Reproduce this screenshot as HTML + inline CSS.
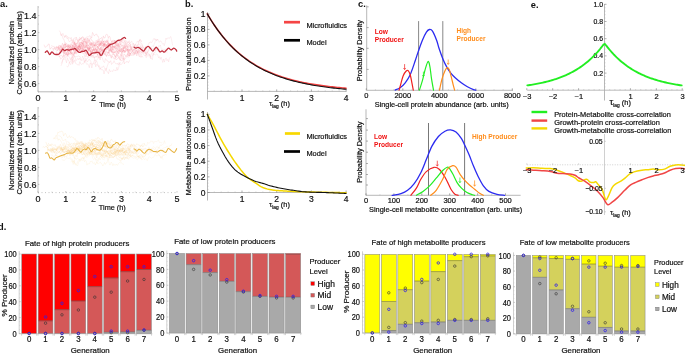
<!DOCTYPE html>
<html><head><meta charset="utf-8"><style>
html,body{margin:0;padding:0;background:#fff;width:685px;height:355px;overflow:hidden}
svg{display:block;will-change:transform}
text{font-family:"Liberation Sans",sans-serif}
</style></head><body>
<svg width="685" height="355" viewBox="0 0 685 355">
<rect width="685" height="355" fill="#fff"/>
<text x="0.00" y="7.30" font-size="9.3" text-anchor="start" fill="#111" font-weight="bold">a.</text>
<text x="185.00" y="7.30" font-size="9.3" text-anchor="start" fill="#111" font-weight="bold">b.</text>
<text x="358.00" y="7.30" font-size="9.3" text-anchor="start" fill="#111" font-weight="bold">c.</text>
<text x="530.80" y="8.00" font-size="9.3" text-anchor="start" fill="#111" font-weight="bold">e.</text>
<text x="-2.00" y="229.70" font-size="9.3" text-anchor="start" fill="#111" font-weight="bold">d.</text>
<line x1="38.00" y1="6.00" x2="38.00" y2="91.80" stroke="#aaa" stroke-width="0.7"/>
<line x1="38.00" y1="91.80" x2="178.00" y2="91.80" stroke="#999" stroke-width="0.7"/>
<line x1="38.00" y1="91.80" x2="38.00" y2="90.30" stroke="#aaa" stroke-width="0.6"/>
<text x="38.00" y="101.14" font-size="9.0" text-anchor="middle" fill="#111" stroke="#111" stroke-width="0.2">0</text>
<line x1="65.80" y1="91.80" x2="65.80" y2="90.30" stroke="#aaa" stroke-width="0.6"/>
<text x="65.80" y="101.14" font-size="9.0" text-anchor="middle" fill="#111" stroke="#111" stroke-width="0.2">1</text>
<line x1="93.60" y1="91.80" x2="93.60" y2="90.30" stroke="#aaa" stroke-width="0.6"/>
<text x="93.60" y="101.14" font-size="9.0" text-anchor="middle" fill="#111" stroke="#111" stroke-width="0.2">2</text>
<line x1="121.40" y1="91.80" x2="121.40" y2="90.30" stroke="#aaa" stroke-width="0.6"/>
<text x="121.40" y="101.14" font-size="9.0" text-anchor="middle" fill="#111" stroke="#111" stroke-width="0.2">3</text>
<line x1="149.20" y1="91.80" x2="149.20" y2="90.30" stroke="#aaa" stroke-width="0.6"/>
<text x="149.20" y="101.14" font-size="9.0" text-anchor="middle" fill="#111" stroke="#111" stroke-width="0.2">4</text>
<line x1="177.00" y1="91.80" x2="177.00" y2="90.30" stroke="#aaa" stroke-width="0.6"/>
<text x="177.00" y="101.14" font-size="9.0" text-anchor="middle" fill="#111" stroke="#111" stroke-width="0.2">5</text>
<line x1="51.90" y1="91.80" x2="51.90" y2="90.80" stroke="#aaa" stroke-width="0.5"/>
<line x1="65.80" y1="91.80" x2="65.80" y2="90.80" stroke="#aaa" stroke-width="0.5"/>
<line x1="79.70" y1="91.80" x2="79.70" y2="90.80" stroke="#aaa" stroke-width="0.5"/>
<line x1="93.60" y1="91.80" x2="93.60" y2="90.80" stroke="#aaa" stroke-width="0.5"/>
<line x1="107.50" y1="91.80" x2="107.50" y2="90.80" stroke="#aaa" stroke-width="0.5"/>
<line x1="121.40" y1="91.80" x2="121.40" y2="90.80" stroke="#aaa" stroke-width="0.5"/>
<line x1="135.30" y1="91.80" x2="135.30" y2="90.80" stroke="#aaa" stroke-width="0.5"/>
<line x1="149.20" y1="91.80" x2="149.20" y2="90.80" stroke="#aaa" stroke-width="0.5"/>
<line x1="163.10" y1="91.80" x2="163.10" y2="90.80" stroke="#aaa" stroke-width="0.5"/>
<line x1="38.00" y1="83.60" x2="39.30" y2="83.60" stroke="#999" stroke-width="0.6"/>
<text x="36.60" y="86.84" font-size="9.0" text-anchor="end" fill="#111" stroke="#111" stroke-width="0.2">0.6</text>
<line x1="38.00" y1="66.60" x2="39.30" y2="66.60" stroke="#999" stroke-width="0.6"/>
<text x="36.60" y="69.84" font-size="9.0" text-anchor="end" fill="#111" stroke="#111" stroke-width="0.2">0.8</text>
<line x1="38.00" y1="49.60" x2="39.30" y2="49.60" stroke="#999" stroke-width="0.6"/>
<text x="36.60" y="52.84" font-size="9.0" text-anchor="end" fill="#111" stroke="#111" stroke-width="0.2">1.0</text>
<line x1="38.00" y1="32.60" x2="39.30" y2="32.60" stroke="#999" stroke-width="0.6"/>
<text x="36.60" y="35.84" font-size="9.0" text-anchor="end" fill="#111" stroke="#111" stroke-width="0.2">1.2</text>
<line x1="38.00" y1="15.60" x2="39.30" y2="15.60" stroke="#999" stroke-width="0.6"/>
<text x="36.60" y="18.84" font-size="9.0" text-anchor="end" fill="#111" stroke="#111" stroke-width="0.2">1.4</text>
<line x1="38.00" y1="92.10" x2="39.00" y2="92.10" stroke="#aaa" stroke-width="0.5"/>
<line x1="38.00" y1="75.10" x2="39.00" y2="75.10" stroke="#aaa" stroke-width="0.5"/>
<line x1="38.00" y1="58.10" x2="39.00" y2="58.10" stroke="#aaa" stroke-width="0.5"/>
<line x1="38.00" y1="41.10" x2="39.00" y2="41.10" stroke="#aaa" stroke-width="0.5"/>
<line x1="38.00" y1="24.10" x2="39.00" y2="24.10" stroke="#aaa" stroke-width="0.5"/>
<line x1="38.00" y1="7.10" x2="39.00" y2="7.10" stroke="#aaa" stroke-width="0.5"/>
<polyline points="56.63,46.27 57.47,47.82 58.30,46.16 59.13,50.15 59.97,47.57 60.80,45.07 61.64,46.54 62.47,43.20 63.30,45.34 64.14,44.23 64.97,45.11 65.81,44.23 66.64,43.39 67.47,45.61 68.31,48.50 69.14,50.39 69.98,51.22 70.81,46.90 71.64,47.06 72.48,45.76 73.31,46.29 74.15,47.56 74.98,46.74 75.81,44.06 76.65,42.90 77.48,42.46 78.32,40.97 79.15,38.92 79.98,40.47 80.82,38.67 81.65,37.67 82.49,36.60 83.32,37.02 84.15,38.05 84.99,39.75 85.82,37.59 86.66,37.14 87.49,36.89 88.32,37.08 89.16,36.19 89.99,35.57 90.83,36.68 91.66,37.96 92.49,32.46 93.33,33.83 94.16,35.82 95.00,35.41 95.83,34.16 96.66,34.10 97.50,36.26 98.33,36.29 99.17,39.87 100.00,38.65 100.83,38.41 101.67,37.37 102.50,40.90 103.34,35.88 104.17,38.02 105.00,38.04 105.84,34.76 106.67,34.33 107.51,34.74 108.34,38.40 109.17,36.14 110.01,36.81 110.84,40.76 111.68,41.82 112.51,41.18 113.34,40.09 114.18,40.90 115.01,39.99 115.85,42.03 116.68,42.49 117.51,42.42 118.35,44.37 119.18,43.06 120.02,40.32 120.85,44.27 121.68,40.21 122.52,42.80 123.35,42.18 124.19,43.55 125.02,46.56 125.85,46.39 126.69,46.32 127.52,44.64 128.36,44.81 129.19,45.22 130.02,45.95 130.86,46.81 131.69,48.56" fill="none" stroke="#f07080" stroke-width="0.75" stroke-linejoin="round" stroke-linecap="round" stroke-opacity="0.22"/>
<polyline points="73.93,47.09 74.76,48.52 75.59,51.91 76.43,47.92 77.26,46.90 78.10,48.53 78.93,48.17 79.76,50.99 80.60,51.44 81.43,51.59 82.27,48.97 83.10,47.23 83.93,51.38 84.77,49.16 85.60,46.46 86.44,44.81 87.27,47.85 88.10,50.19 88.94,49.36 89.77,47.91 90.61,51.70 91.44,54.41 92.27,54.01 93.11,52.60 93.94,52.07 94.78,53.08 95.61,48.84 96.44,49.81 97.28,49.66 98.11,50.43 98.95,52.41 99.78,48.97 100.61,49.59 101.45,48.98 102.28,50.02 103.12,50.55 103.95,51.85 104.78,51.47 105.62,55.65 106.45,56.57 107.29,54.53 108.12,55.36 108.95,55.95 109.79,54.69 110.62,56.87 111.46,58.24 112.29,54.80 113.12,53.86 113.96,55.18 114.79,55.97 115.63,57.31 116.46,53.71 117.29,55.38 118.13,56.97 118.96,57.36 119.80,60.15 120.63,60.03 121.46,54.64 122.30,58.94 123.13,58.44 123.97,54.00 124.80,54.44 125.63,55.87 126.47,55.09 127.30,54.50 128.14,54.69 128.97,56.29 129.80,52.80 130.64,53.89 131.47,51.74 132.31,53.11 133.14,54.10 133.97,54.25 134.81,52.99 135.64,51.09 136.48,50.93 137.31,53.31 138.14,50.45 138.98,53.44 139.81,50.06 140.65,52.00 141.48,52.84 142.31,52.20 143.15,51.02 143.98,53.70" fill="none" stroke="#f07080" stroke-width="0.75" stroke-linejoin="round" stroke-linecap="round" stroke-opacity="0.22"/>
<polyline points="60.16,50.43 61.00,51.69 61.83,48.97 62.67,47.59 63.50,46.96 64.33,48.42 65.17,47.76 66.00,46.06 66.84,46.96 67.67,47.00 68.50,45.95 69.34,47.93 70.17,47.41 71.01,45.81 71.84,44.92 72.67,45.24 73.51,47.64 74.34,47.86 75.18,49.47 76.01,47.57 76.84,50.82 77.68,49.86 78.51,48.77 79.35,50.14 80.18,47.99 81.01,46.89 81.85,44.61 82.68,47.73 83.52,45.85 84.35,47.06 85.18,47.72 86.02,47.28 86.85,47.81 87.69,47.69 88.52,50.94 89.35,48.52 90.19,50.83 91.02,52.81 91.86,52.13 92.69,51.89 93.52,53.85 94.36,54.25 95.19,52.89 96.03,53.49 96.86,50.66 97.69,46.47 98.53,49.31 99.36,49.46 100.20,51.89 101.03,51.97 101.86,54.30 102.70,50.90 103.53,52.78 104.37,50.93 105.20,51.63 106.03,50.66 106.87,52.16 107.70,51.99 108.54,53.18 109.37,50.15 110.20,48.05 111.04,51.79 111.87,50.47 112.71,48.53 113.54,49.75 114.37,49.12 115.21,48.67 116.04,48.33 116.88,47.89 117.71,50.25 118.54,46.66 119.38,50.28 120.21,51.52 121.05,51.97 121.88,49.74 122.71,51.94 123.55,50.13 124.38,52.77 125.22,50.77 126.05,50.58 126.88,50.87 127.72,49.09 128.55,52.94 129.39,50.99" fill="none" stroke="#f07080" stroke-width="0.75" stroke-linejoin="round" stroke-linecap="round" stroke-opacity="0.22"/>
<polyline points="68.05,51.06 68.88,49.01 69.72,49.57 70.55,48.29 71.39,47.71 72.22,46.94 73.05,49.65 73.89,49.28 74.72,48.64 75.56,49.79 76.39,47.42 77.22,47.24 78.06,46.08 78.89,46.69 79.73,43.50 80.56,41.94 81.39,42.83 82.23,44.50 83.06,42.44 83.90,45.74 84.73,44.47 85.56,44.31 86.40,46.87 87.23,47.77 88.07,48.12 88.90,48.31 89.73,49.33 90.57,48.09 91.40,48.04 92.24,47.79 93.07,47.40 93.90,49.82 94.74,49.25 95.57,48.53 96.41,51.18 97.24,50.30 98.07,52.53 98.91,52.38 99.74,53.14 100.58,47.55 101.41,50.32 102.24,50.61 103.08,49.33 103.91,49.84 104.75,48.43 105.58,49.83 106.41,49.96 107.25,47.91 108.08,47.03 108.92,49.26 109.75,48.89 110.58,51.07 111.42,52.66 112.25,51.11 113.09,54.17" fill="none" stroke="#f07080" stroke-width="0.75" stroke-linejoin="round" stroke-linecap="round" stroke-opacity="0.22"/>
<polyline points="52.57,51.92 53.41,50.58 54.24,47.55 55.07,48.00 55.91,50.11 56.74,50.86 57.58,50.39 58.41,48.21 59.24,48.15 60.08,50.34 60.91,48.59 61.75,49.32 62.58,50.56 63.41,52.47 64.25,49.50 65.08,47.74 65.92,47.69 66.75,46.75 67.58,45.84 68.42,44.34 69.25,45.61 70.09,46.91 70.92,45.84 71.75,47.71 72.59,46.84 73.42,43.54 74.26,44.85 75.09,42.78 75.92,45.24 76.76,43.46 77.59,43.60 78.43,46.32 79.26,45.32 80.09,47.91 80.93,43.74 81.76,42.02 82.60,44.68 83.43,42.35 84.26,46.66 85.10,47.03 85.93,45.92 86.77,47.45 87.60,49.42 88.43,47.33 89.27,47.26 90.10,46.03 90.94,45.15 91.77,42.19 92.60,44.50 93.44,44.97 94.27,44.70 95.11,48.24 95.94,45.74 96.77,44.93 97.61,44.59 98.44,45.70 99.28,43.78 100.11,45.32 100.94,43.16 101.78,47.41 102.61,45.78 103.45,45.05 104.28,44.14 105.11,46.96 105.95,45.58 106.78,43.96 107.62,45.08 108.45,46.66 109.28,44.08 110.12,45.55 110.95,49.25 111.79,49.49 112.62,45.73 113.45,47.01 114.29,48.08 115.12,45.79 115.96,49.77 116.79,47.60 117.62,48.23 118.46,51.11 119.29,48.96 120.13,49.23 120.96,49.58 121.79,53.83 122.63,50.53 123.46,48.93 124.30,47.66 125.13,47.75 125.96,45.16 126.80,46.24 127.63,47.37 128.47,46.19 129.30,45.91 130.13,46.06 130.97,45.00" fill="none" stroke="#f07080" stroke-width="0.75" stroke-linejoin="round" stroke-linecap="round" stroke-opacity="0.22"/>
<polyline points="59.54,50.95 60.38,49.98 61.21,47.88 62.04,49.54 62.88,48.62 63.71,45.46 64.55,47.87 65.38,44.17 66.21,45.86 67.05,46.95 67.88,48.82 68.72,45.65 69.55,48.11 70.38,49.81 71.22,50.83 72.05,49.05 72.89,48.73 73.72,46.49 74.55,45.79 75.39,45.93 76.22,47.90 77.06,48.85 77.89,49.33 78.72,49.77 79.56,50.66 80.39,49.11 81.23,50.74 82.06,50.45 82.89,50.39 83.73,48.90 84.56,51.80 85.40,50.37 86.23,53.66 87.06,52.22 87.90,53.03 88.73,48.88 89.57,51.44 90.40,51.45 91.23,52.77 92.07,49.56 92.90,51.07 93.74,48.99 94.57,50.37 95.40,48.26 96.24,50.89 97.07,47.99 97.91,46.15 98.74,47.89 99.57,49.39 100.41,47.43 101.24,47.15 102.08,48.61 102.91,49.42 103.74,46.37 104.58,42.90 105.41,40.99 106.25,41.57 107.08,41.95 107.91,39.57 108.75,44.10 109.58,45.26 110.42,45.35 111.25,42.18 112.08,40.50 112.92,42.28 113.75,41.83 114.59,40.33 115.42,43.53 116.25,45.07 117.09,47.45 117.92,45.37 118.76,45.50 119.59,43.96 120.42,44.22 121.26,45.03 122.09,45.42 122.93,45.53 123.76,46.09 124.59,45.44 125.43,48.20 126.26,48.11 127.10,48.58 127.93,53.97 128.76,49.55 129.60,53.59 130.43,53.69" fill="none" stroke="#f07080" stroke-width="0.75" stroke-linejoin="round" stroke-linecap="round" stroke-opacity="0.22"/>
<polyline points="58.99,56.31 59.82,56.74 60.65,59.14 61.49,58.30 62.32,57.52 63.16,57.05 63.99,54.78 64.82,56.63 65.66,53.88 66.49,55.24 67.33,54.49 68.16,54.73 68.99,53.13 69.83,54.75 70.66,54.35 71.50,52.99 72.33,57.82 73.16,53.76 74.00,52.49 74.83,53.11 75.67,52.13 76.50,52.70 77.33,51.93 78.17,51.31 79.00,52.25 79.84,48.76 80.67,48.71 81.50,47.34 82.34,47.25 83.17,46.28 84.01,48.03 84.84,47.81 85.67,47.90 86.51,46.92 87.34,43.18 88.18,41.86 89.01,43.16 89.84,44.54 90.68,42.87 91.51,42.75 92.35,45.71 93.18,44.27 94.01,43.64 94.85,45.46 95.68,44.02 96.52,47.50 97.35,46.63 98.18,47.18 99.02,45.55 99.85,45.28 100.69,43.88 101.52,40.67 102.35,43.55 103.19,44.67 104.02,46.17 104.86,44.21 105.69,44.71 106.52,45.96 107.36,44.59 108.19,42.95 109.03,44.65 109.86,46.67 110.69,48.07 111.53,50.35 112.36,52.62 113.20,52.26 114.03,53.93 114.86,55.38 115.70,56.78 116.53,54.85 117.37,54.87 118.20,55.32 119.03,56.26 119.87,57.61 120.70,54.51 121.54,53.80 122.37,55.15 123.20,57.53 124.04,59.71 124.87,57.66 125.71,56.08 126.54,56.87 127.37,55.48 128.21,53.27 129.04,56.01 129.88,55.68 130.71,53.43" fill="none" stroke="#f07080" stroke-width="0.75" stroke-linejoin="round" stroke-linecap="round" stroke-opacity="0.22"/>
<polyline points="62.03,48.84 62.86,45.49 63.70,45.40 64.53,44.21 65.37,42.62 66.20,44.87 67.03,45.83 67.87,44.60 68.70,46.72 69.54,44.65 70.37,46.91 71.20,44.30 72.04,44.53 72.87,46.22 73.71,45.39 74.54,41.95 75.37,44.10 76.21,46.56 77.04,46.41 77.88,48.34 78.71,46.18 79.54,43.58 80.38,44.36 81.21,45.31 82.05,46.48 82.88,43.28 83.71,44.92 84.55,48.27 85.38,46.54 86.22,43.73 87.05,42.45 87.88,41.31 88.72,40.95 89.55,40.41 90.39,37.66 91.22,39.18 92.05,40.98 92.89,41.05 93.72,42.34 94.56,42.05 95.39,43.35 96.22,40.26 97.06,41.90 97.89,40.48 98.73,41.99 99.56,44.46 100.39,45.38 101.23,42.29 102.06,43.53 102.90,41.32 103.73,41.97 104.56,40.63 105.40,41.50 106.23,42.22 107.07,41.34 107.90,41.62 108.73,43.00 109.57,44.68 110.40,44.80 111.24,43.39 112.07,41.71 112.90,43.42 113.74,42.20 114.57,40.88 115.41,43.76 116.24,42.73 117.07,44.94 117.91,46.55 118.74,46.10 119.58,47.60 120.41,49.14 121.24,50.17 122.08,47.89 122.91,48.81 123.75,47.04 124.58,47.13 125.41,44.82 126.25,43.92 127.08,44.12 127.92,41.92 128.75,41.83 129.58,43.52 130.42,44.69" fill="none" stroke="#f07080" stroke-width="0.75" stroke-linejoin="round" stroke-linecap="round" stroke-opacity="0.22"/>
<polyline points="44.18,45.02 45.02,47.42 45.85,46.83 46.68,46.19 47.52,45.84 48.35,44.04 49.19,44.03 50.02,49.27 50.85,48.03 51.69,47.38 52.52,49.18 53.36,48.98 54.19,48.18 55.02,49.56 55.86,48.78 56.69,46.78 57.53,47.34 58.36,47.54 59.19,46.57 60.03,48.34 60.86,46.09 61.70,46.61 62.53,49.06 63.36,51.34 64.20,53.93 65.03,52.08 65.87,51.84 66.70,52.75 67.53,55.96 68.37,52.33 69.20,49.72 70.04,52.45 70.87,52.60 71.70,54.17 72.54,52.09 73.37,52.52 74.21,53.64 75.04,52.82 75.87,50.24 76.71,49.26 77.54,50.75 78.38,46.67 79.21,48.24 80.04,47.01 80.88,48.69 81.71,48.78 82.55,49.22 83.38,48.25 84.21,49.67 85.05,49.96 85.88,51.33 86.72,50.33 87.55,47.31 88.38,49.10 89.22,48.32 90.05,52.43 90.89,50.59 91.72,51.91 92.55,52.56 93.39,49.19 94.22,45.62 95.06,45.73 95.89,45.09 96.72,46.03 97.56,46.12 98.39,48.24 99.23,48.27 100.06,49.76 100.89,47.51 101.73,51.25 102.56,48.92 103.40,50.54 104.23,49.70 105.06,48.53 105.90,48.30 106.73,48.73 107.57,48.75 108.40,49.85 109.23,50.94 110.07,49.09 110.90,50.29 111.74,50.20 112.57,49.87 113.40,48.33 114.24,52.95 115.07,50.53 115.91,53.51 116.74,53.84 117.57,50.79 118.41,53.28 119.24,50.45 120.08,51.88 120.91,51.41 121.74,52.64 122.58,51.05 123.41,50.44 124.25,50.87 125.08,51.53 125.91,51.48" fill="none" stroke="#f07080" stroke-width="0.75" stroke-linejoin="round" stroke-linecap="round" stroke-opacity="0.22"/>
<polyline points="59.03,49.34 59.86,53.24 60.69,49.58 61.53,51.92 62.36,51.39 63.20,52.80 64.03,53.30 64.86,54.06 65.70,54.44 66.53,53.68 67.37,55.56 68.20,53.47 69.03,51.31 69.87,51.86 70.70,51.79 71.54,52.65 72.37,54.43 73.20,54.35 74.04,54.66 74.87,51.62 75.71,53.17 76.54,53.93 77.37,51.84 78.21,50.25 79.04,45.37 79.88,47.24 80.71,43.60 81.54,42.81 82.38,43.97 83.21,41.21 84.05,42.34 84.88,41.29 85.71,42.80 86.55,43.90 87.38,45.95 88.22,45.79 89.05,49.44 89.88,47.00 90.72,47.07 91.55,48.70 92.39,49.99 93.22,49.82 94.05,50.16 94.89,50.65 95.72,52.03 96.56,51.45 97.39,55.05 98.22,51.28 99.06,52.56 99.89,57.84 100.73,52.46 101.56,51.97 102.39,50.43 103.23,51.13 104.06,53.27 104.90,54.64 105.73,53.77 106.56,56.13 107.40,54.50 108.23,52.34 109.07,53.53 109.90,50.14 110.73,50.12 111.57,51.79 112.40,48.36 113.24,53.13 114.07,51.88 114.90,52.96 115.74,51.24 116.57,50.52 117.41,53.10 118.24,54.18 119.07,52.45 119.91,50.36 120.74,50.61 121.58,47.98 122.41,50.16 123.24,48.81 124.08,49.04 124.91,48.16 125.75,49.68 126.58,49.63 127.41,49.54 128.25,50.31 129.08,48.90 129.92,51.14 130.75,48.57 131.58,50.13 132.42,51.67 133.25,49.15 134.09,49.95 134.92,48.18 135.75,48.82 136.59,47.68 137.42,45.11 138.26,44.04 139.09,41.60 139.92,39.39 140.76,39.88 141.59,41.69" fill="none" stroke="#f07080" stroke-width="0.75" stroke-linejoin="round" stroke-linecap="round" stroke-opacity="0.22"/>
<polyline points="56.51,51.95 57.34,54.51 58.17,54.28 59.01,56.51 59.84,55.98 60.68,55.58 61.51,55.60 62.34,56.25 63.18,56.46 64.01,52.05 64.85,51.50 65.68,52.34 66.51,54.60 67.35,52.38 68.18,48.85 69.02,50.16 69.85,51.28 70.68,53.39 71.52,48.97 72.35,47.22 73.19,47.54 74.02,51.01 74.85,46.18 75.69,47.55 76.52,44.80 77.36,46.46 78.19,45.84 79.02,47.12 79.86,44.70 80.69,48.70 81.53,46.06 82.36,49.73 83.19,46.35 84.03,44.31 84.86,42.67 85.70,40.93 86.53,43.31 87.36,40.43 88.20,41.29 89.03,40.55 89.87,41.05 90.70,42.89 91.53,43.63 92.37,43.44 93.20,42.55 94.04,45.59 94.87,45.38 95.70,45.19 96.54,43.54 97.37,44.43 98.21,44.85 99.04,43.41 99.87,40.89 100.71,44.30 101.54,41.23 102.38,41.77 103.21,40.97 104.04,46.61 104.88,43.75 105.71,42.98 106.55,39.91 107.38,41.41 108.21,45.88 109.05,43.24 109.88,46.08 110.72,46.63 111.55,48.01 112.38,47.63" fill="none" stroke="#f07080" stroke-width="0.75" stroke-linejoin="round" stroke-linecap="round" stroke-opacity="0.22"/>
<polyline points="55.93,47.39 56.77,47.25 57.60,48.63 58.43,48.14 59.27,48.22 60.10,47.56 60.94,46.91 61.77,47.64 62.60,48.45 63.44,50.62 64.27,51.43 65.11,49.71 65.94,49.31 66.77,49.99 67.61,49.65 68.44,47.99 69.28,48.25 70.11,46.94 70.94,48.09 71.78,50.11 72.61,45.47 73.45,45.45 74.28,47.78 75.11,44.56 75.95,45.49 76.78,45.03 77.62,47.88 78.45,47.14 79.28,45.91 80.12,48.44 80.95,48.55 81.79,51.08 82.62,53.12 83.45,53.35 84.29,54.81 85.12,56.87 85.96,54.58 86.79,54.18 87.62,53.16 88.46,53.15 89.29,53.56 90.13,54.14 90.96,51.96 91.79,50.88 92.63,51.43 93.46,48.91 94.30,48.54 95.13,49.13 95.96,48.79 96.80,52.09 97.63,51.77 98.47,47.75 99.30,46.99 100.13,45.88 100.97,44.64 101.80,45.14 102.64,46.25 103.47,43.87 104.30,46.57 105.14,45.76 105.97,47.08 106.81,48.02 107.64,46.43 108.47,44.82 109.31,46.63 110.14,45.41 110.98,46.06 111.81,44.42 112.64,46.95 113.48,46.32 114.31,47.73 115.15,43.32 115.98,45.56 116.81,45.67 117.65,43.39 118.48,45.66 119.32,46.41 120.15,47.25 120.98,46.46 121.82,46.56 122.65,46.88 123.49,50.79 124.32,50.20 125.15,52.66 125.99,49.59 126.82,50.55 127.66,50.93" fill="none" stroke="#f07080" stroke-width="0.75" stroke-linejoin="round" stroke-linecap="round" stroke-opacity="0.22"/>
<polyline points="51.54,45.82 52.37,46.14 53.21,46.19 54.04,47.22 54.87,46.66 55.71,47.49 56.54,48.18 57.38,50.55 58.21,49.36 59.04,44.94 59.88,46.15 60.71,46.31 61.55,47.84 62.38,47.84 63.21,49.04 64.05,46.09 64.88,44.51 65.72,46.67 66.55,46.24 67.38,46.96 68.22,45.78 69.05,45.79 69.89,46.28 70.72,44.17 71.55,42.71 72.39,42.68 73.22,42.32 74.06,43.54 74.89,45.09 75.72,46.04 76.56,47.52 77.39,47.23 78.23,48.99 79.06,47.60 79.89,46.13 80.73,46.68 81.56,45.51 82.40,42.48 83.23,41.84 84.06,38.84 84.90,41.93 85.73,43.78 86.57,42.86 87.40,46.69 88.23,45.80 89.07,45.44 89.90,43.59 90.74,44.13 91.57,45.09 92.40,46.72 93.24,44.70 94.07,46.34 94.91,44.27 95.74,43.60 96.57,42.09 97.41,41.45 98.24,44.33 99.08,46.01 99.91,43.09 100.74,44.38 101.58,44.02 102.41,45.84 103.25,43.71 104.08,44.23 104.91,43.71 105.75,44.78 106.58,45.17 107.42,47.80 108.25,47.25 109.08,43.48 109.92,43.77 110.75,46.73 111.59,48.48 112.42,47.14 113.25,46.02 114.09,47.48 114.92,45.91 115.76,47.70 116.59,51.00 117.42,52.35 118.26,50.80 119.09,50.97 119.93,50.75" fill="none" stroke="#f07080" stroke-width="0.75" stroke-linejoin="round" stroke-linecap="round" stroke-opacity="0.22"/>
<polyline points="72.88,43.24 73.71,38.81 74.54,37.90 75.38,38.32 76.21,37.02 77.05,39.12 77.88,41.29 78.71,41.15 79.55,37.48 80.38,38.29 81.22,38.46 82.05,37.10 82.88,38.42 83.72,38.12 84.55,39.98 85.39,40.85 86.22,41.32 87.05,37.99 87.89,39.71 88.72,40.24 89.56,39.76 90.39,45.56 91.22,43.49 92.06,44.75 92.89,42.49 93.73,42.95 94.56,44.15 95.39,43.91 96.23,42.82 97.06,42.57 97.90,42.13 98.73,41.71 99.56,40.51 100.40,40.84 101.23,42.27 102.07,44.12 102.90,43.15 103.73,40.99 104.57,44.44 105.40,43.66 106.24,42.24 107.07,41.94 107.90,44.51 108.74,48.36 109.57,46.18 110.41,45.50 111.24,47.02 112.07,46.35 112.91,46.37 113.74,47.13 114.58,47.26 115.41,46.19 116.24,44.48 117.08,45.88 117.91,44.83 118.75,44.55 119.58,46.12 120.41,44.03 121.25,45.55 122.08,44.96 122.92,45.50 123.75,48.63 124.58,46.67 125.42,48.01 126.25,48.23 127.09,47.61 127.92,45.59 128.75,44.75 129.59,43.42 130.42,44.54 131.26,47.80 132.09,49.88 132.92,51.70 133.76,52.28 134.59,53.45 135.43,49.20 136.26,50.96 137.09,49.60 137.93,48.78 138.76,49.52 139.60,47.89 140.43,46.92 141.26,47.86 142.10,46.40 142.93,50.95 143.77,51.10 144.60,50.38 145.43,52.68 146.27,57.69" fill="none" stroke="#f07080" stroke-width="0.75" stroke-linejoin="round" stroke-linecap="round" stroke-opacity="0.22"/>
<polyline points="62.60,51.69 63.44,51.28 64.27,51.66 65.10,53.62 65.94,53.79 66.77,52.36 67.61,50.90 68.44,55.36 69.27,52.78 70.11,53.90 70.94,51.90 71.78,49.53 72.61,49.07 73.44,51.43 74.28,48.15 75.11,50.34 75.95,50.83 76.78,48.37 77.61,48.64 78.45,48.95 79.28,49.22 80.12,48.68 80.95,49.02 81.78,48.31 82.62,48.83 83.45,50.05 84.29,51.64 85.12,54.16 85.95,51.89 86.79,56.75 87.62,56.64 88.46,56.51 89.29,53.95 90.12,53.51 90.96,55.75 91.79,55.85 92.63,55.70 93.46,54.90 94.29,57.83 95.13,57.68 95.96,55.86 96.80,57.34 97.63,54.41 98.46,57.59 99.30,57.43 100.13,59.81 100.97,55.78 101.80,55.38 102.63,55.58 103.47,53.73 104.30,54.49 105.14,52.35 105.97,53.43 106.80,52.47 107.64,53.32 108.47,51.35 109.31,54.49 110.14,55.36 110.97,54.68 111.81,57.42 112.64,56.37 113.48,57.70 114.31,59.26 115.14,57.46 115.98,59.77 116.81,59.25 117.65,58.83 118.48,57.67 119.31,57.94 120.15,59.21 120.98,60.86 121.82,60.50 122.65,60.22 123.48,58.35 124.32,63.83 125.15,62.55 125.99,61.69 126.82,61.89 127.65,61.84 128.49,62.62 129.32,60.83" fill="none" stroke="#f07080" stroke-width="0.75" stroke-linejoin="round" stroke-linecap="round" stroke-opacity="0.22"/>
<polyline points="68.43,48.71 69.26,47.05 70.09,49.06 70.93,50.86 71.76,49.76 72.60,48.84 73.43,49.26 74.26,50.95 75.10,54.05 75.93,53.02 76.77,51.48 77.60,49.29 78.43,52.00 79.27,49.57 80.10,49.58 80.94,52.56 81.77,52.60 82.60,52.84 83.44,49.26 84.27,49.93 85.11,50.94 85.94,52.60 86.77,51.29 87.61,52.06 88.44,49.14 89.28,47.16 90.11,50.98 90.94,49.78 91.78,49.25 92.61,51.91 93.45,50.22 94.28,49.65 95.11,52.49 95.95,50.91 96.78,51.30 97.62,53.14 98.45,53.63 99.28,52.20 100.12,51.11 100.95,51.54 101.79,48.39 102.62,47.50 103.45,47.43 104.29,43.72 105.12,45.75 105.96,45.36 106.79,44.88 107.62,48.15 108.46,46.85 109.29,43.63 110.13,42.94 110.96,44.99 111.79,44.30 112.63,46.14 113.46,43.09 114.30,43.12 115.13,42.10 115.96,43.18 116.80,43.51 117.63,45.36 118.47,44.02 119.30,42.83 120.13,41.57 120.97,40.79 121.80,41.37 122.64,39.63 123.47,38.74 124.30,41.84 125.14,40.29 125.97,44.29 126.81,45.35 127.64,47.45 128.47,47.12 129.31,47.40 130.14,46.23 130.98,49.58 131.81,49.41 132.64,48.64 133.48,50.99 134.31,48.73 135.15,52.40 135.98,53.67 136.81,55.91 137.65,51.59 138.48,54.85 139.32,56.76 140.15,55.45 140.98,57.42 141.82,55.70 142.65,57.03" fill="none" stroke="#f07080" stroke-width="0.75" stroke-linejoin="round" stroke-linecap="round" stroke-opacity="0.22"/>
<polyline points="126.70,46.34 127.53,47.97 128.37,51.80 129.20,52.62 130.03,55.46 130.87,52.93 131.70,52.74 132.54,50.51 133.37,52.99 134.20,55.15 135.04,53.26 135.87,54.34 136.71,50.70 137.54,51.20 138.37,53.93 139.21,54.96 140.04,54.70 140.88,53.50 141.71,50.10 142.54,49.31 143.38,48.81 144.21,52.26 145.05,52.41 145.88,53.03 146.71,54.75 147.55,53.36 148.38,54.85 149.22,54.48 150.05,54.50 150.88,57.64 151.72,56.64 152.55,55.91 153.39,53.93 154.22,53.16" fill="none" stroke="#f07080" stroke-width="0.75" stroke-linejoin="round" stroke-linecap="round" stroke-opacity="0.15"/>
<polyline points="126.17,55.71 127.01,56.18 127.84,56.46 128.67,57.47 129.51,54.97 130.34,54.01 131.18,55.15 132.01,55.73 132.84,55.22 133.68,55.50 134.51,54.41 135.35,53.53 136.18,50.07 137.01,49.66 137.85,51.79 138.68,50.56 139.52,51.03 140.35,51.82 141.18,52.13 142.02,51.45 142.85,50.87 143.69,52.24 144.52,51.44 145.35,53.53 146.19,53.25 147.02,52.74 147.86,51.72 148.69,49.74 149.52,50.10 150.36,48.83 151.19,48.91 152.03,48.37 152.86,48.54 153.69,48.84 154.53,47.68 155.36,50.86 156.20,48.30 157.03,50.17 157.86,48.54 158.70,45.68 159.53,46.42 160.37,45.13 161.20,48.55 162.03,50.81 162.87,48.79 163.70,49.80 164.54,49.11 165.37,52.83 166.20,48.45 167.04,52.92" fill="none" stroke="#f07080" stroke-width="0.75" stroke-linejoin="round" stroke-linecap="round" stroke-opacity="0.15"/>
<polyline points="126.92,57.59 127.75,53.75 128.59,55.28 129.42,55.14 130.26,56.04 131.09,55.08 131.92,54.49 132.76,54.67 133.59,51.65 134.43,53.36 135.26,52.62 136.09,53.61 136.93,53.13 137.76,51.68 138.60,49.51 139.43,52.89 140.26,53.44 141.10,54.88 141.93,54.43 142.77,53.38 143.60,54.20 144.43,55.66 145.27,55.30 146.10,56.24 146.94,51.88 147.77,52.59 148.60,53.22 149.44,54.85 150.27,57.50 151.11,54.36 151.94,52.51 152.77,52.89 153.61,54.92 154.44,54.41 155.28,54.97 156.11,54.37 156.94,53.87 157.78,54.89 158.61,57.91 159.45,56.67 160.28,59.32 161.11,57.11 161.95,59.63 162.78,62.51 163.62,58.94 164.45,62.09 165.28,59.19 166.12,57.88 166.95,60.71 167.79,59.39 168.62,61.92 169.45,58.15 170.29,57.21" fill="none" stroke="#f07080" stroke-width="0.75" stroke-linejoin="round" stroke-linecap="round" stroke-opacity="0.15"/>
<polyline points="103.39,50.81 104.23,50.59 105.06,49.25 105.90,49.84 106.73,49.41 107.56,49.38 108.40,49.96 109.23,50.97 110.07,51.11 110.90,47.44 111.73,46.50 112.57,48.17 113.40,46.75 114.24,48.29 115.07,48.47 115.90,47.38 116.74,46.73 117.57,47.10 118.41,45.90 119.24,46.55 120.07,46.09 120.91,48.97 121.74,49.46 122.58,50.33 123.41,46.16 124.24,42.62 125.08,41.93 125.91,44.65 126.75,40.64 127.58,42.68 128.41,42.73 129.25,40.44 130.08,43.35 130.92,41.89 131.75,41.13 132.58,44.35 133.42,43.18 134.25,45.62 135.09,44.66 135.92,44.24 136.75,46.99 137.59,48.06 138.42,45.78 139.26,46.43 140.09,46.87 140.92,46.96 141.76,47.47 142.59,53.14 143.43,51.42 144.26,50.52 145.09,48.53 145.93,45.98 146.76,50.03 147.60,52.82 148.43,50.34 149.26,47.66 150.10,46.75 150.93,48.45 151.77,46.81 152.60,45.73 153.43,46.58 154.27,43.82 155.10,41.88 155.94,39.91 156.77,39.91 157.60,39.03 158.44,40.77 159.27,42.33 160.11,41.13 160.94,40.91 161.77,42.43 162.61,44.15 163.44,43.47 164.28,45.76 165.11,42.56 165.94,38.03 166.78,39.43 167.61,37.95 168.45,37.92 169.28,38.68 170.11,36.87 170.95,36.67 171.78,41.06 172.62,45.13" fill="none" stroke="#f07080" stroke-width="0.75" stroke-linejoin="round" stroke-linecap="round" stroke-opacity="0.15"/>
<polyline points="114.09,54.09 114.93,56.28 115.76,57.79 116.59,57.47 117.43,54.61 118.26,53.73 119.10,52.72 119.93,53.59 120.76,55.26 121.60,55.39 122.43,54.28 123.27,50.89 124.10,47.20 124.93,46.93 125.77,48.32 126.60,48.76 127.44,49.06 128.27,49.95 129.10,50.82 129.94,49.28 130.77,51.94 131.61,47.15 132.44,47.32 133.27,43.64 134.11,44.40 134.94,46.09 135.78,43.83 136.61,42.72 137.44,40.93 138.28,42.26 139.11,40.34 139.95,39.75 140.78,43.43 141.61,43.20 142.45,45.01 143.28,47.11 144.12,48.69 144.95,48.92 145.78,47.05 146.62,47.44 147.45,45.83 148.29,44.36 149.12,42.47 149.95,43.12 150.79,41.64 151.62,42.79 152.46,41.53 153.29,39.47 154.12,38.15 154.96,40.15 155.79,38.83 156.63,41.11 157.46,39.46" fill="none" stroke="#f07080" stroke-width="0.75" stroke-linejoin="round" stroke-linecap="round" stroke-opacity="0.15"/>
<polyline points="118.93,45.03 119.76,50.95 120.59,50.77 121.43,50.98 122.26,51.43 123.10,52.58 123.93,49.89 124.76,51.96 125.60,48.64 126.43,49.99 127.27,50.56 128.10,47.60 128.93,49.36 129.77,49.99 130.60,47.96 131.44,46.47 132.27,47.65 133.10,46.73 133.94,44.78 134.77,45.00 135.61,46.88 136.44,46.04 137.27,45.85 138.11,44.37 138.94,44.63 139.78,43.93 140.61,46.76 141.44,44.75 142.28,44.94 143.11,48.06 143.95,47.20 144.78,48.59 145.61,50.63 146.45,53.71 147.28,55.81 148.12,56.57 148.95,54.95 149.78,55.34 150.62,58.92 151.45,57.91 152.29,59.73 153.12,54.68 153.95,52.50 154.79,52.90 155.62,51.84 156.46,47.54 157.29,48.40 158.12,51.17 158.96,51.15 159.79,51.24" fill="none" stroke="#f07080" stroke-width="0.75" stroke-linejoin="round" stroke-linecap="round" stroke-opacity="0.15"/>
<polyline points="64.53,37.41 65.37,35.33 66.20,35.17 67.03,37.10 67.87,36.71 68.70,38.04 69.54,37.76 70.37,38.82 71.20,37.42 72.04,40.57 72.87,42.03 73.71,41.62 74.54,44.29 75.37,39.50 76.21,39.01 77.04,39.62 77.88,41.70 78.71,42.29 79.54,39.65 80.38,39.26 81.21,37.92 82.05,41.66 82.88,39.97 83.71,42.20 84.55,41.11 85.38,42.36 86.22,42.25 87.05,42.94 87.88,38.08 88.72,40.42 89.55,43.40 90.39,44.36 91.22,43.94 92.05,46.94 92.89,47.34 93.72,46.61 94.56,52.79 95.39,51.46 96.22,53.39 97.06,49.12 97.89,49.97 98.73,52.72 99.56,53.15 100.39,51.53 101.23,50.30 102.06,51.13 102.90,49.95 103.73,49.41 104.56,51.66 105.40,50.89" fill="none" stroke="#f07080" stroke-width="0.75" stroke-linejoin="round" stroke-linecap="round" stroke-opacity="0.19"/>
<polyline points="60.58,34.03 61.41,34.12 62.25,35.78 63.08,38.79 63.92,39.34 64.75,42.66 65.58,47.92 66.42,48.78 67.25,48.28 68.09,50.61 68.92,49.79 69.75,50.81 70.59,51.17 71.42,52.87 72.26,53.09 73.09,53.69 73.92,55.99 74.76,51.26 75.59,50.12 76.43,50.85 77.26,48.31 78.09,49.42 78.93,48.22 79.76,43.40 80.60,42.39 81.43,43.08 82.26,40.25 83.10,39.52 83.93,39.68 84.77,40.27 85.60,38.63 86.43,42.16 87.27,42.77 88.10,45.21 88.94,45.59 89.77,46.71 90.60,47.86 91.44,47.99 92.27,46.85 93.11,46.59 93.94,45.14 94.77,45.08 95.61,45.64 96.44,45.20 97.28,43.79 98.11,39.24 98.94,42.62 99.78,46.44 100.61,42.94 101.45,42.84 102.28,42.71 103.11,43.86 103.95,43.81 104.78,43.79 105.62,44.23 106.45,46.52 107.28,46.40 108.12,48.91" fill="none" stroke="#f07080" stroke-width="0.75" stroke-linejoin="round" stroke-linecap="round" stroke-opacity="0.19"/>
<polyline points="59.54,30.97 60.37,32.39 61.20,35.92 62.04,34.74 62.87,33.39 63.71,35.30 64.54,37.20 65.37,36.08 66.21,37.31 67.04,38.64 67.88,37.99 68.71,40.70 69.54,41.95 70.38,40.99 71.21,39.57 72.05,41.46 72.88,39.60 73.71,40.52 74.55,42.67 75.38,44.37 76.22,43.51 77.05,44.25 77.88,41.78 78.72,44.67 79.55,42.03 80.39,43.85 81.22,44.99 82.05,45.27 82.89,46.06 83.72,45.09 84.56,45.97 85.39,45.92 86.22,45.96 87.06,45.49 87.89,44.65 88.73,44.97 89.56,46.07 90.39,48.71 91.23,44.80" fill="none" stroke="#f07080" stroke-width="0.75" stroke-linejoin="round" stroke-linecap="round" stroke-opacity="0.19"/>
<polyline points="66.82,66.38 67.65,66.96 68.49,65.67 69.32,62.13 70.15,62.27 70.99,60.23 71.82,58.04 72.66,64.23 73.49,58.38 74.32,56.24 75.16,56.94 75.99,56.11 76.83,57.03 77.66,56.57 78.49,55.81 79.33,56.75 80.16,56.64 81.00,59.86 81.83,58.72 82.66,56.12 83.50,58.23 84.33,62.55 85.17,59.43 86.00,62.97 86.83,64.55 87.67,63.83 88.50,65.12 89.34,67.73 90.17,63.07 91.00,63.63 91.84,67.99 92.67,64.17 93.51,63.43 94.34,64.38 95.17,62.45 96.01,61.85 96.84,61.28 97.68,63.91 98.51,66.37 99.34,65.58 100.18,68.47 101.01,67.81 101.85,67.03 102.68,67.28 103.51,65.80 104.35,67.67 105.18,69.63 106.02,68.16 106.85,71.49 107.68,71.93 108.52,73.72 109.35,69.44 110.19,71.35 111.02,71.62 111.85,70.70 112.69,71.64 113.52,69.63 114.36,70.29 115.19,70.08 116.02,70.97 116.86,67.26 117.69,70.26 118.53,68.07 119.36,64.98 120.19,62.34" fill="none" stroke="#f07080" stroke-width="0.75" stroke-linejoin="round" stroke-linecap="round" stroke-opacity="0.17"/>
<polyline points="61.51,63.11 62.34,60.83 63.18,58.75 64.01,59.52 64.85,58.80 65.68,59.93 66.51,62.85 67.35,57.69 68.18,60.26 69.02,60.70 69.85,63.64 70.68,64.61 71.52,62.24 72.35,58.92 73.19,62.04 74.02,62.42 74.85,59.82 75.69,63.63 76.52,64.03 77.36,64.72 78.19,64.38 79.02,65.41 79.86,61.60 80.69,63.89 81.53,64.44 82.36,63.52 83.19,64.27 84.03,62.87 84.86,61.05 85.70,60.50 86.53,60.14 87.36,61.90 88.20,60.73 89.03,58.97 89.87,60.10 90.70,61.05 91.53,64.30 92.37,63.94 93.20,63.57 94.04,61.24 94.87,59.75 95.70,66.81 96.54,64.30 97.37,64.69 98.21,65.96 99.04,67.43 99.87,69.61 100.71,68.13 101.54,69.85 102.38,69.63 103.21,70.14 104.04,74.01 104.88,70.28 105.71,70.42 106.55,68.61 107.38,65.83 108.21,63.53 109.05,61.92 109.88,62.35 110.72,60.61 111.55,64.49 112.38,63.06 113.22,62.96 114.05,60.66 114.89,62.71 115.72,63.81 116.55,63.97 117.39,63.03 118.22,65.08 119.06,62.64 119.89,63.94 120.72,65.06 121.56,63.87 122.39,63.34 123.23,61.38 124.06,60.60 124.89,58.37 125.73,58.76" fill="none" stroke="#f07080" stroke-width="0.75" stroke-linejoin="round" stroke-linecap="round" stroke-opacity="0.17"/>
<polyline points="61.21,65.47 62.05,63.27 62.88,60.07 63.71,57.47 64.55,57.13 65.38,58.43 66.22,56.63 67.05,56.79 67.88,56.18 68.72,56.30 69.55,57.46 70.39,59.79 71.22,57.49 72.05,57.77 72.89,58.62 73.72,55.20 74.56,56.42 75.39,57.97 76.22,60.59 77.06,59.56 77.89,58.19 78.73,59.84 79.56,58.15 80.39,60.18 81.23,60.31 82.06,60.79 82.90,59.38 83.73,58.47 84.56,57.93 85.40,57.92 86.23,59.71 87.07,58.17 87.90,58.02 88.73,57.08 89.57,56.93 90.40,55.98 91.24,57.27 92.07,54.92 92.90,57.58 93.74,56.48 94.57,59.09 95.41,60.55 96.24,60.75 97.07,59.67 97.91,58.74 98.74,56.01 99.58,52.42 100.41,54.13 101.24,56.83 102.08,57.25 102.91,59.83 103.75,61.89 104.58,62.62 105.41,58.55 106.25,60.19 107.08,59.94 107.92,61.85 108.75,61.45 109.58,62.18" fill="none" stroke="#f07080" stroke-width="0.75" stroke-linejoin="round" stroke-linecap="round" stroke-opacity="0.17"/>
<path d="M45.30,52.30 C45.60,52.05 46.62,50.78 47.10,50.80 C47.58,50.82 47.77,51.77 48.20,52.40 C48.63,53.03 49.22,54.53 49.70,54.60 C50.18,54.67 50.68,53.23 51.10,52.80 C51.52,52.37 51.65,51.77 52.20,52.00 C52.75,52.23 53.67,53.78 54.40,54.20 C55.13,54.62 55.87,54.50 56.60,54.50 C57.33,54.50 58.07,54.67 58.80,54.20 C59.53,53.73 60.33,52.55 61.00,51.70 C61.67,50.85 62.20,49.28 62.80,49.10 C63.40,48.92 63.93,50.52 64.60,50.60 C65.27,50.68 66.07,49.67 66.80,49.60 C67.53,49.53 68.27,50.25 69.00,50.20 C69.73,50.15 70.47,49.48 71.20,49.30 C71.93,49.12 72.80,49.25 73.40,49.10 C74.00,48.95 74.32,48.27 74.80,48.40 C75.28,48.53 75.68,49.30 76.30,49.90 C76.92,50.50 77.88,51.58 78.50,52.00 C79.12,52.42 79.45,52.52 80.00,52.40 C80.55,52.28 81.13,51.48 81.80,51.30 C82.47,51.12 83.33,51.48 84.00,51.30 C84.67,51.12 85.25,50.08 85.80,50.20 C86.35,50.32 86.75,51.15 87.30,52.00 C87.85,52.85 88.57,54.87 89.10,55.30 C89.63,55.73 89.98,54.95 90.50,54.60 C91.02,54.25 91.48,53.50 92.20,53.20 C92.92,52.90 93.95,52.93 94.80,52.80 C95.65,52.67 96.60,52.40 97.30,52.40 C98.00,52.40 98.43,52.32 99.00,52.80 C99.57,53.28 100.22,54.95 100.70,55.30 C101.18,55.65 101.42,55.53 101.90,54.90 C102.38,54.27 103.03,52.55 103.60,51.50 C104.17,50.45 104.67,49.37 105.30,48.60 C105.93,47.83 106.62,47.53 107.40,46.90 C108.18,46.27 109.15,45.30 110.00,44.80 C110.85,44.30 111.67,44.25 112.50,43.90 C113.33,43.55 114.15,43.25 115.00,42.70 C115.85,42.15 116.75,41.05 117.60,40.60 C118.45,40.15 119.27,40.37 120.10,40.00 C120.93,39.63 121.90,38.83 122.60,38.40 C123.30,37.97 123.80,37.40 124.30,37.40 C124.80,37.40 125.38,38.23 125.60,38.40" fill="none" stroke="#c0303e" stroke-width="1.3" stroke-linejoin="round" stroke-linecap="round"/>
<path d="M134.00,47.10 C134.30,47.28 135.13,48.17 135.80,48.20 C136.47,48.23 137.27,47.23 138.00,47.30 C138.73,47.37 139.28,47.97 140.20,48.60 C141.12,49.23 142.58,51.17 143.50,51.10 C144.42,51.03 144.92,48.98 145.70,48.20 C146.48,47.42 147.35,46.28 148.20,46.40 C149.05,46.52 150.00,48.12 150.80,48.90 C151.60,49.68 152.15,51.37 153.00,51.10 C153.85,50.83 155.05,47.60 155.90,47.30 C156.75,47.00 157.43,48.53 158.10,49.30 C158.77,50.07 159.23,51.65 159.90,51.90 C160.57,52.15 161.37,50.75 162.10,50.80 C162.83,50.85 163.57,52.33 164.30,52.20 C165.03,52.07 165.77,50.67 166.50,50.00 C167.23,49.33 167.92,48.20 168.70,48.20 C169.48,48.20 170.35,50.00 171.20,50.00 C172.05,50.00 173.00,48.25 173.80,48.20 C174.60,48.15 175.52,49.22 176.00,49.70 C176.48,50.18 176.58,50.87 176.70,51.10" fill="none" stroke="#c0303e" stroke-width="1.3" stroke-linejoin="round" stroke-linecap="round"/>
<line x1="38.00" y1="107.00" x2="38.00" y2="192.60" stroke="#aaa" stroke-width="0.7"/>
<line x1="38.00" y1="192.60" x2="178.00" y2="192.60" stroke="#aaa" stroke-width="0.7" stroke-dasharray="1,2.5"/>
<line x1="38.00" y1="192.60" x2="38.00" y2="191.10" stroke="#aaa" stroke-width="0.6"/>
<text x="38.00" y="201.94" font-size="9.0" text-anchor="middle" fill="#111" stroke="#111" stroke-width="0.2">0</text>
<line x1="65.80" y1="192.60" x2="65.80" y2="191.10" stroke="#aaa" stroke-width="0.6"/>
<text x="65.80" y="201.94" font-size="9.0" text-anchor="middle" fill="#111" stroke="#111" stroke-width="0.2">1</text>
<line x1="93.60" y1="192.60" x2="93.60" y2="191.10" stroke="#aaa" stroke-width="0.6"/>
<text x="93.60" y="201.94" font-size="9.0" text-anchor="middle" fill="#111" stroke="#111" stroke-width="0.2">2</text>
<line x1="121.40" y1="192.60" x2="121.40" y2="191.10" stroke="#aaa" stroke-width="0.6"/>
<text x="121.40" y="201.94" font-size="9.0" text-anchor="middle" fill="#111" stroke="#111" stroke-width="0.2">3</text>
<line x1="149.20" y1="192.60" x2="149.20" y2="191.10" stroke="#aaa" stroke-width="0.6"/>
<text x="149.20" y="201.94" font-size="9.0" text-anchor="middle" fill="#111" stroke="#111" stroke-width="0.2">4</text>
<line x1="177.00" y1="192.60" x2="177.00" y2="191.10" stroke="#aaa" stroke-width="0.6"/>
<text x="177.00" y="201.94" font-size="9.0" text-anchor="middle" fill="#111" stroke="#111" stroke-width="0.2">5</text>
<line x1="51.90" y1="192.60" x2="51.90" y2="191.60" stroke="#aaa" stroke-width="0.5"/>
<line x1="65.80" y1="192.60" x2="65.80" y2="191.60" stroke="#aaa" stroke-width="0.5"/>
<line x1="79.70" y1="192.60" x2="79.70" y2="191.60" stroke="#aaa" stroke-width="0.5"/>
<line x1="93.60" y1="192.60" x2="93.60" y2="191.60" stroke="#aaa" stroke-width="0.5"/>
<line x1="107.50" y1="192.60" x2="107.50" y2="191.60" stroke="#aaa" stroke-width="0.5"/>
<line x1="121.40" y1="192.60" x2="121.40" y2="191.60" stroke="#aaa" stroke-width="0.5"/>
<line x1="135.30" y1="192.60" x2="135.30" y2="191.60" stroke="#aaa" stroke-width="0.5"/>
<line x1="149.20" y1="192.60" x2="149.20" y2="191.60" stroke="#aaa" stroke-width="0.5"/>
<line x1="163.10" y1="192.60" x2="163.10" y2="191.60" stroke="#aaa" stroke-width="0.5"/>
<line x1="38.00" y1="184.40" x2="39.30" y2="184.40" stroke="#999" stroke-width="0.6"/>
<text x="36.60" y="187.64" font-size="9.0" text-anchor="end" fill="#111" stroke="#111" stroke-width="0.2">0.6</text>
<line x1="38.00" y1="167.40" x2="39.30" y2="167.40" stroke="#999" stroke-width="0.6"/>
<text x="36.60" y="170.64" font-size="9.0" text-anchor="end" fill="#111" stroke="#111" stroke-width="0.2">0.8</text>
<line x1="38.00" y1="150.40" x2="39.30" y2="150.40" stroke="#999" stroke-width="0.6"/>
<text x="36.60" y="153.64" font-size="9.0" text-anchor="end" fill="#111" stroke="#111" stroke-width="0.2">1.0</text>
<line x1="38.00" y1="133.40" x2="39.30" y2="133.40" stroke="#999" stroke-width="0.6"/>
<text x="36.60" y="136.64" font-size="9.0" text-anchor="end" fill="#111" stroke="#111" stroke-width="0.2">1.2</text>
<line x1="38.00" y1="116.40" x2="39.30" y2="116.40" stroke="#999" stroke-width="0.6"/>
<text x="36.60" y="119.64" font-size="9.0" text-anchor="end" fill="#111" stroke="#111" stroke-width="0.2">1.4</text>
<line x1="38.00" y1="192.90" x2="39.00" y2="192.90" stroke="#aaa" stroke-width="0.5"/>
<line x1="38.00" y1="175.90" x2="39.00" y2="175.90" stroke="#aaa" stroke-width="0.5"/>
<line x1="38.00" y1="158.90" x2="39.00" y2="158.90" stroke="#aaa" stroke-width="0.5"/>
<line x1="38.00" y1="141.90" x2="39.00" y2="141.90" stroke="#aaa" stroke-width="0.5"/>
<line x1="38.00" y1="124.90" x2="39.00" y2="124.90" stroke="#aaa" stroke-width="0.5"/>
<line x1="38.00" y1="107.90" x2="39.00" y2="107.90" stroke="#aaa" stroke-width="0.5"/>
<polyline points="71.74,149.65 72.57,150.80 73.41,151.00 74.24,149.80 75.07,149.55 75.91,149.84 76.74,150.88 77.58,151.93 78.41,151.81 79.24,152.56 80.08,153.19 80.91,151.46 81.75,151.91 82.58,153.00 83.41,152.36 84.25,153.96 85.08,155.33 85.92,155.48 86.75,153.98 87.58,154.52 88.42,153.38 89.25,152.53 90.09,154.84 90.92,153.99 91.75,154.03 92.59,155.08 93.42,153.75 94.26,154.66 95.09,153.55 95.92,155.62 96.76,157.96 97.59,153.72 98.43,153.92 99.26,151.99 100.09,154.91 100.93,153.81 101.76,155.58 102.60,155.53 103.43,153.83 104.26,153.18 105.10,153.87 105.93,152.23 106.77,151.07 107.60,152.03 108.43,154.04 109.27,152.84 110.10,152.98 110.94,152.40 111.77,154.03 112.60,153.63 113.44,154.76 114.27,154.27 115.11,153.33 115.94,154.58 116.77,155.78 117.61,153.42 118.44,153.76 119.28,154.43 120.11,153.51 120.94,154.81 121.78,153.29 122.61,154.98 123.45,155.00 124.28,155.18 125.11,153.41 125.95,152.88 126.78,152.55 127.62,153.35 128.45,154.48 129.28,154.86 130.12,155.36 130.95,154.08 131.79,152.78 132.62,153.23 133.45,153.29 134.29,153.20 135.12,152.55 135.96,152.18 136.79,153.68 137.62,155.12 138.46,156.68 139.29,156.00 140.13,155.44 140.96,154.28 141.79,155.93 142.63,156.11 143.46,157.26 144.30,156.61 145.13,155.91 145.96,153.94 146.80,151.57" fill="none" stroke="#f5b850" stroke-width="0.75" stroke-linejoin="round" stroke-linecap="round" stroke-opacity="0.17"/>
<polyline points="46.86,146.75 47.69,147.77 48.52,146.21 49.36,145.04 50.19,145.94 51.03,144.19 51.86,144.20 52.69,144.48 53.53,145.24 54.36,145.20 55.20,144.70 56.03,147.11 56.86,147.03 57.70,146.74 58.53,148.27 59.37,148.07 60.20,147.95 61.03,150.01 61.87,148.32 62.70,151.23 63.54,146.72 64.37,148.63 65.20,148.24 66.04,149.74 66.87,150.36 67.71,152.34 68.54,152.17 69.37,152.00 70.21,150.25 71.04,152.32 71.88,151.83 72.71,150.39 73.54,149.39 74.38,150.16 75.21,151.77 76.05,153.18 76.88,152.31 77.71,153.62 78.55,152.73 79.38,154.03 80.22,152.79 81.05,151.99 81.88,153.54 82.72,154.68 83.55,154.03 84.39,154.62 85.22,154.75 86.05,153.65 86.89,153.12 87.72,152.79 88.56,151.02 89.39,152.85 90.22,153.55 91.06,150.11 91.89,150.11 92.73,149.08 93.56,149.96 94.39,149.94 95.23,151.13 96.06,152.39 96.90,154.16 97.73,152.65 98.56,154.39 99.40,153.71 100.23,153.30 101.07,154.08 101.90,155.78 102.73,157.05 103.57,157.16 104.40,157.34 105.24,155.86 106.07,155.80 106.90,156.28 107.74,155.93 108.57,155.98 109.41,155.32 110.24,157.96 111.07,157.11 111.91,157.69 112.74,157.32 113.58,156.93 114.41,156.56 115.24,153.60 116.08,154.00 116.91,154.41 117.75,154.65 118.58,156.35 119.41,157.55 120.25,157.61 121.08,158.75 121.92,158.12 122.75,158.50 123.58,157.75 124.42,159.80 125.25,157.44 126.09,157.59 126.92,158.80 127.75,158.43 128.59,159.28 129.42,156.96 130.26,157.17 131.09,155.33 131.92,155.96 132.76,155.09 133.59,156.41 134.43,155.97 135.26,157.04 136.09,156.95 136.93,157.46 137.76,156.35 138.60,156.98 139.43,157.67 140.26,157.77 141.10,158.70 141.93,157.79 142.77,156.62" fill="none" stroke="#f5b850" stroke-width="0.75" stroke-linejoin="round" stroke-linecap="round" stroke-opacity="0.17"/>
<polyline points="47.74,149.86 48.57,149.67 49.41,149.27 50.24,150.41 51.08,152.39 51.91,150.03 52.74,149.41 53.58,148.83 54.41,152.42 55.25,153.77 56.08,155.88 56.91,155.21 57.75,156.91 58.58,156.20 59.42,155.32 60.25,155.01 61.08,155.97 61.92,154.75 62.75,156.22 63.59,154.59 64.42,155.63 65.25,154.10 66.09,153.65 66.92,151.44 67.76,152.70 68.59,150.50 69.42,152.63 70.26,150.25 71.09,151.58 71.93,151.16 72.76,152.08 73.59,151.76 74.43,151.73 75.26,152.29 76.10,151.29 76.93,150.06 77.76,150.41 78.60,148.10 79.43,148.66 80.27,150.28 81.10,150.66 81.93,149.64 82.77,148.06 83.60,146.94 84.44,148.83 85.27,149.32 86.10,148.28 86.94,147.98 87.77,149.39 88.61,148.60 89.44,148.49 90.27,148.31 91.11,147.47 91.94,147.44 92.78,143.21 93.61,146.89 94.44,146.68 95.28,147.03 96.11,148.43 96.95,148.26 97.78,147.08 98.61,146.81 99.45,145.31 100.28,143.19 101.12,144.01 101.95,145.77 102.78,145.12 103.62,144.91 104.45,145.39 105.29,146.30 106.12,146.42 106.95,146.86 107.79,146.65 108.62,146.74 109.46,148.08 110.29,147.85 111.12,147.86 111.96,146.80 112.79,146.26 113.63,146.18 114.46,146.52 115.29,147.22 116.13,147.46 116.96,145.65 117.80,144.88 118.63,147.52 119.46,145.68 120.30,145.54 121.13,144.65 121.97,144.12 122.80,146.28 123.63,145.38 124.47,144.97 125.30,145.98 126.14,145.77 126.97,144.15 127.80,143.82 128.64,144.55 129.47,145.13 130.31,145.04 131.14,146.65 131.97,146.05 132.81,144.48 133.64,144.27 134.48,144.69 135.31,145.51 136.14,145.04 136.98,143.69 137.81,144.55 138.65,144.88 139.48,145.01 140.31,146.70 141.15,144.91 141.98,145.46 142.82,147.08 143.65,146.13 144.48,143.54" fill="none" stroke="#f5b850" stroke-width="0.75" stroke-linejoin="round" stroke-linecap="round" stroke-opacity="0.17"/>
<polyline points="42.95,147.02 43.79,146.72 44.62,147.58 45.45,146.45 46.29,146.59 47.12,146.92 47.96,148.77 48.79,150.42 49.62,151.24 50.46,148.48 51.29,151.22 52.13,148.03 52.96,151.49 53.79,151.93 54.63,152.79 55.46,151.75 56.30,153.22 57.13,151.50 57.96,152.02 58.80,152.90 59.63,151.37 60.47,150.77 61.30,149.87 62.13,150.87 62.97,148.91 63.80,149.73 64.64,149.13 65.47,147.61 66.30,148.63 67.14,150.38 67.97,150.54 68.81,151.12 69.64,151.07 70.47,154.31 71.31,150.79 72.14,149.90 72.98,148.61 73.81,148.19 74.64,148.42 75.48,150.99 76.31,147.12 77.15,147.41 77.98,148.74 78.81,150.71 79.65,148.79 80.48,150.06 81.32,149.83 82.15,148.11 82.98,147.50 83.82,146.19 84.65,147.42 85.49,145.47 86.32,148.78 87.15,150.74 87.99,150.96 88.82,149.14 89.66,150.50 90.49,150.49 91.32,151.29 92.16,150.57 92.99,149.85 93.83,147.97 94.66,151.04 95.49,147.20 96.33,146.64 97.16,149.38 98.00,147.08 98.83,149.02 99.66,148.19 100.50,150.80 101.33,149.52 102.17,150.56 103.00,150.95 103.83,150.45 104.67,150.74 105.50,153.58 106.34,151.77 107.17,151.83 108.00,150.60 108.84,150.73 109.67,151.97 110.51,150.68 111.34,152.86 112.17,153.97 113.01,152.94 113.84,153.06 114.68,152.86 115.51,153.29 116.34,152.44 117.18,151.65" fill="none" stroke="#f5b850" stroke-width="0.75" stroke-linejoin="round" stroke-linecap="round" stroke-opacity="0.17"/>
<polyline points="51.46,155.20 52.29,154.86 53.12,156.29 53.96,157.64 54.79,155.53 55.63,155.45 56.46,153.33 57.29,153.73 58.13,152.78 58.96,151.59 59.80,152.11 60.63,153.99 61.46,151.83 62.30,151.85 63.13,152.02 63.97,151.90 64.80,152.83 65.63,151.63 66.47,151.34 67.30,152.82 68.14,149.80 68.97,149.70 69.80,151.15 70.64,149.49 71.47,149.88 72.31,150.67 73.14,148.36 73.97,150.87 74.81,149.35 75.64,149.34 76.48,148.51 77.31,148.02 78.14,148.20 78.98,149.65 79.81,147.13 80.65,147.38 81.48,147.25 82.31,147.22 83.15,147.38 83.98,147.52 84.82,146.85 85.65,147.46 86.48,146.50 87.32,146.77 88.15,145.80 88.99,145.74 89.82,147.08 90.65,144.00 91.49,142.87 92.32,143.81 93.16,142.67 93.99,143.88 94.82,144.83 95.66,144.67 96.49,144.91 97.33,142.54 98.16,143.45 98.99,142.73 99.83,141.51 100.66,143.86 101.50,143.79 102.33,143.63 103.16,145.43 104.00,145.75 104.83,146.07 105.67,144.48 106.50,143.32 107.33,143.02 108.17,144.09 109.00,144.83 109.84,144.48 110.67,146.47 111.50,146.74 112.34,146.07 113.17,145.97 114.01,147.71 114.84,149.90 115.67,148.21 116.51,147.35 117.34,149.44 118.18,147.86 119.01,146.19 119.84,147.22" fill="none" stroke="#f5b850" stroke-width="0.75" stroke-linejoin="round" stroke-linecap="round" stroke-opacity="0.17"/>
<polyline points="51.36,151.69 52.19,153.03 53.03,152.65 53.86,151.91 54.70,151.66 55.53,151.74 56.36,149.18 57.20,147.83 58.03,146.84 58.87,146.03 59.70,146.13 60.53,149.25 61.37,146.93 62.20,149.66 63.04,150.32 63.87,149.26 64.70,149.42 65.54,148.63 66.37,147.92 67.21,147.83 68.04,146.95 68.87,149.03 69.71,148.46 70.54,148.73 71.38,149.81 72.21,148.13 73.04,149.23 73.88,149.37 74.71,148.34 75.55,147.65 76.38,147.88 77.21,147.48 78.05,148.11 78.88,148.23 79.72,150.11 80.55,148.54 81.38,148.26 82.22,148.18 83.05,148.53 83.89,148.92 84.72,148.63 85.55,149.53 86.39,148.22 87.22,149.10 88.06,148.46 88.89,148.85 89.72,147.63 90.56,147.36 91.39,148.38 92.23,148.14 93.06,146.06 93.89,145.48 94.73,145.76 95.56,147.12 96.40,146.94 97.23,144.40 98.06,144.63 98.90,145.54 99.73,146.74 100.57,147.50 101.40,148.33 102.23,150.27 103.07,152.57 103.90,151.66 104.74,151.46 105.57,150.93 106.40,149.91 107.24,152.00 108.07,151.27 108.91,153.79 109.74,152.14 110.57,151.73 111.41,151.39 112.24,150.86 113.08,150.24 113.91,151.30 114.74,154.49 115.58,151.79 116.41,152.02 117.25,150.46 118.08,150.33 118.91,150.55 119.75,150.31 120.58,152.96 121.42,151.92 122.25,150.30 123.08,153.18 123.92,152.67 124.75,152.00 125.59,150.62 126.42,152.42" fill="none" stroke="#f5b850" stroke-width="0.75" stroke-linejoin="round" stroke-linecap="round" stroke-opacity="0.17"/>
<polyline points="73.12,151.05 73.96,150.33 74.79,149.61 75.63,149.65 76.46,150.60 77.29,148.64 78.13,148.98 78.96,148.01 79.80,148.34 80.63,149.11 81.46,149.45 82.30,150.35 83.13,152.55 83.97,153.37 84.80,150.42 85.63,150.18 86.47,149.30 87.30,149.11 88.14,151.03 88.97,152.04 89.80,154.09 90.64,151.40 91.47,151.52 92.31,151.22 93.14,150.30 93.97,148.93 94.81,150.23 95.64,149.88 96.48,150.82 97.31,149.62 98.14,149.99 98.98,150.60 99.81,149.86 100.65,152.28 101.48,152.64 102.31,153.35 103.15,153.53 103.98,153.35 104.82,152.83 105.65,153.51 106.48,155.57 107.32,158.61 108.15,159.75 108.99,158.11 109.82,154.90 110.65,154.68 111.49,153.05 112.32,153.37 113.16,155.06 113.99,152.07 114.82,151.65 115.66,151.65 116.49,150.18 117.33,149.99 118.16,151.31 118.99,150.52 119.83,151.32 120.66,151.75 121.50,152.01 122.33,150.69 123.16,153.26 124.00,152.24 124.83,151.73 125.67,155.10 126.50,154.39 127.33,155.77 128.17,153.75 129.00,153.03 129.84,152.82" fill="none" stroke="#f5b850" stroke-width="0.75" stroke-linejoin="round" stroke-linecap="round" stroke-opacity="0.17"/>
<polyline points="68.71,153.66 69.55,154.32 70.38,154.22 71.21,148.78 72.05,151.55 72.88,154.51 73.72,152.79 74.55,152.67 75.38,153.12 76.22,151.97 77.05,151.07 77.89,151.92 78.72,150.25 79.55,148.94 80.39,146.90 81.22,146.80 82.06,143.30 82.89,143.14 83.72,144.98 84.56,144.54 85.39,144.18 86.23,144.02 87.06,144.44 87.89,144.15 88.73,142.97 89.56,140.12 90.40,140.52 91.23,139.97 92.06,139.21 92.90,141.10 93.73,140.05 94.57,139.66 95.40,138.80 96.23,139.02 97.07,139.36 97.90,137.11 98.74,138.33 99.57,138.61 100.40,139.87 101.24,140.53 102.07,138.31 102.91,142.36 103.74,141.82 104.57,142.82 105.41,142.79 106.24,143.12 107.08,143.65 107.91,144.12 108.74,144.08 109.58,143.22 110.41,142.34 111.25,143.78 112.08,146.61 112.91,146.79 113.75,145.78 114.58,144.57 115.42,146.33 116.25,145.91 117.08,143.47 117.92,144.80 118.75,144.74 119.59,144.92 120.42,145.38 121.25,146.65 122.09,146.37" fill="none" stroke="#f5b850" stroke-width="0.75" stroke-linejoin="round" stroke-linecap="round" stroke-opacity="0.17"/>
<polyline points="67.35,149.99 68.19,150.46 69.02,151.41 69.86,151.02 70.69,151.69 71.52,150.94 72.36,150.60 73.19,153.22 74.03,150.12 74.86,150.40 75.69,148.94 76.53,148.09 77.36,148.66 78.20,145.97 79.03,147.85 79.86,146.50 80.70,145.75 81.53,146.72 82.37,146.83 83.20,147.07 84.03,147.82 84.87,148.52 85.70,146.64 86.54,146.57 87.37,149.14 88.20,150.00 89.04,151.04 89.87,152.65 90.71,151.37 91.54,152.72 92.37,151.47 93.21,151.06 94.04,152.64 94.88,152.60 95.71,154.09 96.54,154.73 97.38,154.11 98.21,153.67 99.05,151.22 99.88,151.70 100.71,154.04 101.55,153.30 102.38,155.49 103.22,155.52 104.05,155.65 104.88,155.39 105.72,155.98 106.55,155.56 107.39,156.86 108.22,156.76 109.05,157.99 109.89,156.98 110.72,155.91 111.56,154.99 112.39,156.88 113.22,157.43 114.06,156.68 114.89,155.71 115.73,155.19 116.56,158.04 117.39,159.06 118.23,159.08 119.06,159.46 119.90,160.12 120.73,161.42 121.56,158.87 122.40,159.03 123.23,157.09 124.07,157.10 124.90,156.97 125.73,158.54 126.57,157.47 127.40,157.74 128.24,156.18 129.07,155.38 129.90,155.68 130.74,156.11" fill="none" stroke="#f5b850" stroke-width="0.75" stroke-linejoin="round" stroke-linecap="round" stroke-opacity="0.17"/>
<polyline points="61.10,155.88 61.93,157.98 62.76,157.22 63.60,154.50 64.43,157.40 65.27,156.05 66.10,156.78 66.93,156.34 67.77,153.69 68.60,152.59 69.44,155.33 70.27,155.66 71.10,153.79 71.94,155.05 72.77,155.15 73.61,154.94 74.44,158.61 75.27,155.60 76.11,154.74 76.94,156.92 77.78,152.97 78.61,153.04 79.44,153.22 80.28,151.62 81.11,154.16 81.95,154.24 82.78,154.64 83.61,153.47 84.45,154.13 85.28,152.09 86.12,154.23 86.95,152.38 87.78,154.51 88.62,154.31 89.45,153.54 90.29,151.46 91.12,153.19 91.95,154.19 92.79,152.12 93.62,154.55 94.46,154.31 95.29,151.19 96.12,154.84 96.96,155.23 97.79,154.01 98.63,154.77 99.46,153.75 100.29,155.62 101.13,156.22 101.96,154.91 102.80,153.73 103.63,155.23 104.46,151.17 105.30,149.95 106.13,150.26 106.97,148.01 107.80,148.78 108.63,147.34 109.47,147.06 110.30,146.85 111.14,149.52 111.97,147.91 112.80,147.72 113.64,147.17 114.47,147.99 115.31,149.23 116.14,149.90 116.97,148.39 117.81,148.71 118.64,149.16 119.48,150.79 120.31,150.21 121.14,151.27 121.98,150.03 122.81,150.86 123.65,149.72 124.48,152.85 125.31,150.67 126.15,152.40 126.98,151.72 127.82,152.09 128.65,153.03 129.48,152.45 130.32,150.08 131.15,150.36 131.99,151.63 132.82,152.93 133.65,152.01 134.49,150.48 135.32,152.42 136.16,153.55 136.99,151.12 137.82,151.96" fill="none" stroke="#f5b850" stroke-width="0.75" stroke-linejoin="round" stroke-linecap="round" stroke-opacity="0.17"/>
<polyline points="72.30,148.22 73.13,148.13 73.97,147.89 74.80,149.68 75.63,148.79 76.47,149.42 77.30,148.94 78.14,149.22 78.97,147.99 79.80,148.39 80.64,148.55 81.47,148.20 82.31,148.30 83.14,146.66 83.97,144.49 84.81,147.97 85.64,147.87 86.48,148.58 87.31,146.30 88.14,146.39 88.98,146.77 89.81,148.25 90.65,149.72 91.48,147.55 92.31,149.95 93.15,147.04 93.98,146.18 94.82,146.16 95.65,147.48 96.48,146.34 97.32,145.99 98.15,144.76 98.99,145.50 99.82,146.60 100.65,149.84 101.49,148.84 102.32,148.34 103.16,149.45 103.99,151.31 104.82,150.41 105.66,151.87 106.49,150.77 107.33,152.59 108.16,152.38 108.99,151.54 109.83,150.04 110.66,150.27 111.50,150.31 112.33,151.38 113.16,152.45 114.00,151.90 114.83,152.24 115.67,152.39 116.50,153.21 117.33,153.76 118.17,152.02 119.00,151.68 119.84,150.66 120.67,151.70 121.50,151.66 122.34,150.15 123.17,148.11 124.01,148.50 124.84,149.39 125.67,150.31 126.51,150.68 127.34,150.72 128.18,150.29 129.01,149.58 129.84,148.61" fill="none" stroke="#f5b850" stroke-width="0.75" stroke-linejoin="round" stroke-linecap="round" stroke-opacity="0.17"/>
<polyline points="45.99,142.28 46.82,144.61 47.65,146.00 48.49,143.45 49.32,144.34 50.16,145.31 50.99,144.71 51.82,145.85 52.66,148.57 53.49,147.58 54.33,149.25 55.16,149.75 55.99,149.28 56.83,150.89 57.66,151.09 58.50,150.85 59.33,151.78 60.16,151.02 61.00,149.79 61.83,149.25 62.67,149.50 63.50,148.80 64.33,147.39 65.17,145.85 66.00,145.98 66.84,146.81 67.67,146.95 68.50,144.22 69.34,144.23 70.17,144.30 71.01,143.53 71.84,143.56 72.67,144.08 73.51,143.61 74.34,143.58 75.18,145.17 76.01,146.20 76.84,144.03 77.68,144.41 78.51,145.48 79.35,146.40 80.18,145.04 81.01,145.61 81.85,146.96 82.68,146.57 83.52,144.42 84.35,145.97 85.18,145.24 86.02,145.24 86.85,146.63 87.69,148.04 88.52,145.07 89.35,145.52 90.19,144.47 91.02,143.37 91.86,144.70 92.69,144.79 93.52,146.06 94.36,146.18 95.19,146.94 96.03,147.97 96.86,147.46 97.69,147.52 98.53,147.17 99.36,148.28 100.20,146.68 101.03,144.84 101.86,145.55 102.70,145.17 103.53,145.71 104.37,145.42 105.20,146.62 106.03,145.20 106.87,147.59 107.70,145.49 108.54,146.41 109.37,146.65 110.20,145.04 111.04,147.30" fill="none" stroke="#f5b850" stroke-width="0.75" stroke-linejoin="round" stroke-linecap="round" stroke-opacity="0.17"/>
<polyline points="50.52,149.22 51.35,149.18 52.19,150.05 53.02,151.83 53.86,148.95 54.69,149.24 55.52,148.94 56.36,150.54 57.19,148.71 58.03,148.49 58.86,149.85 59.69,150.01 60.53,148.72 61.36,149.96 62.20,152.26 63.03,150.92 63.86,153.02 64.70,152.46 65.53,150.95 66.37,151.37 67.20,151.74 68.03,152.01 68.87,149.56 69.70,150.02 70.54,150.20 71.37,149.52 72.20,147.67 73.04,148.79 73.87,149.48 74.71,149.44 75.54,148.69 76.37,148.05 77.21,148.87 78.04,148.85 78.88,149.14 79.71,148.99 80.54,148.86 81.38,149.18 82.21,149.22 83.05,149.88 83.88,149.89 84.71,151.70 85.55,150.87 86.38,151.29 87.22,152.06 88.05,151.60 88.88,152.97 89.72,151.89 90.55,151.87 91.39,153.66 92.22,152.56 93.05,152.44 93.89,151.04 94.72,151.41 95.56,150.55 96.39,150.73 97.22,150.18 98.06,149.61 98.89,149.51 99.73,149.68 100.56,149.22 101.39,147.77 102.23,148.50 103.06,150.34 103.90,149.38 104.73,149.62 105.56,146.53 106.40,147.19 107.23,147.73 108.07,147.54 108.90,146.71 109.73,147.53 110.57,151.55 111.40,150.45 112.24,150.01 113.07,149.85 113.90,149.16 114.74,150.74 115.57,151.15 116.41,149.78 117.24,150.25 118.07,150.97" fill="none" stroke="#f5b850" stroke-width="0.75" stroke-linejoin="round" stroke-linecap="round" stroke-opacity="0.17"/>
<polyline points="47.02,152.56 47.86,148.50 48.69,150.76 49.52,150.40 50.36,150.74 51.19,149.78 52.03,148.57 52.86,151.11 53.69,148.95 54.53,149.70 55.36,148.94 56.20,148.12 57.03,150.39 57.86,148.05 58.70,146.46 59.53,147.23 60.37,144.33 61.20,146.05 62.03,148.52 62.87,147.11 63.70,147.25 64.54,148.40 65.37,149.92 66.20,149.37 67.04,148.58 67.87,148.07 68.71,147.30 69.54,145.81 70.37,146.53 71.21,146.71 72.04,147.32 72.88,147.25 73.71,147.15 74.54,147.61 75.38,147.34 76.21,146.79 77.05,148.88 77.88,150.50 78.71,150.07 79.55,150.64 80.38,149.65 81.22,147.69 82.05,148.96 82.88,150.86 83.72,151.34 84.55,150.46 85.39,151.63 86.22,149.06 87.05,149.01 87.89,147.60 88.72,147.69 89.56,148.68 90.39,150.14 91.22,151.22 92.06,150.45 92.89,151.39 93.73,152.37 94.56,152.83 95.39,154.01 96.23,154.08 97.06,152.51 97.90,152.88 98.73,152.37 99.56,153.48 100.40,150.02 101.23,151.15 102.07,150.30 102.90,150.72 103.73,151.42 104.57,151.02 105.40,152.36 106.24,152.81 107.07,151.86 107.90,154.40 108.74,153.19 109.57,155.46 110.41,154.21 111.24,153.53 112.07,151.99 112.91,152.24 113.74,152.94 114.58,151.14 115.41,151.79 116.24,151.16 117.08,150.33 117.91,148.82 118.75,149.40 119.58,152.23 120.41,149.68 121.25,148.09 122.08,150.13 122.92,147.60 123.75,149.23 124.58,148.91 125.42,148.56 126.25,151.28 127.09,150.28 127.92,148.16 128.75,148.51 129.59,149.90 130.42,146.26 131.26,143.97 132.09,144.56" fill="none" stroke="#f5b850" stroke-width="0.75" stroke-linejoin="round" stroke-linecap="round" stroke-opacity="0.17"/>
<polyline points="54.12,147.39 54.96,149.14 55.79,150.14 56.62,150.23 57.46,148.28 58.29,147.40 59.13,148.56 59.96,147.32 60.79,147.65 61.63,148.94 62.46,150.23 63.30,149.80 64.13,152.12 64.96,151.00 65.80,150.97 66.63,151.47 67.47,150.60 68.30,149.70 69.13,151.01 69.97,152.92 70.80,152.20 71.64,151.46 72.47,150.74 73.30,151.79 74.14,149.91 74.97,147.43 75.81,144.98 76.64,144.61 77.47,143.09 78.31,143.28 79.14,143.39 79.98,143.88 80.81,142.99 81.64,142.14 82.48,142.89 83.31,145.12 84.15,146.30 84.98,144.90 85.81,144.99 86.65,145.00 87.48,145.01 88.32,145.63 89.15,145.37 89.98,145.20 90.82,145.32 91.65,144.84 92.49,141.30 93.32,139.49 94.15,140.90 94.99,140.24 95.82,140.26 96.66,141.62 97.49,141.82 98.32,142.31 99.16,140.33 99.99,142.15 100.83,142.34 101.66,142.61 102.49,143.28 103.33,143.30 104.16,144.83 105.00,147.16 105.83,142.66 106.66,143.34 107.50,140.65 108.33,140.48 109.17,142.57 110.00,141.85 110.83,139.58 111.67,139.27 112.50,141.15 113.34,141.54 114.17,141.71 115.00,140.63 115.84,142.10" fill="none" stroke="#f5b850" stroke-width="0.75" stroke-linejoin="round" stroke-linecap="round" stroke-opacity="0.17"/>
<polyline points="60.73,149.03 61.56,147.67 62.39,149.70 63.23,149.05 64.06,150.41 64.90,145.81 65.73,147.50 66.56,147.81 67.40,149.89 68.23,149.68 69.07,150.40 69.90,151.67 70.73,153.39 71.57,152.55 72.40,149.65 73.24,148.02 74.07,149.11 74.90,146.88 75.74,147.45 76.57,147.75 77.41,146.96 78.24,145.60 79.07,147.36 79.91,144.88 80.74,145.36 81.58,146.54 82.41,145.41 83.24,145.41 84.08,147.57 84.91,145.74 85.75,143.21 86.58,143.52 87.41,142.89 88.25,142.60 89.08,142.86 89.92,143.15 90.75,143.30 91.58,141.04 92.42,144.87 93.25,143.20 94.09,141.68 94.92,140.08 95.75,142.76 96.59,141.73 97.42,140.87 98.26,139.94 99.09,142.68 99.92,141.87 100.76,141.76 101.59,143.36 102.43,142.58 103.26,144.06 104.09,143.40 104.93,141.49 105.76,143.77 106.60,142.93 107.43,143.34 108.26,143.34 109.10,143.52 109.93,144.28 110.77,144.45 111.60,146.17 112.43,147.61 113.27,148.91 114.10,148.50 114.94,151.96 115.77,152.86 116.60,151.82 117.44,150.00 118.27,152.96 119.11,150.17 119.94,151.45 120.77,150.16 121.61,150.47 122.44,147.84 123.28,148.96 124.11,151.39 124.94,151.58 125.78,152.60 126.61,149.23 127.45,147.47 128.28,145.68 129.11,147.30 129.95,146.05 130.78,146.08 131.62,145.29 132.45,145.77 133.28,145.00 134.12,145.96 134.95,145.32 135.79,146.57 136.62,146.98" fill="none" stroke="#f5b850" stroke-width="0.75" stroke-linejoin="round" stroke-linecap="round" stroke-opacity="0.17"/>
<polyline points="101.05,156.39 101.89,154.77 102.72,156.83 103.56,155.73 104.39,154.45 105.22,154.78 106.06,156.22 106.89,156.52 107.73,155.26 108.56,153.60 109.39,154.76 110.23,155.72 111.06,154.53 111.90,156.05 112.73,157.44 113.56,157.72 114.40,156.32 115.23,156.24 116.07,153.54 116.90,152.76 117.73,151.88 118.57,150.05 119.40,149.38 120.24,150.27 121.07,150.12 121.90,150.61 122.74,149.62 123.57,148.69 124.41,149.60 125.24,147.14 126.07,148.28 126.91,148.92 127.74,148.84 128.58,146.83 129.41,150.75 130.24,149.26 131.08,147.81 131.91,147.71 132.75,145.91 133.58,147.83 134.41,147.19 135.25,150.13 136.08,149.04 136.92,150.09 137.75,149.15 138.58,149.85 139.42,148.62 140.25,146.58 141.09,145.52 141.92,146.43 142.75,143.43 143.59,143.44 144.42,143.89 145.26,145.09 146.09,146.08 146.92,145.45 147.76,142.10 148.59,143.41 149.43,142.81 150.26,142.45 151.09,140.70 151.93,141.74 152.76,141.05 153.60,143.48 154.43,141.89 155.26,141.06 156.10,141.92 156.93,141.23 157.77,140.70 158.60,140.01 159.43,142.42 160.27,142.29 161.10,143.04 161.94,142.37" fill="none" stroke="#f5b850" stroke-width="0.75" stroke-linejoin="round" stroke-linecap="round" stroke-opacity="0.11"/>
<polyline points="109.74,154.97 110.58,155.87 111.41,156.57 112.24,154.79 113.08,153.97 113.91,153.40 114.75,153.54 115.58,152.48 116.41,151.07 117.25,151.32 118.08,152.68 118.92,152.57 119.75,153.18 120.58,154.14 121.42,153.56 122.25,153.60 123.09,151.73 123.92,152.58 124.75,153.60 125.59,154.65 126.42,153.77 127.26,154.73 128.09,153.85 128.92,153.52 129.76,152.27 130.59,155.92 131.43,156.40 132.26,157.45 133.09,158.21 133.93,158.21 134.76,157.67 135.60,158.18 136.43,159.15 137.26,159.82 138.10,158.68 138.93,155.76 139.77,156.09 140.60,157.71 141.43,159.70 142.27,159.55 143.10,159.06 143.94,158.31 144.77,159.98 145.60,158.23 146.44,158.84 147.27,160.78 148.11,158.43 148.94,156.79 149.77,156.97 150.61,157.58 151.44,158.18 152.28,157.45 153.11,157.63 153.94,157.03 154.78,154.53 155.61,154.64 156.45,156.05 157.28,155.73 158.11,155.52 158.95,155.16 159.78,155.68 160.62,157.88 161.45,156.82 162.28,156.93 163.12,154.77 163.95,155.96 164.79,154.37 165.62,154.55 166.45,154.85" fill="none" stroke="#f5b850" stroke-width="0.75" stroke-linejoin="round" stroke-linecap="round" stroke-opacity="0.11"/>
<polyline points="115.44,149.80 116.28,149.93 117.11,152.62 117.95,151.52 118.78,154.69 119.61,151.45 120.45,148.81 121.28,148.37 122.12,147.65 122.95,147.22 123.78,147.27 124.62,145.92 125.45,146.58 126.29,144.95 127.12,147.53 127.95,147.43 128.79,150.91 129.62,148.53 130.46,146.42 131.29,144.37 132.12,144.81 132.96,146.23 133.79,146.79 134.63,146.26 135.46,148.54 136.29,148.71 137.13,149.18 137.96,151.12 138.80,149.38 139.63,149.94 140.46,148.25 141.30,148.73 142.13,148.97 142.97,149.76 143.80,149.49 144.63,150.21 145.47,149.89 146.30,151.97 147.14,149.95 147.97,149.42 148.80,149.76 149.64,150.38 150.47,152.77 151.31,153.07 152.14,152.40 152.97,151.62 153.81,151.83 154.64,151.05 155.48,152.90 156.31,153.07 157.14,153.02 157.98,154.22 158.81,153.98 159.65,155.71 160.48,156.58 161.31,158.51 162.15,156.75 162.98,159.35" fill="none" stroke="#f5b850" stroke-width="0.75" stroke-linejoin="round" stroke-linecap="round" stroke-opacity="0.11"/>
<polyline points="120.54,155.17 121.37,153.92 122.21,154.22 123.04,155.41 123.87,151.90 124.71,152.10 125.54,154.75 126.38,152.30 127.21,152.24 128.04,152.52 128.88,148.44 129.71,152.01 130.55,150.10 131.38,153.21 132.21,152.04 133.05,149.10 133.88,149.21 134.72,148.79 135.55,149.51 136.38,148.33 137.22,148.11 138.05,147.91 138.89,148.84 139.72,148.87 140.55,149.67 141.39,148.46 142.22,151.15 143.06,148.37 143.89,149.27 144.72,148.49 145.56,148.29 146.39,149.43 147.23,152.42 148.06,150.39 148.89,146.89 149.73,148.54 150.56,150.29 151.40,148.11 152.23,148.52 153.06,146.59 153.90,146.94 154.73,147.45 155.57,148.67 156.40,146.89 157.23,146.27 158.07,148.25 158.90,146.73 159.74,148.59 160.57,149.63 161.40,150.92 162.24,151.88 163.07,152.13 163.91,149.63 164.74,150.11" fill="none" stroke="#f5b850" stroke-width="0.75" stroke-linejoin="round" stroke-linecap="round" stroke-opacity="0.11"/>
<polyline points="91.90,145.27 92.73,147.07 93.57,145.90 94.40,145.32 95.23,146.15 96.07,148.26 96.90,145.02 97.74,144.85 98.57,145.89 99.40,145.32 100.24,145.64 101.07,149.04 101.91,148.00 102.74,145.94 103.57,146.85 104.41,145.57 105.24,147.07 106.08,145.50 106.91,143.75 107.74,141.51 108.58,142.76 109.41,143.97 110.25,145.73 111.08,147.40 111.91,148.77 112.75,150.21 113.58,150.32 114.42,149.68 115.25,149.24 116.08,152.68 116.92,153.01 117.75,154.01 118.59,153.68 119.42,155.34 120.25,154.97 121.09,155.29 121.92,156.06 122.76,154.83 123.59,154.05 124.42,153.83 125.26,154.14 126.09,154.74 126.93,157.36 127.76,156.53 128.59,154.48 129.43,154.95 130.26,156.12 131.10,157.18 131.93,156.74 132.76,155.19 133.60,152.52 134.43,150.03 135.27,151.85 136.10,152.09 136.93,152.28 137.77,152.85 138.60,153.69 139.44,151.30 140.27,149.51 141.10,150.49 141.94,150.82 142.77,149.79 143.61,150.12 144.44,148.93 145.27,148.07 146.11,148.55 146.94,151.51 147.78,149.10 148.61,149.65 149.44,151.45 150.28,150.76 151.11,152.63 151.95,152.05 152.78,148.63 153.61,148.40 154.45,149.86 155.28,149.74 156.12,149.95 156.95,150.85 157.78,149.01 158.62,148.78 159.45,146.50 160.29,145.05 161.12,144.99 161.95,145.31 162.79,144.38 163.62,143.53 164.46,140.68 165.29,143.18" fill="none" stroke="#f5b850" stroke-width="0.75" stroke-linejoin="round" stroke-linecap="round" stroke-opacity="0.11"/>
<polyline points="117.58,147.81 118.42,148.65 119.25,147.81 120.08,147.35 120.92,149.61 121.75,149.34 122.59,150.70 123.42,152.64 124.25,152.59 125.09,152.04 125.92,151.90 126.76,151.43 127.59,152.17 128.42,151.88 129.26,152.57 130.09,150.88 130.93,153.14 131.76,151.00 132.59,152.83 133.43,152.75 134.26,153.66 135.10,153.44 135.93,153.47 136.76,155.75 137.60,156.75 138.43,155.92 139.27,157.54 140.10,157.36 140.93,156.13 141.77,157.30 142.60,157.05 143.44,153.96 144.27,153.24 145.10,155.19 145.94,155.10 146.77,153.28 147.61,154.28 148.44,154.56 149.27,152.79 150.11,152.54 150.94,151.05 151.78,152.14 152.61,150.71 153.44,152.03 154.28,153.01 155.11,151.45 155.95,153.60 156.78,149.81 157.61,152.51 158.45,151.65 159.28,151.17 160.12,153.31 160.95,151.70 161.78,151.46 162.62,148.60 163.45,148.06 164.29,147.91 165.12,147.07 165.95,147.75 166.79,146.19 167.62,146.18 168.46,148.22 169.29,146.93 170.12,145.26 170.96,146.10 171.79,143.72" fill="none" stroke="#f5b850" stroke-width="0.75" stroke-linejoin="round" stroke-linecap="round" stroke-opacity="0.11"/>
<polyline points="53.62,138.84 54.45,137.75 55.28,137.62 56.12,135.33 56.95,136.54 57.79,132.13 58.62,132.71 59.45,131.64 60.29,132.07 61.12,131.04 61.96,131.55 62.79,131.74 63.62,136.07 64.46,134.08 65.29,133.16 66.13,134.50 66.96,136.72 67.79,137.89 68.63,136.93 69.46,135.57 70.30,137.73 71.13,136.75 71.96,136.90 72.80,137.35 73.63,137.64 74.47,139.43 75.30,138.61 76.13,141.62 76.97,140.55 77.80,141.96 78.64,141.66 79.47,143.27 80.30,141.38 81.14,142.39 81.97,140.97 82.81,143.31 83.64,144.20 84.47,145.28 85.31,145.74 86.14,144.98 86.98,145.82 87.81,146.09 88.64,145.06 89.48,144.03 90.31,144.51 91.15,146.08 91.98,144.35" fill="none" stroke="#f5b850" stroke-width="0.75" stroke-linejoin="round" stroke-linecap="round" stroke-opacity="0.14"/>
<polyline points="53.93,138.14 54.77,138.49 55.60,138.84 56.43,138.23 57.27,137.43 58.10,140.35 58.94,138.81 59.77,139.52 60.60,140.75 61.44,141.98 62.27,144.11 63.11,146.03 63.94,142.70 64.77,143.69 65.61,147.65 66.44,143.55 67.28,143.88 68.11,144.99 68.94,145.61 69.78,146.06 70.61,148.01 71.45,147.29 72.28,144.81 73.11,145.75 73.95,142.96 74.78,143.02 75.62,143.52 76.45,143.17 77.28,143.32 78.12,141.98 78.95,144.21 79.79,142.97 80.62,142.04 81.45,143.01 82.29,145.59 83.12,145.82 83.96,147.39 84.79,146.66 85.62,144.86 86.46,145.58 87.29,147.68 88.13,147.68 88.96,148.69 89.79,147.83 90.63,146.11" fill="none" stroke="#f5b850" stroke-width="0.75" stroke-linejoin="round" stroke-linecap="round" stroke-opacity="0.14"/>
<polyline points="58.88,135.70 59.71,135.95 60.55,136.45 61.38,136.97 62.22,139.56 63.05,140.91 63.88,140.47 64.72,140.04 65.55,139.17 66.39,142.41 67.22,141.68 68.05,142.13 68.89,142.07 69.72,144.62 70.56,144.45 71.39,147.15 72.22,147.56 73.06,148.03 73.89,145.72 74.73,144.67 75.56,144.73 76.39,142.67 77.23,144.43 78.06,143.81 78.90,144.38 79.73,144.20 80.56,143.64 81.40,143.17 82.23,145.17 83.07,144.21 83.90,142.73 84.73,145.38 85.57,142.77 86.40,143.32 87.24,144.09 88.07,144.24 88.90,142.66 89.74,142.95 90.57,144.95 91.41,142.15 92.24,142.98 93.07,145.62 93.91,144.42 94.74,144.17 95.58,145.16 96.41,142.56 97.24,142.23 98.08,143.32 98.91,143.32 99.75,144.51 100.58,145.59 101.41,145.06 102.25,142.47 103.08,143.52 103.92,145.19 104.75,142.81 105.58,144.55" fill="none" stroke="#f5b850" stroke-width="0.75" stroke-linejoin="round" stroke-linecap="round" stroke-opacity="0.14"/>
<polyline points="61.88,159.28 62.71,160.01 63.54,160.17 64.38,160.40 65.21,159.44 66.05,158.25 66.88,157.63 67.71,158.18 68.55,158.50 69.38,158.66 70.22,157.34 71.05,159.80 71.88,158.67 72.72,159.65 73.55,161.36 74.39,161.72 75.22,164.78 76.05,165.07 76.89,165.19 77.72,165.74 78.56,161.83 79.39,161.52 80.22,158.99 81.06,158.23 81.89,158.63 82.73,157.86 83.56,157.30 84.39,157.11 85.23,156.72 86.06,156.06 86.90,157.73 87.73,154.17 88.56,152.78 89.40,155.24 90.23,154.45 91.07,154.07 91.90,155.23 92.73,158.21 93.57,159.52 94.40,158.74 95.24,158.75 96.07,160.53 96.90,163.13 97.74,162.24 98.57,159.78 99.41,158.62 100.24,159.88 101.07,158.11 101.91,157.00 102.74,159.34 103.58,159.30 104.41,159.77" fill="none" stroke="#f5b850" stroke-width="0.75" stroke-linejoin="round" stroke-linecap="round" stroke-opacity="0.12"/>
<polyline points="72.42,160.91 73.25,164.40 74.09,160.64 74.92,164.03 75.75,163.71 76.59,164.52 77.42,162.26 78.26,160.49 79.09,159.69 79.92,159.92 80.76,160.14 81.59,158.54 82.43,157.19 83.26,158.10 84.09,159.01 84.93,157.24 85.76,155.61 86.60,155.50 87.43,155.54 88.26,156.15 89.10,155.35 89.93,154.95 90.77,152.88 91.60,152.76 92.43,154.70 93.27,155.39 94.10,156.93 94.94,157.82 95.77,159.07 96.60,159.94 97.44,160.72 98.27,158.08 99.11,158.92 99.94,156.47 100.77,156.45 101.61,157.48 102.44,156.92 103.28,156.38 104.11,158.08 104.94,158.29 105.78,155.01 106.61,154.55 107.45,152.78 108.28,154.82 109.11,154.05 109.95,154.27 110.78,152.21 111.62,152.37 112.45,153.57 113.28,153.16 114.12,154.01 114.95,154.17 115.79,154.36 116.62,155.71 117.45,155.44 118.29,154.15 119.12,153.99 119.96,155.70 120.79,157.66 121.62,158.22 122.46,159.99 123.29,156.77 124.13,155.94 124.96,156.01" fill="none" stroke="#f5b850" stroke-width="0.75" stroke-linejoin="round" stroke-linecap="round" stroke-opacity="0.12"/>
<polyline points="71.13,161.90 71.96,160.29 72.80,162.44 73.63,161.53 74.47,160.78 75.30,157.88 76.13,159.43 76.97,159.04 77.80,157.77 78.64,159.52 79.47,159.11 80.30,161.22 81.14,160.07 81.97,159.75 82.81,160.66 83.64,157.75 84.47,161.84 85.31,160.39 86.14,160.87 86.98,165.17 87.81,163.35 88.64,164.01 89.48,163.78 90.31,161.41 91.15,161.83 91.98,160.80 92.81,163.28 93.65,163.09 94.48,162.66 95.32,164.94 96.15,162.77 96.98,162.83 97.82,163.85 98.65,163.58 99.49,162.78 100.32,162.02 101.15,163.59 101.99,163.95 102.82,166.07 103.66,164.68 104.49,162.37 105.32,164.46 106.16,162.73 106.99,162.88 107.83,159.76 108.66,160.87 109.49,164.82 110.33,164.71 111.16,162.07 112.00,163.24 112.83,165.79 113.66,163.76 114.50,165.10 115.33,165.29 116.17,164.02 117.00,165.28 117.83,165.06 118.67,163.39 119.50,162.44 120.34,162.88 121.17,162.44 122.00,163.13 122.84,164.36 123.67,164.12" fill="none" stroke="#f5b850" stroke-width="0.75" stroke-linejoin="round" stroke-linecap="round" stroke-opacity="0.12"/>
<path d="M45.40,153.20 C45.75,153.15 46.93,152.55 47.50,152.90 C48.07,153.25 48.38,154.42 48.80,155.30 C49.22,156.18 49.58,157.78 50.00,158.20 C50.42,158.62 50.87,157.73 51.30,157.80 C51.73,157.87 52.12,158.25 52.60,158.60 C53.08,158.95 53.65,160.03 54.20,159.90 C54.75,159.77 55.27,158.28 55.90,157.80 C56.53,157.32 57.28,157.28 58.00,157.00 C58.72,156.72 59.48,156.38 60.20,156.10 C60.92,155.82 61.53,155.58 62.30,155.30 C63.07,155.02 63.97,154.75 64.80,154.40 C65.63,154.05 66.45,153.45 67.30,153.20 C68.15,152.95 69.12,152.90 69.90,152.90 C70.68,152.90 71.37,153.23 72.00,153.20 C72.63,153.17 73.13,153.13 73.70,152.70 C74.27,152.27 74.85,151.30 75.40,150.60 C75.95,149.90 76.37,148.50 77.00,148.50 C77.63,148.50 78.55,149.97 79.20,150.60 C79.85,151.23 80.35,152.37 80.90,152.30 C81.45,152.23 81.87,150.77 82.50,150.20 C83.13,149.63 84.07,148.97 84.70,148.90 C85.33,148.83 85.75,150.08 86.30,149.80 C86.85,149.52 87.43,147.28 88.00,147.20 C88.57,147.12 89.13,148.53 89.70,149.30 C90.27,150.07 90.83,151.80 91.40,151.80 C91.97,151.80 92.47,149.85 93.10,149.30 C93.73,148.75 94.50,148.43 95.20,148.50 C95.90,148.57 96.60,149.42 97.30,149.70 C98.00,149.98 98.70,150.33 99.40,150.20 C100.10,150.07 100.87,149.62 101.50,148.90 C102.13,148.18 102.63,147.10 103.20,145.90 C103.77,144.70 104.40,142.18 104.90,141.70 C105.40,141.22 105.72,142.15 106.20,143.00 C106.68,143.85 107.17,145.97 107.80,146.80 C108.43,147.63 109.37,147.93 110.00,148.00 C110.63,148.07 111.12,147.68 111.60,147.20 C112.08,146.72 112.40,145.60 112.90,145.10 C113.40,144.60 114.03,144.62 114.60,144.20 C115.17,143.78 115.73,142.80 116.30,142.60 C116.87,142.40 117.43,142.58 118.00,143.00 C118.57,143.42 119.13,145.03 119.70,145.10 C120.27,145.17 120.83,143.92 121.40,143.40 C121.97,142.88 122.55,142.28 123.10,142.00 C123.65,141.72 124.43,141.75 124.70,141.70" fill="none" stroke="#e6b240" stroke-width="1.05" stroke-linejoin="round" stroke-linecap="round"/>
<path d="M134.00,148.90 C134.25,149.03 135.02,149.33 135.50,149.70 C135.98,150.07 136.35,151.17 136.90,151.10 C137.45,151.03 138.18,149.48 138.80,149.30 C139.42,149.12 140.00,149.57 140.60,150.00 C141.20,150.43 141.73,151.35 142.40,151.90 C143.07,152.45 143.93,153.43 144.60,153.30 C145.27,153.17 145.67,151.77 146.40,151.10 C147.13,150.43 148.20,149.48 149.00,149.30 C149.80,149.12 150.47,149.63 151.20,150.00 C151.93,150.37 152.68,151.25 153.40,151.50 C154.12,151.75 154.78,151.43 155.50,151.50 C156.22,151.57 156.97,152.08 157.70,151.90 C158.43,151.72 159.17,150.65 159.90,150.40 C160.63,150.15 161.37,150.15 162.10,150.40 C162.83,150.65 163.63,151.60 164.30,151.90 C164.97,152.20 165.48,152.75 166.10,152.20 C166.72,151.65 167.38,149.08 168.00,148.60 C168.62,148.12 169.13,148.88 169.80,149.30 C170.47,149.72 171.27,150.55 172.00,151.10 C172.73,151.65 173.60,152.65 174.20,152.60 C174.80,152.55 175.18,151.47 175.60,150.80 C176.02,150.13 176.52,148.97 176.70,148.60" fill="none" stroke="#e6b240" stroke-width="1.05" stroke-linejoin="round" stroke-linecap="round"/>
<text x="14.50" y="52.80" font-size="7.5" text-anchor="middle" fill="#111" stroke="#111" stroke-width="0.2" transform="rotate(-90 14.5 52.8)" textLength="63.5" lengthAdjust="spacingAndGlyphs">Normalized protein</text>
<text x="22.06" y="52.80" font-size="7.4" text-anchor="middle" fill="#111" stroke="#111" stroke-width="0.2" transform="rotate(-90 22.064 52.8)" textLength="83.3" lengthAdjust="spacingAndGlyphs">Concentration (arb. units)</text>
<text x="14.50" y="150.70" font-size="7.5" text-anchor="middle" fill="#111" stroke="#111" stroke-width="0.2" transform="rotate(-90 14.5 150.7)" textLength="79" lengthAdjust="spacingAndGlyphs">Normalized metabolite</text>
<text x="22.06" y="152.20" font-size="7.4" text-anchor="middle" fill="#111" stroke="#111" stroke-width="0.2" transform="rotate(-90 22.064 152.2)" textLength="84.5" lengthAdjust="spacingAndGlyphs">Concentration (arb. units)</text>
<text x="112.60" y="107.33" font-size="7.3" text-anchor="middle" fill="#111" stroke="#111" stroke-width="0.2">Time (h)</text>
<text x="112.30" y="209.93" font-size="7.3" text-anchor="middle" fill="#111" stroke="#111" stroke-width="0.2">Time (h)</text>
<line x1="207.50" y1="12.00" x2="207.50" y2="99.50" stroke="#999" stroke-width="0.7"/>
<line x1="207.50" y1="91.40" x2="346.50" y2="91.40" stroke="#999" stroke-width="0.7"/>
<line x1="242.00" y1="91.40" x2="242.00" y2="89.40" stroke="#777" stroke-width="0.6"/>
<text x="242.00" y="100.76" font-size="8.5" text-anchor="middle" fill="#111" stroke="#111" stroke-width="0.2">1</text>
<line x1="276.70" y1="91.40" x2="276.70" y2="89.40" stroke="#777" stroke-width="0.6"/>
<text x="276.70" y="100.76" font-size="8.5" text-anchor="middle" fill="#111" stroke="#111" stroke-width="0.2">2</text>
<line x1="311.40" y1="91.40" x2="311.40" y2="89.40" stroke="#777" stroke-width="0.6"/>
<text x="311.40" y="100.76" font-size="8.5" text-anchor="middle" fill="#111" stroke="#111" stroke-width="0.2">3</text>
<line x1="346.10" y1="91.40" x2="346.10" y2="89.40" stroke="#777" stroke-width="0.6"/>
<text x="346.10" y="100.76" font-size="8.5" text-anchor="middle" fill="#111" stroke="#111" stroke-width="0.2">4</text>
<line x1="214.24" y1="91.40" x2="214.24" y2="90.40" stroke="#aaa" stroke-width="0.5"/>
<line x1="221.18" y1="91.40" x2="221.18" y2="90.40" stroke="#aaa" stroke-width="0.5"/>
<line x1="228.12" y1="91.40" x2="228.12" y2="90.40" stroke="#aaa" stroke-width="0.5"/>
<line x1="235.06" y1="91.40" x2="235.06" y2="90.40" stroke="#aaa" stroke-width="0.5"/>
<line x1="248.94" y1="91.40" x2="248.94" y2="90.40" stroke="#aaa" stroke-width="0.5"/>
<line x1="255.88" y1="91.40" x2="255.88" y2="90.40" stroke="#aaa" stroke-width="0.5"/>
<line x1="262.82" y1="91.40" x2="262.82" y2="90.40" stroke="#aaa" stroke-width="0.5"/>
<line x1="269.76" y1="91.40" x2="269.76" y2="90.40" stroke="#aaa" stroke-width="0.5"/>
<line x1="283.64" y1="91.40" x2="283.64" y2="90.40" stroke="#aaa" stroke-width="0.5"/>
<line x1="290.58" y1="91.40" x2="290.58" y2="90.40" stroke="#aaa" stroke-width="0.5"/>
<line x1="297.52" y1="91.40" x2="297.52" y2="90.40" stroke="#aaa" stroke-width="0.5"/>
<line x1="304.46" y1="91.40" x2="304.46" y2="90.40" stroke="#aaa" stroke-width="0.5"/>
<line x1="318.34" y1="91.40" x2="318.34" y2="90.40" stroke="#aaa" stroke-width="0.5"/>
<line x1="325.28" y1="91.40" x2="325.28" y2="90.40" stroke="#aaa" stroke-width="0.5"/>
<line x1="332.22" y1="91.40" x2="332.22" y2="90.40" stroke="#aaa" stroke-width="0.5"/>
<line x1="339.16" y1="91.40" x2="339.16" y2="90.40" stroke="#aaa" stroke-width="0.5"/>
<line x1="207.50" y1="13.90" x2="209.50" y2="13.90" stroke="#777" stroke-width="0.6"/>
<text x="205.50" y="16.96" font-size="8.5" text-anchor="end" fill="#111" stroke="#111" stroke-width="0.2">1</text>
<line x1="207.50" y1="29.40" x2="209.50" y2="29.40" stroke="#777" stroke-width="0.6"/>
<text x="205.50" y="32.46" font-size="8.5" text-anchor="end" fill="#111" stroke="#111" stroke-width="0.2">0.8</text>
<line x1="207.50" y1="44.90" x2="209.50" y2="44.90" stroke="#777" stroke-width="0.6"/>
<text x="205.50" y="47.96" font-size="8.5" text-anchor="end" fill="#111" stroke="#111" stroke-width="0.2">0.6</text>
<line x1="207.50" y1="60.40" x2="209.50" y2="60.40" stroke="#777" stroke-width="0.6"/>
<text x="205.50" y="63.46" font-size="8.5" text-anchor="end" fill="#111" stroke="#111" stroke-width="0.2">0.4</text>
<line x1="207.50" y1="75.90" x2="209.50" y2="75.90" stroke="#777" stroke-width="0.6"/>
<text x="205.50" y="78.96" font-size="8.5" text-anchor="end" fill="#111" stroke="#111" stroke-width="0.2">0.2</text>
<line x1="207.50" y1="88.30" x2="208.50" y2="88.30" stroke="#aaa" stroke-width="0.5"/>
<line x1="207.50" y1="85.20" x2="208.50" y2="85.20" stroke="#aaa" stroke-width="0.5"/>
<line x1="207.50" y1="82.10" x2="208.50" y2="82.10" stroke="#aaa" stroke-width="0.5"/>
<line x1="207.50" y1="79.00" x2="208.50" y2="79.00" stroke="#aaa" stroke-width="0.5"/>
<line x1="207.50" y1="72.80" x2="208.50" y2="72.80" stroke="#aaa" stroke-width="0.5"/>
<line x1="207.50" y1="69.70" x2="208.50" y2="69.70" stroke="#aaa" stroke-width="0.5"/>
<line x1="207.50" y1="66.60" x2="208.50" y2="66.60" stroke="#aaa" stroke-width="0.5"/>
<line x1="207.50" y1="63.50" x2="208.50" y2="63.50" stroke="#aaa" stroke-width="0.5"/>
<line x1="207.50" y1="57.30" x2="208.50" y2="57.30" stroke="#aaa" stroke-width="0.5"/>
<line x1="207.50" y1="54.20" x2="208.50" y2="54.20" stroke="#aaa" stroke-width="0.5"/>
<line x1="207.50" y1="51.10" x2="208.50" y2="51.10" stroke="#aaa" stroke-width="0.5"/>
<line x1="207.50" y1="48.00" x2="208.50" y2="48.00" stroke="#aaa" stroke-width="0.5"/>
<line x1="207.50" y1="41.80" x2="208.50" y2="41.80" stroke="#aaa" stroke-width="0.5"/>
<line x1="207.50" y1="38.70" x2="208.50" y2="38.70" stroke="#aaa" stroke-width="0.5"/>
<line x1="207.50" y1="35.60" x2="208.50" y2="35.60" stroke="#aaa" stroke-width="0.5"/>
<line x1="207.50" y1="32.50" x2="208.50" y2="32.50" stroke="#aaa" stroke-width="0.5"/>
<line x1="207.50" y1="26.30" x2="208.50" y2="26.30" stroke="#aaa" stroke-width="0.5"/>
<line x1="207.50" y1="23.20" x2="208.50" y2="23.20" stroke="#aaa" stroke-width="0.5"/>
<line x1="207.50" y1="20.10" x2="208.50" y2="20.10" stroke="#aaa" stroke-width="0.5"/>
<line x1="207.50" y1="17.00" x2="208.50" y2="17.00" stroke="#aaa" stroke-width="0.5"/>
<polyline points="207.30,13.90 209.04,16.85 210.77,19.69 212.51,22.42 214.24,25.04 215.98,27.57 217.71,30.00 219.45,32.34 221.18,34.59 222.92,36.75 224.65,38.84 226.39,40.84 228.12,42.77 229.86,44.62 231.59,46.40 233.33,48.12 235.06,49.77 236.80,51.36 238.53,52.89 240.27,54.36 242.00,55.77 243.74,57.13 245.47,58.44 247.21,59.70 248.94,60.92 250.68,62.08 252.41,63.20 254.15,64.28 255.88,65.32 257.62,66.32 259.35,67.28 261.09,68.21 262.82,69.10 264.56,69.95 266.29,70.78 268.03,71.57 269.76,72.33 271.50,73.07 273.23,73.77 274.97,74.45 276.70,75.11 278.44,75.73 280.17,76.34 281.91,76.92 283.64,77.48 285.38,78.02 287.11,78.54 288.85,79.04 290.58,79.52 292.32,79.98 294.05,80.43 295.79,80.86 297.52,81.27 299.26,81.67 300.99,82.05 302.73,82.41 304.46,82.77 306.20,83.11 307.93,83.44 309.67,83.75 311.40,84.05 313.14,84.35 314.87,84.63 316.61,84.90 318.34,85.16 320.08,85.41 321.81,85.65 323.55,85.88 325.28,86.11 327.02,86.32 328.75,86.53 330.49,86.73 332.22,86.92 333.96,87.10 335.69,87.28 337.43,87.45 339.16,87.62 340.90,87.78 342.63,87.93 344.37,88.08 346.10,88.22" fill="none" stroke="#f04040" stroke-width="1.6" stroke-linejoin="round" stroke-linecap="round"/>
<polyline points="207.30,13.90 209.04,16.86 210.77,19.71 212.51,22.46 214.24,25.10 215.98,27.64 217.71,30.08 219.45,32.43 221.18,34.70 222.92,36.88 224.65,38.97 226.39,40.99 228.12,42.93 229.86,44.80 231.59,46.59 233.33,48.32 235.06,49.99 236.80,51.59 238.53,53.13 240.27,54.62 242.00,56.04 243.74,57.42 245.47,58.74 247.21,60.01 248.94,61.24 250.68,62.42 252.41,63.56 254.15,64.65 255.88,65.70 257.62,66.71 259.35,67.69 261.09,68.63 262.82,69.53 264.56,70.40 266.29,71.24 268.03,72.04 269.76,72.82 271.50,73.57 273.23,74.29 274.97,74.98 276.70,75.65 278.44,76.29 280.17,76.91 281.91,77.51 283.64,78.08 285.38,78.63 287.11,79.17 288.85,79.68 290.58,80.17 292.32,80.65 294.05,81.11 295.79,81.55 297.52,81.97 299.26,82.38 300.99,82.78 302.73,83.16 304.46,83.53 306.20,83.88 307.93,84.22 309.67,84.55 311.40,84.87 313.14,85.17 314.87,85.47 316.61,85.75 318.34,86.03 320.08,86.29 321.81,86.54 323.55,86.79 325.28,87.03 327.02,87.26 328.75,87.48 330.49,87.69 332.22,87.90 333.96,88.09 335.69,88.29 337.43,88.47 339.16,88.65 340.90,88.82 342.63,88.99 344.37,89.15 346.10,89.30" fill="none" stroke="#111" stroke-width="1.1" stroke-linejoin="round" stroke-linecap="round"/>
<line x1="284.00" y1="22.20" x2="300.00" y2="22.20" stroke="#f54545" stroke-width="2.7"/>
<line x1="284.00" y1="40.30" x2="300.00" y2="40.30" stroke="#000" stroke-width="2.7"/>
<text x="306.40" y="28.06" font-size="7.4" text-anchor="start" fill="#111" stroke="#111" stroke-width="0.2">Microfluidics</text>
<text x="306.40" y="45.16" font-size="7.4" text-anchor="start" fill="#111" stroke="#111" stroke-width="0.2">Model</text>
<text x="191.03" y="54.10" font-size="7.3" text-anchor="middle" fill="#111" stroke="#111" stroke-width="0.2" transform="rotate(-90 191.028 54.1)">Protein autocorrelation</text>
<text x="279.60" y="105.76" font-size="7.4" text-anchor="middle" fill="#111" stroke="#111" stroke-width="0.2"><tspan font-size="7.4">τ</tspan><tspan font-size="4.88" dy="1.9">lag</tspan><tspan dy="-1.9"> (h)</tspan></text>
<line x1="207.50" y1="112.00" x2="207.50" y2="200.50" stroke="#999" stroke-width="0.7"/>
<line x1="207.50" y1="192.50" x2="346.50" y2="192.50" stroke="#999" stroke-width="0.7"/>
<line x1="242.00" y1="192.50" x2="242.00" y2="190.50" stroke="#777" stroke-width="0.6"/>
<text x="242.00" y="201.86" font-size="8.5" text-anchor="middle" fill="#111" stroke="#111" stroke-width="0.2">1</text>
<line x1="276.70" y1="192.50" x2="276.70" y2="190.50" stroke="#777" stroke-width="0.6"/>
<text x="276.70" y="201.86" font-size="8.5" text-anchor="middle" fill="#111" stroke="#111" stroke-width="0.2">2</text>
<line x1="311.40" y1="192.50" x2="311.40" y2="190.50" stroke="#777" stroke-width="0.6"/>
<text x="311.40" y="201.86" font-size="8.5" text-anchor="middle" fill="#111" stroke="#111" stroke-width="0.2">3</text>
<line x1="346.10" y1="192.50" x2="346.10" y2="190.50" stroke="#777" stroke-width="0.6"/>
<text x="346.10" y="201.86" font-size="8.5" text-anchor="middle" fill="#111" stroke="#111" stroke-width="0.2">4</text>
<line x1="214.24" y1="192.50" x2="214.24" y2="191.50" stroke="#aaa" stroke-width="0.5"/>
<line x1="221.18" y1="192.50" x2="221.18" y2="191.50" stroke="#aaa" stroke-width="0.5"/>
<line x1="228.12" y1="192.50" x2="228.12" y2="191.50" stroke="#aaa" stroke-width="0.5"/>
<line x1="235.06" y1="192.50" x2="235.06" y2="191.50" stroke="#aaa" stroke-width="0.5"/>
<line x1="248.94" y1="192.50" x2="248.94" y2="191.50" stroke="#aaa" stroke-width="0.5"/>
<line x1="255.88" y1="192.50" x2="255.88" y2="191.50" stroke="#aaa" stroke-width="0.5"/>
<line x1="262.82" y1="192.50" x2="262.82" y2="191.50" stroke="#aaa" stroke-width="0.5"/>
<line x1="269.76" y1="192.50" x2="269.76" y2="191.50" stroke="#aaa" stroke-width="0.5"/>
<line x1="283.64" y1="192.50" x2="283.64" y2="191.50" stroke="#aaa" stroke-width="0.5"/>
<line x1="290.58" y1="192.50" x2="290.58" y2="191.50" stroke="#aaa" stroke-width="0.5"/>
<line x1="297.52" y1="192.50" x2="297.52" y2="191.50" stroke="#aaa" stroke-width="0.5"/>
<line x1="304.46" y1="192.50" x2="304.46" y2="191.50" stroke="#aaa" stroke-width="0.5"/>
<line x1="318.34" y1="192.50" x2="318.34" y2="191.50" stroke="#aaa" stroke-width="0.5"/>
<line x1="325.28" y1="192.50" x2="325.28" y2="191.50" stroke="#aaa" stroke-width="0.5"/>
<line x1="332.22" y1="192.50" x2="332.22" y2="191.50" stroke="#aaa" stroke-width="0.5"/>
<line x1="339.16" y1="192.50" x2="339.16" y2="191.50" stroke="#aaa" stroke-width="0.5"/>
<line x1="207.50" y1="114.30" x2="209.50" y2="114.30" stroke="#777" stroke-width="0.6"/>
<text x="205.50" y="117.36" font-size="8.5" text-anchor="end" fill="#111" stroke="#111" stroke-width="0.2">1</text>
<line x1="207.50" y1="129.94" x2="209.50" y2="129.94" stroke="#777" stroke-width="0.6"/>
<text x="205.50" y="133.00" font-size="8.5" text-anchor="end" fill="#111" stroke="#111" stroke-width="0.2">0.8</text>
<line x1="207.50" y1="145.58" x2="209.50" y2="145.58" stroke="#777" stroke-width="0.6"/>
<text x="205.50" y="148.64" font-size="8.5" text-anchor="end" fill="#111" stroke="#111" stroke-width="0.2">0.6</text>
<line x1="207.50" y1="161.22" x2="209.50" y2="161.22" stroke="#777" stroke-width="0.6"/>
<text x="205.50" y="164.28" font-size="8.5" text-anchor="end" fill="#111" stroke="#111" stroke-width="0.2">0.4</text>
<line x1="207.50" y1="176.86" x2="209.50" y2="176.86" stroke="#777" stroke-width="0.6"/>
<text x="205.50" y="179.92" font-size="8.5" text-anchor="end" fill="#111" stroke="#111" stroke-width="0.2">0.2</text>
<line x1="207.50" y1="192.50" x2="209.50" y2="192.50" stroke="#777" stroke-width="0.6"/>
<text x="205.50" y="195.56" font-size="8.5" text-anchor="end" fill="#111" stroke="#111" stroke-width="0.2">0</text>
<line x1="207.50" y1="189.37" x2="208.50" y2="189.37" stroke="#aaa" stroke-width="0.5"/>
<line x1="207.50" y1="186.24" x2="208.50" y2="186.24" stroke="#aaa" stroke-width="0.5"/>
<line x1="207.50" y1="183.12" x2="208.50" y2="183.12" stroke="#aaa" stroke-width="0.5"/>
<line x1="207.50" y1="179.99" x2="208.50" y2="179.99" stroke="#aaa" stroke-width="0.5"/>
<line x1="207.50" y1="173.73" x2="208.50" y2="173.73" stroke="#aaa" stroke-width="0.5"/>
<line x1="207.50" y1="170.60" x2="208.50" y2="170.60" stroke="#aaa" stroke-width="0.5"/>
<line x1="207.50" y1="167.48" x2="208.50" y2="167.48" stroke="#aaa" stroke-width="0.5"/>
<line x1="207.50" y1="164.35" x2="208.50" y2="164.35" stroke="#aaa" stroke-width="0.5"/>
<line x1="207.50" y1="158.09" x2="208.50" y2="158.09" stroke="#aaa" stroke-width="0.5"/>
<line x1="207.50" y1="154.96" x2="208.50" y2="154.96" stroke="#aaa" stroke-width="0.5"/>
<line x1="207.50" y1="151.84" x2="208.50" y2="151.84" stroke="#aaa" stroke-width="0.5"/>
<line x1="207.50" y1="148.71" x2="208.50" y2="148.71" stroke="#aaa" stroke-width="0.5"/>
<line x1="207.50" y1="142.45" x2="208.50" y2="142.45" stroke="#aaa" stroke-width="0.5"/>
<line x1="207.50" y1="139.32" x2="208.50" y2="139.32" stroke="#aaa" stroke-width="0.5"/>
<line x1="207.50" y1="136.20" x2="208.50" y2="136.20" stroke="#aaa" stroke-width="0.5"/>
<line x1="207.50" y1="133.07" x2="208.50" y2="133.07" stroke="#aaa" stroke-width="0.5"/>
<line x1="207.50" y1="126.81" x2="208.50" y2="126.81" stroke="#aaa" stroke-width="0.5"/>
<line x1="207.50" y1="123.68" x2="208.50" y2="123.68" stroke="#aaa" stroke-width="0.5"/>
<line x1="207.50" y1="120.56" x2="208.50" y2="120.56" stroke="#aaa" stroke-width="0.5"/>
<line x1="207.50" y1="117.43" x2="208.50" y2="117.43" stroke="#aaa" stroke-width="0.5"/>
<polyline points="207.30,114.30 208.69,116.71 210.08,119.09 211.46,121.49 212.85,123.93 214.24,126.42 215.63,129.03 217.02,131.73 218.40,134.46 219.79,137.14 221.18,139.72 222.57,142.18 223.96,144.59 225.34,146.95 226.73,149.25 228.12,151.51 229.51,153.72 230.90,155.89 232.28,158.01 233.67,160.09 235.06,162.10 236.45,164.05 237.84,165.95 239.22,167.80 240.61,169.60 242.00,171.32 243.39,172.95 244.78,174.52 246.16,176.01 247.55,177.34 248.94,178.49 250.33,179.51 251.72,180.46 253.10,181.36 254.49,182.26 255.88,183.20 257.27,184.20 258.66,185.19 260.04,186.11 261.43,186.87 262.82,187.46 264.21,187.99 265.60,188.46 266.98,188.87 268.37,189.22 269.76,189.51 271.15,189.77 272.54,190.00 273.92,190.20 275.31,190.36 276.70,190.48 278.09,190.59 279.48,190.70 280.86,190.79 282.25,190.87 283.64,190.95 285.03,191.02 286.42,191.09 287.80,191.16 289.19,191.23 290.58,191.30 291.97,191.37 293.36,191.43 294.74,191.50 296.13,191.56 297.52,191.62 298.91,191.68 300.30,191.73 301.68,191.78 303.07,191.83 304.46,191.87 305.85,191.91 307.24,191.95 308.62,191.99 310.01,192.02 311.40,192.06 312.79,192.09 314.18,192.12 315.56,192.15 316.95,192.18 318.34,192.20 319.73,192.23 321.12,192.26 322.50,192.29 323.89,192.32 325.28,192.34 326.67,192.37 328.06,192.40 329.44,192.43 330.83,192.45 332.22,192.48 333.61,192.51 335.00,192.53 336.38,192.56 337.77,192.58 339.16,192.61 340.55,192.63 341.94,192.66 343.32,192.68 344.71,192.71 346.10,192.73" fill="none" stroke="#f5d800" stroke-width="1.5" stroke-linejoin="round" stroke-linecap="round"/>
<polyline points="207.30,114.30 208.69,118.10 210.08,121.90 211.46,125.69 212.85,129.53 214.24,133.51 215.63,137.39 217.02,140.89 218.40,143.96 219.79,146.79 221.18,149.44 222.57,151.99 223.96,154.49 225.34,156.94 226.73,159.27 228.12,161.41 229.51,163.33 230.90,165.16 232.28,166.88 233.67,168.45 235.06,169.85 236.45,171.04 237.84,172.09 239.22,173.05 240.61,173.94 242.00,174.76 243.39,175.54 244.78,176.28 246.16,176.99 247.55,177.70 248.94,178.40 250.33,179.09 251.72,179.74 253.10,180.35 254.49,180.90 255.88,181.40 257.27,181.84 258.66,182.24 260.04,182.62 261.43,182.99 262.82,183.38 264.21,183.79 265.60,184.25 266.98,184.76 268.37,185.25 269.76,185.66 271.15,186.04 272.54,186.40 273.92,186.74 275.31,187.07 276.70,187.39 278.09,187.69 279.48,187.98 280.86,188.26 282.25,188.52 283.64,188.78 285.03,189.03 286.42,189.26 287.80,189.49 289.19,189.71 290.58,189.92 291.97,190.13 293.36,190.33 294.74,190.53 296.13,190.73 297.52,190.93 298.91,191.15 300.30,191.35 301.68,191.54 303.07,191.69 304.46,191.80 305.85,191.90 307.24,191.99 308.62,192.07 310.01,192.13 311.40,192.19 312.79,192.23 314.18,192.27 315.56,192.30 316.95,192.33 318.34,192.36 319.73,192.39 321.12,192.42 322.50,192.45 323.89,192.49 325.28,192.53 326.67,192.58 328.06,192.63 329.44,192.69 330.83,192.74 332.22,192.80 333.61,192.86 335.00,192.93 336.38,192.99 337.77,193.06 339.16,193.12 340.55,193.19 341.94,193.25 343.32,193.32 344.71,193.38 346.10,193.44" fill="none" stroke="#111" stroke-width="1.1" stroke-linejoin="round" stroke-linecap="round"/>
<line x1="284.90" y1="133.50" x2="300.00" y2="133.50" stroke="#f8d800" stroke-width="2.7"/>
<line x1="284.00" y1="151.50" x2="300.00" y2="151.50" stroke="#000" stroke-width="2.7"/>
<text x="306.40" y="139.26" font-size="7.4" text-anchor="start" fill="#111" stroke="#111" stroke-width="0.2">Microfluidics</text>
<text x="306.40" y="155.96" font-size="7.4" text-anchor="start" fill="#111" stroke="#111" stroke-width="0.2">Model</text>
<text x="191.03" y="153.20" font-size="7.3" text-anchor="middle" fill="#111" stroke="#111" stroke-width="0.2" transform="rotate(-90 191.028 153.2)">Metabolite autocorrelation</text>
<text x="279.60" y="207.26" font-size="7.4" text-anchor="middle" fill="#111" stroke="#111" stroke-width="0.2"><tspan font-size="7.4">τ</tspan><tspan font-size="4.88" dy="1.9">lag</tspan><tspan dy="-1.9"> (h)</tspan></text>
<line x1="366.70" y1="5.40" x2="366.70" y2="90.30" stroke="#999" stroke-width="0.7"/>
<line x1="366.70" y1="90.30" x2="513.00" y2="90.30" stroke="#999" stroke-width="0.7"/>
<line x1="366.70" y1="6.80" x2="368.70" y2="6.80" stroke="#777" stroke-width="0.6"/>
<line x1="366.70" y1="27.60" x2="368.70" y2="27.60" stroke="#777" stroke-width="0.6"/>
<line x1="366.70" y1="48.30" x2="368.70" y2="48.30" stroke="#777" stroke-width="0.6"/>
<line x1="366.70" y1="69.40" x2="368.70" y2="69.40" stroke="#777" stroke-width="0.6"/>
<line x1="366.30" y1="90.30" x2="366.30" y2="88.30" stroke="#777" stroke-width="0.6"/>
<text x="366.30" y="98.30" font-size="7.5" text-anchor="middle" fill="#111" stroke="#111" stroke-width="0.2">0</text>
<line x1="402.80" y1="90.30" x2="402.80" y2="88.30" stroke="#777" stroke-width="0.6"/>
<text x="402.80" y="98.30" font-size="7.5" text-anchor="middle" fill="#111" stroke="#111" stroke-width="0.2">2000</text>
<line x1="439.30" y1="90.30" x2="439.30" y2="88.30" stroke="#777" stroke-width="0.6"/>
<text x="439.30" y="98.30" font-size="7.5" text-anchor="middle" fill="#111" stroke="#111" stroke-width="0.2">4000</text>
<line x1="475.80" y1="90.30" x2="475.80" y2="88.30" stroke="#777" stroke-width="0.6"/>
<text x="475.80" y="98.30" font-size="7.5" text-anchor="middle" fill="#111" stroke="#111" stroke-width="0.2">6000</text>
<line x1="512.30" y1="90.30" x2="512.30" y2="88.30" stroke="#777" stroke-width="0.6"/>
<text x="512.30" y="98.30" font-size="7.5" text-anchor="middle" fill="#111" stroke="#111" stroke-width="0.2">8000</text>
<line x1="366.30" y1="90.30" x2="366.30" y2="89.30" stroke="#aaa" stroke-width="0.5"/>
<line x1="375.43" y1="90.30" x2="375.43" y2="89.30" stroke="#aaa" stroke-width="0.5"/>
<line x1="384.55" y1="90.30" x2="384.55" y2="89.30" stroke="#aaa" stroke-width="0.5"/>
<line x1="393.68" y1="90.30" x2="393.68" y2="89.30" stroke="#aaa" stroke-width="0.5"/>
<line x1="402.80" y1="90.30" x2="402.80" y2="89.30" stroke="#aaa" stroke-width="0.5"/>
<line x1="411.93" y1="90.30" x2="411.93" y2="89.30" stroke="#aaa" stroke-width="0.5"/>
<line x1="421.05" y1="90.30" x2="421.05" y2="89.30" stroke="#aaa" stroke-width="0.5"/>
<line x1="430.18" y1="90.30" x2="430.18" y2="89.30" stroke="#aaa" stroke-width="0.5"/>
<line x1="439.30" y1="90.30" x2="439.30" y2="89.30" stroke="#aaa" stroke-width="0.5"/>
<line x1="448.43" y1="90.30" x2="448.43" y2="89.30" stroke="#aaa" stroke-width="0.5"/>
<line x1="457.55" y1="90.30" x2="457.55" y2="89.30" stroke="#aaa" stroke-width="0.5"/>
<line x1="466.68" y1="90.30" x2="466.68" y2="89.30" stroke="#aaa" stroke-width="0.5"/>
<line x1="475.80" y1="90.30" x2="475.80" y2="89.30" stroke="#aaa" stroke-width="0.5"/>
<line x1="484.93" y1="90.30" x2="484.93" y2="89.30" stroke="#aaa" stroke-width="0.5"/>
<line x1="494.05" y1="90.30" x2="494.05" y2="89.30" stroke="#aaa" stroke-width="0.5"/>
<line x1="503.18" y1="90.30" x2="503.18" y2="89.30" stroke="#aaa" stroke-width="0.5"/>
<line x1="512.30" y1="90.30" x2="512.30" y2="89.30" stroke="#aaa" stroke-width="0.5"/>
<line x1="418.60" y1="21.10" x2="418.60" y2="90.30" stroke="#888" stroke-width="1.0"/>
<line x1="442.80" y1="21.10" x2="442.80" y2="90.30" stroke="#888" stroke-width="1.0"/>
<path d="M395.10,90.10 C395.93,89.72 398.42,89.02 400.10,87.80 C401.78,86.58 403.52,84.98 405.20,82.80 C406.88,80.62 408.52,78.42 410.20,74.70 C411.88,70.98 413.95,64.38 415.30,60.50 C416.65,56.62 417.12,54.78 418.30,51.40 C419.48,48.02 421.05,43.42 422.40,40.20 C423.75,36.98 425.22,33.88 426.40,32.10 C427.58,30.32 428.48,29.67 429.50,29.50 C430.52,29.33 431.32,29.32 432.50,31.10 C433.68,32.88 435.52,37.33 436.60,40.20 C437.68,43.07 437.92,45.08 439.00,48.30 C440.08,51.52 441.75,56.28 443.10,59.50 C444.45,62.72 445.75,65.25 447.10,67.60 C448.45,69.95 449.85,71.92 451.20,73.60 C452.55,75.28 453.52,76.17 455.20,77.70 C456.88,79.23 459.27,81.28 461.30,82.80 C463.33,84.32 465.37,85.65 467.40,86.80 C469.43,87.95 472.10,89.15 473.50,89.70 C474.90,90.25 475.42,90.03 475.80,90.10" fill="none" stroke="#2b2bf0" stroke-width="1.3" stroke-linejoin="round" stroke-linecap="round"/>
<path d="M399.10,90.10 C399.43,88.88 400.42,85.20 401.10,82.80 C401.78,80.40 402.35,77.67 403.20,75.70 C404.05,73.73 405.37,71.85 406.20,71.00 C407.03,70.15 407.53,69.98 408.20,70.60 C408.87,71.22 409.58,72.67 410.20,74.70 C410.82,76.73 411.38,80.23 411.90,82.80 C412.42,85.37 413.07,88.88 413.30,90.10" fill="none" stroke="#f02020" stroke-width="1.2" stroke-linejoin="round" stroke-linecap="round"/>
<path d="M419.40,90.10 C419.90,88.53 421.40,84.28 422.40,80.70 C423.40,77.12 424.45,71.80 425.40,68.60 C426.35,65.40 427.35,61.83 428.10,61.50 C428.85,61.17 429.33,63.73 429.90,66.60 C430.47,69.47 430.90,74.78 431.50,78.70 C432.10,82.62 433.17,88.20 433.50,90.10" fill="none" stroke="#22ee22" stroke-width="1.2" stroke-linejoin="round" stroke-linecap="round"/>
<path d="M439.50,90.10 C439.93,88.20 441.17,81.95 442.10,78.70 C443.03,75.45 444.27,72.45 445.10,70.60 C445.93,68.75 446.42,67.77 447.10,67.60 C447.78,67.43 448.52,68.08 449.20,69.60 C449.88,71.12 450.53,74.17 451.20,76.70 C451.87,79.23 452.63,82.57 453.20,84.80 C453.77,87.03 454.37,89.22 454.60,90.10" fill="none" stroke="#ff8c1a" stroke-width="1.2" stroke-linejoin="round" stroke-linecap="round"/>
<line x1="404.60" y1="64.10" x2="404.60" y2="69.30" stroke="#f02020" stroke-width="0.7"/>
<path d="M403.50,68.00 L404.60,69.60 L405.70,68.00" fill="none" stroke="#f02020" stroke-width="0.7"/>
<line x1="423.40" y1="71.60" x2="423.40" y2="76.40" stroke="#22ee22" stroke-width="0.7"/>
<path d="M422.30,75.10 L423.40,76.70 L424.50,75.10" fill="none" stroke="#22ee22" stroke-width="0.7"/>
<line x1="448.20" y1="59.50" x2="448.20" y2="64.20" stroke="#ff8c1a" stroke-width="0.7"/>
<path d="M447.10,62.90 L448.20,64.50 L449.30,62.90" fill="none" stroke="#ff8c1a" stroke-width="0.7"/>
<text x="374.80" y="33.78" font-size="6.6" text-anchor="start" fill="#f01010" font-weight="bold">Low</text>
<text x="374.80" y="41.98" font-size="6.6" text-anchor="start" fill="#f01010" font-weight="bold">Producer</text>
<text x="456.50" y="32.58" font-size="6.6" text-anchor="start" fill="#ff8c1a" font-weight="bold">High</text>
<text x="456.50" y="40.68" font-size="6.6" text-anchor="start" fill="#ff8c1a" font-weight="bold">Producer</text>
<text x="441.70" y="107.05" font-size="7.35" text-anchor="middle" fill="#111" stroke="#111" stroke-width="0.2">Single-cell protein abundance (arb. units)</text>
<text x="361.96" y="50.70" font-size="7.4" text-anchor="middle" fill="#111" stroke="#111" stroke-width="0.2" transform="rotate(-90 361.964 50.7)">Probability Density</text>
<line x1="366.00" y1="109.30" x2="366.00" y2="195.30" stroke="#999" stroke-width="0.7"/>
<line x1="366.00" y1="195.30" x2="520.60" y2="195.30" stroke="#999" stroke-width="0.7"/>
<line x1="366.00" y1="118.60" x2="368.00" y2="118.60" stroke="#777" stroke-width="0.6"/>
<line x1="366.00" y1="130.10" x2="368.00" y2="130.10" stroke="#777" stroke-width="0.6"/>
<line x1="366.00" y1="141.10" x2="368.00" y2="141.10" stroke="#777" stroke-width="0.6"/>
<line x1="366.00" y1="152.20" x2="368.00" y2="152.20" stroke="#777" stroke-width="0.6"/>
<line x1="366.00" y1="163.50" x2="368.00" y2="163.50" stroke="#777" stroke-width="0.6"/>
<line x1="366.00" y1="174.50" x2="368.00" y2="174.50" stroke="#777" stroke-width="0.6"/>
<line x1="366.00" y1="185.00" x2="368.00" y2="185.00" stroke="#777" stroke-width="0.6"/>
<line x1="366.00" y1="195.30" x2="366.00" y2="193.30" stroke="#777" stroke-width="0.6"/>
<text x="366.00" y="203.20" font-size="7.5" text-anchor="middle" fill="#111" stroke="#111" stroke-width="0.2">0</text>
<line x1="393.90" y1="195.30" x2="393.90" y2="193.30" stroke="#777" stroke-width="0.6"/>
<text x="393.90" y="203.20" font-size="7.5" text-anchor="middle" fill="#111" stroke="#111" stroke-width="0.2">100</text>
<line x1="421.80" y1="195.30" x2="421.80" y2="193.30" stroke="#777" stroke-width="0.6"/>
<text x="421.80" y="203.20" font-size="7.5" text-anchor="middle" fill="#111" stroke="#111" stroke-width="0.2">200</text>
<line x1="449.70" y1="195.30" x2="449.70" y2="193.30" stroke="#777" stroke-width="0.6"/>
<text x="449.70" y="203.20" font-size="7.5" text-anchor="middle" fill="#111" stroke="#111" stroke-width="0.2">300</text>
<line x1="477.60" y1="195.30" x2="477.60" y2="193.30" stroke="#777" stroke-width="0.6"/>
<text x="477.60" y="203.20" font-size="7.5" text-anchor="middle" fill="#111" stroke="#111" stroke-width="0.2">400</text>
<line x1="505.50" y1="195.30" x2="505.50" y2="193.30" stroke="#777" stroke-width="0.6"/>
<text x="505.50" y="203.20" font-size="7.5" text-anchor="middle" fill="#111" stroke="#111" stroke-width="0.2">500</text>
<line x1="366.00" y1="195.30" x2="366.00" y2="194.30" stroke="#aaa" stroke-width="0.5"/>
<line x1="379.95" y1="195.30" x2="379.95" y2="194.30" stroke="#aaa" stroke-width="0.5"/>
<line x1="393.90" y1="195.30" x2="393.90" y2="194.30" stroke="#aaa" stroke-width="0.5"/>
<line x1="407.85" y1="195.30" x2="407.85" y2="194.30" stroke="#aaa" stroke-width="0.5"/>
<line x1="421.80" y1="195.30" x2="421.80" y2="194.30" stroke="#aaa" stroke-width="0.5"/>
<line x1="435.75" y1="195.30" x2="435.75" y2="194.30" stroke="#aaa" stroke-width="0.5"/>
<line x1="449.70" y1="195.30" x2="449.70" y2="194.30" stroke="#aaa" stroke-width="0.5"/>
<line x1="463.65" y1="195.30" x2="463.65" y2="194.30" stroke="#aaa" stroke-width="0.5"/>
<line x1="477.60" y1="195.30" x2="477.60" y2="194.30" stroke="#aaa" stroke-width="0.5"/>
<line x1="491.55" y1="195.30" x2="491.55" y2="194.30" stroke="#aaa" stroke-width="0.5"/>
<line x1="505.50" y1="195.30" x2="505.50" y2="194.30" stroke="#aaa" stroke-width="0.5"/>
<line x1="428.50" y1="123.00" x2="428.50" y2="195.30" stroke="#707070" stroke-width="0.95"/>
<line x1="464.60" y1="123.00" x2="464.60" y2="195.30" stroke="#707070" stroke-width="0.95"/>
<path d="M392.20,195.30 C393.67,195.02 398.43,194.43 401.00,193.60 C403.57,192.77 405.40,191.95 407.60,190.30 C409.80,188.65 412.00,186.63 414.20,183.70 C416.40,180.77 418.78,176.72 420.80,172.70 C422.82,168.68 424.47,163.98 426.30,159.60 C428.13,155.22 429.78,150.25 431.80,146.40 C433.82,142.55 436.20,139.03 438.40,136.50 C440.60,133.97 442.98,132.30 445.00,131.20 C447.02,130.10 448.67,129.75 450.50,129.90 C452.33,130.05 454.17,130.63 456.00,132.10 C457.83,133.57 460.03,136.50 461.50,138.70 C462.97,140.90 463.52,142.57 464.80,145.30 C466.08,148.03 467.75,151.63 469.20,155.10 C470.65,158.57 472.05,162.62 473.50,166.10 C474.95,169.58 476.25,172.70 477.90,176.00 C479.55,179.30 481.57,183.33 483.40,185.90 C485.23,188.47 486.63,189.98 488.90,191.40 C491.17,192.82 494.40,193.75 497.00,194.40 C499.60,195.05 503.25,195.15 504.50,195.30" fill="none" stroke="#2b2bf0" stroke-width="1.3" stroke-linejoin="round" stroke-linecap="round"/>
<path d="M410.90,195.30 C411.82,194.10 414.75,190.77 416.40,188.10 C418.05,185.43 419.15,182.05 420.80,179.30 C422.45,176.55 424.10,173.60 426.30,171.60 C428.50,169.60 431.80,167.65 434.00,167.30 C436.20,166.95 437.67,167.83 439.50,169.50 C441.33,171.17 443.53,174.93 445.00,177.30 C446.47,179.67 447.20,181.53 448.30,183.70 C449.40,185.87 450.50,188.55 451.60,190.30 C452.70,192.05 453.80,193.37 454.90,194.20 C456.00,195.03 457.65,195.12 458.20,195.30" fill="none" stroke="#f02020" stroke-width="1.2" stroke-linejoin="round" stroke-linecap="round"/>
<path d="M416.40,195.30 C417.50,194.65 420.80,192.97 423.00,191.40 C425.20,189.83 427.40,188.10 429.60,185.90 C431.80,183.70 434.02,180.77 436.20,178.20 C438.38,175.63 440.87,172.33 442.70,170.50 C444.53,168.67 446.08,167.57 447.20,167.20 C448.32,166.83 448.48,167.20 449.40,168.30 C450.32,169.40 451.42,171.42 452.70,173.80 C453.98,176.18 455.63,180.22 457.10,182.60 C458.57,184.98 459.85,186.45 461.50,188.10 C463.15,189.75 465.18,191.40 467.00,192.50 C468.82,193.60 471.13,194.23 472.40,194.70 C473.67,195.17 474.23,195.20 474.60,195.30" fill="none" stroke="#22ee22" stroke-width="1.2" stroke-linejoin="round" stroke-linecap="round"/>
<path d="M430.70,195.30 C431.62,194.47 434.20,192.97 436.20,190.30 C438.20,187.63 440.87,182.78 442.70,179.30 C444.53,175.82 445.53,171.67 447.20,169.40 C448.87,167.13 451.23,166.07 452.70,165.70 C454.17,165.33 454.72,165.67 456.00,167.20 C457.28,168.73 458.93,172.70 460.40,174.90 C461.87,177.10 463.33,178.75 464.80,180.40 C466.27,182.05 467.57,183.33 469.20,184.80 C470.83,186.27 472.78,187.73 474.60,189.20 C476.42,190.67 478.63,192.58 480.10,193.60 C481.57,194.62 482.85,195.02 483.40,195.30" fill="none" stroke="#ff8c1a" stroke-width="1.2" stroke-linejoin="round" stroke-linecap="round"/>
<line x1="437.30" y1="160.70" x2="437.30" y2="165.90" stroke="#f02020" stroke-width="0.7"/>
<path d="M436.20,164.60 L437.30,166.20 L438.40,164.60" fill="none" stroke="#f02020" stroke-width="0.7"/>
<line x1="459.90" y1="177.50" x2="459.90" y2="182.50" stroke="#22ee22" stroke-width="0.7"/>
<path d="M458.80,181.20 L459.90,182.80 L461.00,181.20" fill="none" stroke="#22ee22" stroke-width="0.7"/>
<line x1="474.60" y1="180.40" x2="474.60" y2="186.00" stroke="#ff8c1a" stroke-width="0.7"/>
<path d="M473.50,184.70 L474.60,186.30 L475.70,184.70" fill="none" stroke="#ff8c1a" stroke-width="0.7"/>
<text x="374.00" y="139.18" font-size="6.6" text-anchor="start" fill="#f01010" font-weight="bold">Low</text>
<text x="374.00" y="147.48" font-size="6.6" text-anchor="start" fill="#f01010" font-weight="bold">Producer</text>
<text x="471.90" y="139.08" font-size="6.6" text-anchor="start" fill="#ff8c1a" font-weight="bold">High Producer</text>
<text x="445.60" y="212.25" font-size="7.35" text-anchor="middle" fill="#111" stroke="#111" stroke-width="0.2">Single-cell metabolite concentration (arb. units)</text>
<text x="361.96" y="152.20" font-size="7.4" text-anchor="middle" fill="#111" stroke="#111" stroke-width="0.2" transform="rotate(-90 361.964 152.2)">Probability Density</text>
<line x1="604.50" y1="4.00" x2="604.50" y2="100.50" stroke="#999" stroke-width="0.7"/>
<line x1="527.20" y1="90.20" x2="683.50" y2="90.20" stroke="#aaa" stroke-width="0.8"/>
<line x1="526.80" y1="90.20" x2="526.80" y2="88.20" stroke="#777" stroke-width="0.6"/>
<text x="527.10" y="98.50" font-size="7.5" text-anchor="middle" fill="#111" stroke="#111" stroke-width="0.2">−3</text>
<line x1="552.70" y1="90.20" x2="552.70" y2="88.20" stroke="#777" stroke-width="0.6"/>
<text x="553.00" y="98.50" font-size="7.5" text-anchor="middle" fill="#111" stroke="#111" stroke-width="0.2">−2</text>
<line x1="578.60" y1="90.20" x2="578.60" y2="88.20" stroke="#777" stroke-width="0.6"/>
<text x="578.90" y="98.50" font-size="7.5" text-anchor="middle" fill="#111" stroke="#111" stroke-width="0.2">−1</text>
<line x1="630.40" y1="90.20" x2="630.40" y2="88.20" stroke="#777" stroke-width="0.6"/>
<text x="630.70" y="98.50" font-size="7.5" text-anchor="middle" fill="#111" stroke="#111" stroke-width="0.2">1</text>
<line x1="656.30" y1="90.20" x2="656.30" y2="88.20" stroke="#777" stroke-width="0.6"/>
<text x="656.60" y="98.50" font-size="7.5" text-anchor="middle" fill="#111" stroke="#111" stroke-width="0.2">2</text>
<line x1="682.20" y1="90.20" x2="682.20" y2="88.20" stroke="#777" stroke-width="0.6"/>
<text x="682.50" y="98.50" font-size="7.5" text-anchor="middle" fill="#111" stroke="#111" stroke-width="0.2">3</text>
<line x1="531.98" y1="90.20" x2="531.98" y2="89.20" stroke="#aaa" stroke-width="0.5"/>
<line x1="537.16" y1="90.20" x2="537.16" y2="89.20" stroke="#aaa" stroke-width="0.5"/>
<line x1="542.34" y1="90.20" x2="542.34" y2="89.20" stroke="#aaa" stroke-width="0.5"/>
<line x1="547.52" y1="90.20" x2="547.52" y2="89.20" stroke="#aaa" stroke-width="0.5"/>
<line x1="557.88" y1="90.20" x2="557.88" y2="89.20" stroke="#aaa" stroke-width="0.5"/>
<line x1="563.06" y1="90.20" x2="563.06" y2="89.20" stroke="#aaa" stroke-width="0.5"/>
<line x1="568.24" y1="90.20" x2="568.24" y2="89.20" stroke="#aaa" stroke-width="0.5"/>
<line x1="573.42" y1="90.20" x2="573.42" y2="89.20" stroke="#aaa" stroke-width="0.5"/>
<line x1="583.78" y1="90.20" x2="583.78" y2="89.20" stroke="#aaa" stroke-width="0.5"/>
<line x1="588.96" y1="90.20" x2="588.96" y2="89.20" stroke="#aaa" stroke-width="0.5"/>
<line x1="594.14" y1="90.20" x2="594.14" y2="89.20" stroke="#aaa" stroke-width="0.5"/>
<line x1="599.32" y1="90.20" x2="599.32" y2="89.20" stroke="#aaa" stroke-width="0.5"/>
<line x1="609.68" y1="90.20" x2="609.68" y2="89.20" stroke="#aaa" stroke-width="0.5"/>
<line x1="614.86" y1="90.20" x2="614.86" y2="89.20" stroke="#aaa" stroke-width="0.5"/>
<line x1="620.04" y1="90.20" x2="620.04" y2="89.20" stroke="#aaa" stroke-width="0.5"/>
<line x1="625.22" y1="90.20" x2="625.22" y2="89.20" stroke="#aaa" stroke-width="0.5"/>
<line x1="635.58" y1="90.20" x2="635.58" y2="89.20" stroke="#aaa" stroke-width="0.5"/>
<line x1="640.76" y1="90.20" x2="640.76" y2="89.20" stroke="#aaa" stroke-width="0.5"/>
<line x1="645.94" y1="90.20" x2="645.94" y2="89.20" stroke="#aaa" stroke-width="0.5"/>
<line x1="651.12" y1="90.20" x2="651.12" y2="89.20" stroke="#aaa" stroke-width="0.5"/>
<line x1="661.48" y1="90.20" x2="661.48" y2="89.20" stroke="#aaa" stroke-width="0.5"/>
<line x1="666.66" y1="90.20" x2="666.66" y2="89.20" stroke="#aaa" stroke-width="0.5"/>
<line x1="671.84" y1="90.20" x2="671.84" y2="89.20" stroke="#aaa" stroke-width="0.5"/>
<line x1="677.02" y1="90.20" x2="677.02" y2="89.20" stroke="#aaa" stroke-width="0.5"/>
<line x1="604.50" y1="73.10" x2="606.50" y2="73.10" stroke="#777" stroke-width="0.6"/>
<text x="603.00" y="75.58" font-size="6.9" text-anchor="end" fill="#111" stroke="#111" stroke-width="0.2">0.2</text>
<line x1="604.50" y1="55.90" x2="606.50" y2="55.90" stroke="#777" stroke-width="0.6"/>
<text x="603.00" y="58.38" font-size="6.9" text-anchor="end" fill="#111" stroke="#111" stroke-width="0.2">0.4</text>
<line x1="604.50" y1="38.70" x2="606.50" y2="38.70" stroke="#777" stroke-width="0.6"/>
<text x="603.00" y="41.18" font-size="6.9" text-anchor="end" fill="#111" stroke="#111" stroke-width="0.2">0.6</text>
<line x1="604.50" y1="21.50" x2="606.50" y2="21.50" stroke="#777" stroke-width="0.6"/>
<text x="603.00" y="23.98" font-size="6.9" text-anchor="end" fill="#111" stroke="#111" stroke-width="0.2">0.8</text>
<line x1="604.50" y1="4.30" x2="606.50" y2="4.30" stroke="#777" stroke-width="0.6"/>
<text x="603.00" y="6.78" font-size="6.9" text-anchor="end" fill="#111" stroke="#111" stroke-width="0.2">1.0</text>
<line x1="604.50" y1="86.86" x2="605.50" y2="86.86" stroke="#aaa" stroke-width="0.5"/>
<line x1="604.50" y1="83.42" x2="605.50" y2="83.42" stroke="#aaa" stroke-width="0.5"/>
<line x1="604.50" y1="79.98" x2="605.50" y2="79.98" stroke="#aaa" stroke-width="0.5"/>
<line x1="604.50" y1="76.54" x2="605.50" y2="76.54" stroke="#aaa" stroke-width="0.5"/>
<line x1="604.50" y1="69.66" x2="605.50" y2="69.66" stroke="#aaa" stroke-width="0.5"/>
<line x1="604.50" y1="66.22" x2="605.50" y2="66.22" stroke="#aaa" stroke-width="0.5"/>
<line x1="604.50" y1="62.78" x2="605.50" y2="62.78" stroke="#aaa" stroke-width="0.5"/>
<line x1="604.50" y1="59.34" x2="605.50" y2="59.34" stroke="#aaa" stroke-width="0.5"/>
<line x1="604.50" y1="52.46" x2="605.50" y2="52.46" stroke="#aaa" stroke-width="0.5"/>
<line x1="604.50" y1="49.02" x2="605.50" y2="49.02" stroke="#aaa" stroke-width="0.5"/>
<line x1="604.50" y1="45.58" x2="605.50" y2="45.58" stroke="#aaa" stroke-width="0.5"/>
<line x1="604.50" y1="42.14" x2="605.50" y2="42.14" stroke="#aaa" stroke-width="0.5"/>
<line x1="604.50" y1="35.26" x2="605.50" y2="35.26" stroke="#aaa" stroke-width="0.5"/>
<line x1="604.50" y1="31.82" x2="605.50" y2="31.82" stroke="#aaa" stroke-width="0.5"/>
<line x1="604.50" y1="28.38" x2="605.50" y2="28.38" stroke="#aaa" stroke-width="0.5"/>
<line x1="604.50" y1="24.94" x2="605.50" y2="24.94" stroke="#aaa" stroke-width="0.5"/>
<line x1="604.50" y1="18.06" x2="605.50" y2="18.06" stroke="#aaa" stroke-width="0.5"/>
<line x1="604.50" y1="14.62" x2="605.50" y2="14.62" stroke="#aaa" stroke-width="0.5"/>
<line x1="604.50" y1="11.18" x2="605.50" y2="11.18" stroke="#aaa" stroke-width="0.5"/>
<line x1="604.50" y1="7.74" x2="605.50" y2="7.74" stroke="#aaa" stroke-width="0.5"/>
<polyline points="527.32,85.41 528.61,85.23 529.91,85.03 531.20,84.82 532.50,84.61 533.79,84.39 535.09,84.16 536.38,83.93 537.68,83.68 538.97,83.42 540.27,83.16 541.56,82.88 542.86,82.59 544.15,82.29 545.45,81.98 546.74,81.66 548.04,81.33 549.33,80.98 550.63,80.62 551.92,80.24 553.22,79.85 554.51,79.45 555.81,79.03 557.10,78.59 558.40,78.14 559.69,77.67 560.99,77.18 562.28,76.67 563.58,76.14 564.87,75.59 566.17,75.02 567.46,74.43 568.76,73.82 570.05,73.18 571.35,72.52 572.64,71.83 573.94,71.11 575.23,70.37 576.53,69.60 577.82,68.80 579.12,67.96 580.41,67.10 581.71,66.20 583.00,65.27 584.30,64.30 585.59,63.29 586.89,62.24 588.18,61.16 589.48,60.03 590.77,58.85 592.07,57.64 593.36,56.37 594.66,55.06 595.95,53.69 597.25,52.28 598.54,50.80 599.84,49.27 601.13,47.68 602.43,46.03 603.72,44.32 605.02,43.97 606.31,45.70 607.61,47.36 608.90,48.96 610.20,50.50 611.49,51.99 612.79,53.41 614.08,54.79 615.38,56.11 616.67,57.39 617.97,58.62 619.26,59.80 620.56,60.93 621.85,62.03 623.15,63.08 624.44,64.10 625.74,65.07 627.03,66.02 628.33,66.92 629.62,67.79 630.92,68.63 632.21,69.44 633.51,70.22 634.80,70.97 636.10,71.69 637.39,72.38 638.69,73.05 639.98,73.69 641.28,74.31 642.57,74.91 643.87,75.48 645.16,76.03 646.46,76.57 647.75,77.08 649.05,77.57 650.34,78.05 651.64,78.50 652.93,78.94 654.23,79.37 655.52,79.77 656.82,80.17 658.11,80.54 659.41,80.91 660.70,81.26 662.00,81.60 663.29,81.92 664.59,82.23 665.88,82.53 667.18,82.82 668.47,83.10 669.77,83.37 671.06,83.63 672.36,83.88 673.65,84.12 674.95,84.35 676.24,84.57 677.54,84.78 678.83,84.99 680.13,85.19 681.42,85.38 681.68,85.41" fill="none" stroke="#22ee22" stroke-width="1.9" stroke-linejoin="round" stroke-linecap="round"/>
<text x="620.20" y="105.36" font-size="7.4" text-anchor="middle" fill="#111" stroke="#111" stroke-width="0.2"><tspan font-size="9.5">τ</tspan><tspan font-size="4.88" dy="1.9">lag</tspan><tspan dy="-1.9"> (h)</tspan></text>
<line x1="531.50" y1="112.00" x2="547.20" y2="112.00" stroke="#22ee22" stroke-width="2.4"/>
<line x1="531.50" y1="120.60" x2="547.20" y2="120.60" stroke="#f04545" stroke-width="2.4"/>
<line x1="531.50" y1="128.40" x2="547.20" y2="128.40" stroke="#f5d800" stroke-width="2.4"/>
<text x="554.20" y="117.46" font-size="7.4" text-anchor="start" fill="#111" stroke="#111" stroke-width="0.2">Protein-Metabolite cross-correlation</text>
<text x="554.20" y="124.86" font-size="7.4" text-anchor="start" fill="#111" stroke="#111" stroke-width="0.2">Growth-protein cross-correlation</text>
<text x="554.20" y="132.66" font-size="7.4" text-anchor="start" fill="#111" stroke="#111" stroke-width="0.2">Growth-metabolite cross-correlation</text>
<line x1="604.50" y1="134.00" x2="604.50" y2="215.00" stroke="#bbb" stroke-width="0.7"/>
<line x1="527.20" y1="164.80" x2="685.00" y2="164.80" stroke="#bbb" stroke-width="0.7" stroke-dasharray="1,1.5"/>
<path d="M526.30,168.00 C527.48,167.95 530.80,167.65 533.40,167.70 C536.00,167.75 539.08,168.15 541.90,168.30 C544.72,168.45 547.77,168.28 550.30,168.60 C552.83,168.92 554.98,169.57 557.10,170.20 C559.22,170.83 561.03,171.62 563.00,172.40 C564.97,173.18 566.90,174.00 568.90,174.90 C570.90,175.80 573.48,176.87 575.00,177.80 C576.52,178.73 577.00,179.93 578.00,180.50 C579.00,181.07 579.58,181.40 581.00,181.20 C582.42,181.00 584.97,179.15 586.50,179.30 C588.03,179.45 589.03,181.55 590.20,182.10 C591.37,182.65 592.58,182.65 593.50,182.60 C594.42,182.55 594.88,181.43 595.70,181.80 C596.52,182.17 597.33,183.53 598.40,184.80 C599.47,186.07 600.88,186.95 602.10,189.40 C603.32,191.85 604.63,198.43 605.70,199.50 C606.77,200.57 607.43,197.78 608.50,195.80 C609.57,193.82 610.88,189.58 612.10,187.60 C613.32,185.62 614.27,185.03 615.80,183.90 C617.33,182.77 619.77,181.77 621.30,180.80 C622.83,179.83 623.63,179.20 625.00,178.10 C626.37,177.00 628.00,175.23 629.50,174.20 C631.00,173.17 631.93,172.57 634.00,171.90 C636.07,171.23 639.63,170.57 641.90,170.20 C644.17,169.83 645.72,169.88 647.60,169.70 C649.48,169.52 651.33,169.10 653.20,169.10 C655.07,169.10 656.92,169.70 658.80,169.70 C660.68,169.70 662.62,169.67 664.50,169.10 C666.38,168.53 668.23,167.00 670.10,166.30 C671.97,165.60 673.82,165.13 675.70,164.90 C677.58,164.67 679.85,164.82 681.40,164.90 C682.95,164.98 684.40,165.32 685.00,165.40" fill="none" stroke="#f5d800" stroke-width="1.5" stroke-linejoin="round" stroke-linecap="round"/>
<path d="M526.30,169.80 C527.48,169.87 530.80,170.05 533.40,170.20 C536.00,170.35 539.08,170.48 541.90,170.70 C544.72,170.92 547.77,171.08 550.30,171.50 C552.83,171.92 554.98,172.85 557.10,173.20 C559.22,173.55 560.85,173.48 563.00,173.60 C565.15,173.72 568.00,173.62 570.00,173.90 C572.00,174.18 573.50,174.62 575.00,175.30 C576.50,175.98 577.38,177.02 579.00,178.00 C580.62,178.98 582.53,179.77 584.70,181.20 C586.87,182.63 589.87,184.93 592.00,186.60 C594.13,188.27 595.67,189.37 597.50,191.20 C599.33,193.03 601.32,195.37 603.00,197.60 C604.68,199.83 606.08,203.83 607.60,204.60 C609.12,205.37 610.43,203.37 612.10,202.20 C613.77,201.03 615.45,199.63 617.60,197.60 C619.75,195.57 622.83,192.12 625.00,190.00 C627.17,187.88 628.72,186.22 630.60,184.90 C632.48,183.58 634.42,182.95 636.30,182.10 C638.18,181.25 640.02,180.55 641.90,179.80 C643.78,179.05 645.72,178.25 647.60,177.60 C649.48,176.95 651.33,176.38 653.20,175.90 C655.07,175.42 656.92,175.18 658.80,174.70 C660.68,174.22 662.62,173.75 664.50,173.00 C666.38,172.25 668.23,170.95 670.10,170.20 C671.97,169.45 673.82,168.82 675.70,168.50 C677.58,168.18 679.85,168.25 681.40,168.30 C682.95,168.35 684.40,168.72 685.00,168.80" fill="none" stroke="#f04545" stroke-width="1.5" stroke-linejoin="round" stroke-linecap="round"/>
<line x1="526.80" y1="164.80" x2="526.80" y2="163.30" stroke="#aaa" stroke-width="0.5"/>
<text x="527.10" y="173.30" font-size="7.5" text-anchor="middle" fill="#111" stroke="#111" stroke-width="0.2">−3</text>
<line x1="552.70" y1="164.80" x2="552.70" y2="163.30" stroke="#aaa" stroke-width="0.5"/>
<text x="553.00" y="173.30" font-size="7.5" text-anchor="middle" fill="#111" stroke="#111" stroke-width="0.2">−2</text>
<line x1="578.60" y1="164.80" x2="578.60" y2="163.30" stroke="#aaa" stroke-width="0.5"/>
<text x="578.90" y="173.30" font-size="7.5" text-anchor="middle" fill="#111" stroke="#111" stroke-width="0.2">−1</text>
<line x1="630.40" y1="164.80" x2="630.40" y2="163.30" stroke="#aaa" stroke-width="0.5"/>
<text x="630.70" y="173.30" font-size="7.5" text-anchor="middle" fill="#111" stroke="#111" stroke-width="0.2">1</text>
<line x1="656.30" y1="164.80" x2="656.30" y2="163.30" stroke="#aaa" stroke-width="0.5"/>
<text x="656.60" y="173.30" font-size="7.5" text-anchor="middle" fill="#111" stroke="#111" stroke-width="0.2">2</text>
<line x1="682.20" y1="164.80" x2="682.20" y2="163.30" stroke="#aaa" stroke-width="0.5"/>
<text x="682.50" y="173.30" font-size="7.5" text-anchor="middle" fill="#111" stroke="#111" stroke-width="0.2">3</text>
<line x1="604.50" y1="141.30" x2="606.00" y2="141.30" stroke="#aaa" stroke-width="0.5"/>
<text x="602.70" y="143.78" font-size="6.9" text-anchor="end" fill="#111" stroke="#111" stroke-width="0.2">0.05</text>
<line x1="604.50" y1="188.30" x2="606.00" y2="188.30" stroke="#aaa" stroke-width="0.5"/>
<text x="602.70" y="190.78" font-size="6.9" text-anchor="end" fill="#111" stroke="#111" stroke-width="0.2">−0.05</text>
<line x1="604.50" y1="211.80" x2="606.00" y2="211.80" stroke="#aaa" stroke-width="0.5"/>
<text x="602.70" y="214.28" font-size="6.9" text-anchor="end" fill="#111" stroke="#111" stroke-width="0.2">−0.10</text>
<text x="620.50" y="215.26" font-size="7.4" text-anchor="middle" fill="#111" stroke="#111" stroke-width="0.2"><tspan font-size="7.4">τ</tspan><tspan font-size="4.88" dy="1.9">lag</tspan><tspan dy="-1.9"> (h)</tspan></text>
<line x1="19.20" y1="251.00" x2="19.20" y2="334.00" stroke="#bbb" stroke-width="0.7"/>
<line x1="19.20" y1="333.50" x2="20.70" y2="333.50" stroke="#999" stroke-width="0.5"/>
<text x="16.70" y="336.67" font-size="8.8" text-anchor="end" fill="#111" stroke="#111" stroke-width="0.2" textLength="4.16" lengthAdjust="spacingAndGlyphs">0</text>
<line x1="19.20" y1="317.60" x2="20.70" y2="317.60" stroke="#999" stroke-width="0.5"/>
<text x="16.70" y="320.77" font-size="8.8" text-anchor="end" fill="#111" stroke="#111" stroke-width="0.2" textLength="8.32" lengthAdjust="spacingAndGlyphs">20</text>
<line x1="19.20" y1="301.70" x2="20.70" y2="301.70" stroke="#999" stroke-width="0.5"/>
<text x="16.70" y="304.87" font-size="8.8" text-anchor="end" fill="#111" stroke="#111" stroke-width="0.2" textLength="8.32" lengthAdjust="spacingAndGlyphs">40</text>
<line x1="19.20" y1="285.80" x2="20.70" y2="285.80" stroke="#999" stroke-width="0.5"/>
<text x="16.70" y="288.97" font-size="8.8" text-anchor="end" fill="#111" stroke="#111" stroke-width="0.2" textLength="8.32" lengthAdjust="spacingAndGlyphs">60</text>
<line x1="19.20" y1="269.90" x2="20.70" y2="269.90" stroke="#999" stroke-width="0.5"/>
<text x="16.70" y="273.07" font-size="8.8" text-anchor="end" fill="#111" stroke="#111" stroke-width="0.2" textLength="8.32" lengthAdjust="spacingAndGlyphs">80</text>
<line x1="19.20" y1="254.00" x2="20.70" y2="254.00" stroke="#999" stroke-width="0.5"/>
<text x="16.70" y="257.17" font-size="8.8" text-anchor="end" fill="#111" stroke="#111" stroke-width="0.2" textLength="12.48" lengthAdjust="spacingAndGlyphs">100</text>
<line x1="19.20" y1="329.52" x2="20.10" y2="329.52" stroke="#bbb" stroke-width="0.4"/>
<line x1="19.20" y1="325.55" x2="20.10" y2="325.55" stroke="#bbb" stroke-width="0.4"/>
<line x1="19.20" y1="321.57" x2="20.10" y2="321.57" stroke="#bbb" stroke-width="0.4"/>
<line x1="19.20" y1="313.62" x2="20.10" y2="313.62" stroke="#bbb" stroke-width="0.4"/>
<line x1="19.20" y1="309.65" x2="20.10" y2="309.65" stroke="#bbb" stroke-width="0.4"/>
<line x1="19.20" y1="305.68" x2="20.10" y2="305.68" stroke="#bbb" stroke-width="0.4"/>
<line x1="19.20" y1="297.73" x2="20.10" y2="297.73" stroke="#bbb" stroke-width="0.4"/>
<line x1="19.20" y1="293.75" x2="20.10" y2="293.75" stroke="#bbb" stroke-width="0.4"/>
<line x1="19.20" y1="289.77" x2="20.10" y2="289.77" stroke="#bbb" stroke-width="0.4"/>
<line x1="19.20" y1="281.82" x2="20.10" y2="281.82" stroke="#bbb" stroke-width="0.4"/>
<line x1="19.20" y1="277.85" x2="20.10" y2="277.85" stroke="#bbb" stroke-width="0.4"/>
<line x1="19.20" y1="273.88" x2="20.10" y2="273.88" stroke="#bbb" stroke-width="0.4"/>
<line x1="19.20" y1="265.93" x2="20.10" y2="265.93" stroke="#bbb" stroke-width="0.4"/>
<line x1="19.20" y1="261.95" x2="20.10" y2="261.95" stroke="#bbb" stroke-width="0.4"/>
<line x1="19.20" y1="257.98" x2="20.10" y2="257.98" stroke="#bbb" stroke-width="0.4"/>
<line x1="19.20" y1="333.80" x2="152.42" y2="333.80" stroke="#bbb" stroke-width="0.6"/>
<rect x="21.75" y="254.00" width="14.80" height="79.50" fill="#ff0000" stroke="none" stroke-width="0.5"/>
<rect x="21.75" y="254.00" width="14.80" height="79.50" fill="none" stroke="#8c8c8c" stroke-width="0.55"/>
<line x1="21.65" y1="333.50" x2="21.65" y2="335.70" stroke="#aaa" stroke-width="0.5"/>
<line x1="36.65" y1="333.50" x2="36.65" y2="335.70" stroke="#aaa" stroke-width="0.5"/>
<text x="29.15" y="342.37" font-size="8.8" text-anchor="middle" fill="#111" stroke="#111" stroke-width="0.2" textLength="4.4" lengthAdjust="spacingAndGlyphs">0</text>
<rect x="38.16" y="254.00" width="14.80" height="66.78" fill="#ff0000" stroke="none" stroke-width="0.5"/>
<rect x="38.16" y="320.78" width="14.80" height="12.72" fill="#d45858" stroke="none" stroke-width="0.5"/>
<line x1="38.16" y1="320.78" x2="52.96" y2="320.78" stroke="#602020" stroke-width="0.5"/>
<rect x="38.16" y="254.00" width="14.80" height="79.50" fill="none" stroke="#8c8c8c" stroke-width="0.55"/>
<line x1="38.06" y1="333.50" x2="38.06" y2="335.70" stroke="#aaa" stroke-width="0.5"/>
<line x1="53.06" y1="333.50" x2="53.06" y2="335.70" stroke="#aaa" stroke-width="0.5"/>
<text x="45.56" y="342.37" font-size="8.8" text-anchor="middle" fill="#111" stroke="#111" stroke-width="0.2" textLength="4.4" lengthAdjust="spacingAndGlyphs">1</text>
<rect x="54.57" y="254.00" width="14.80" height="55.65" fill="#ff0000" stroke="none" stroke-width="0.5"/>
<rect x="54.57" y="309.65" width="14.80" height="23.85" fill="#d45858" stroke="none" stroke-width="0.5"/>
<line x1="54.57" y1="309.65" x2="69.37" y2="309.65" stroke="#602020" stroke-width="0.5"/>
<rect x="54.57" y="254.00" width="14.80" height="79.50" fill="none" stroke="#8c8c8c" stroke-width="0.55"/>
<line x1="54.47" y1="333.50" x2="54.47" y2="335.70" stroke="#aaa" stroke-width="0.5"/>
<line x1="69.47" y1="333.50" x2="69.47" y2="335.70" stroke="#aaa" stroke-width="0.5"/>
<text x="61.97" y="342.37" font-size="8.8" text-anchor="middle" fill="#111" stroke="#111" stroke-width="0.2" textLength="4.4" lengthAdjust="spacingAndGlyphs">2</text>
<rect x="70.98" y="254.00" width="14.80" height="46.90" fill="#ff0000" stroke="none" stroke-width="0.5"/>
<rect x="70.98" y="300.90" width="14.80" height="32.60" fill="#d45858" stroke="none" stroke-width="0.5"/>
<line x1="70.98" y1="300.90" x2="85.78" y2="300.90" stroke="#602020" stroke-width="0.5"/>
<rect x="70.98" y="254.00" width="14.80" height="79.50" fill="none" stroke="#8c8c8c" stroke-width="0.55"/>
<line x1="70.88" y1="333.50" x2="70.88" y2="335.70" stroke="#aaa" stroke-width="0.5"/>
<line x1="85.88" y1="333.50" x2="85.88" y2="335.70" stroke="#aaa" stroke-width="0.5"/>
<text x="78.38" y="342.37" font-size="8.8" text-anchor="middle" fill="#111" stroke="#111" stroke-width="0.2" textLength="4.4" lengthAdjust="spacingAndGlyphs">3</text>
<rect x="87.39" y="254.00" width="14.80" height="32.60" fill="#ff0000" stroke="none" stroke-width="0.5"/>
<rect x="87.39" y="286.60" width="14.80" height="46.90" fill="#d45858" stroke="none" stroke-width="0.5"/>
<line x1="87.39" y1="286.60" x2="102.19" y2="286.60" stroke="#602020" stroke-width="0.5"/>
<rect x="87.39" y="254.00" width="14.80" height="79.50" fill="none" stroke="#8c8c8c" stroke-width="0.55"/>
<line x1="87.29" y1="333.50" x2="87.29" y2="335.70" stroke="#aaa" stroke-width="0.5"/>
<line x1="102.29" y1="333.50" x2="102.29" y2="335.70" stroke="#aaa" stroke-width="0.5"/>
<text x="94.79" y="342.37" font-size="8.8" text-anchor="middle" fill="#111" stroke="#111" stroke-width="0.2" textLength="4.4" lengthAdjust="spacingAndGlyphs">4</text>
<rect x="103.80" y="254.00" width="14.80" height="23.85" fill="#ff0000" stroke="none" stroke-width="0.5"/>
<rect x="103.80" y="277.85" width="14.80" height="54.46" fill="#d45858" stroke="none" stroke-width="0.5"/>
<rect x="103.80" y="332.31" width="14.80" height="1.19" fill="#a9a9a9" stroke="none" stroke-width="0.5"/>
<line x1="103.80" y1="277.85" x2="118.60" y2="277.85" stroke="#602020" stroke-width="0.5"/>
<line x1="103.80" y1="332.31" x2="118.60" y2="332.31" stroke="#555" stroke-width="0.5"/>
<rect x="103.80" y="254.00" width="14.80" height="79.50" fill="none" stroke="#8c8c8c" stroke-width="0.55"/>
<line x1="103.70" y1="333.50" x2="103.70" y2="335.70" stroke="#aaa" stroke-width="0.5"/>
<line x1="118.70" y1="333.50" x2="118.70" y2="335.70" stroke="#aaa" stroke-width="0.5"/>
<text x="111.20" y="342.37" font-size="8.8" text-anchor="middle" fill="#111" stroke="#111" stroke-width="0.2" textLength="4.4" lengthAdjust="spacingAndGlyphs">5</text>
<rect x="120.21" y="254.00" width="14.80" height="17.65" fill="#ff0000" stroke="none" stroke-width="0.5"/>
<rect x="120.21" y="271.65" width="14.80" height="60.26" fill="#d45858" stroke="none" stroke-width="0.5"/>
<rect x="120.21" y="331.91" width="14.80" height="1.59" fill="#a9a9a9" stroke="none" stroke-width="0.5"/>
<line x1="120.21" y1="271.65" x2="135.01" y2="271.65" stroke="#602020" stroke-width="0.5"/>
<line x1="120.21" y1="331.91" x2="135.01" y2="331.91" stroke="#555" stroke-width="0.5"/>
<rect x="120.21" y="254.00" width="14.80" height="79.50" fill="none" stroke="#8c8c8c" stroke-width="0.55"/>
<line x1="120.11" y1="333.50" x2="120.11" y2="335.70" stroke="#aaa" stroke-width="0.5"/>
<line x1="135.11" y1="333.50" x2="135.11" y2="335.70" stroke="#aaa" stroke-width="0.5"/>
<text x="127.61" y="342.37" font-size="8.8" text-anchor="middle" fill="#111" stroke="#111" stroke-width="0.2" textLength="4.4" lengthAdjust="spacingAndGlyphs">6</text>
<rect x="136.62" y="254.00" width="14.80" height="15.50" fill="#ff0000" stroke="none" stroke-width="0.5"/>
<rect x="136.62" y="269.50" width="14.80" height="60.82" fill="#d45858" stroke="none" stroke-width="0.5"/>
<rect x="136.62" y="330.32" width="14.80" height="3.18" fill="#a9a9a9" stroke="none" stroke-width="0.5"/>
<line x1="136.62" y1="269.50" x2="151.42" y2="269.50" stroke="#602020" stroke-width="0.5"/>
<line x1="136.62" y1="330.32" x2="151.42" y2="330.32" stroke="#555" stroke-width="0.5"/>
<rect x="136.62" y="254.00" width="14.80" height="79.50" fill="none" stroke="#8c8c8c" stroke-width="0.55"/>
<line x1="136.52" y1="333.50" x2="136.52" y2="335.70" stroke="#aaa" stroke-width="0.5"/>
<line x1="151.52" y1="333.50" x2="151.52" y2="335.70" stroke="#aaa" stroke-width="0.5"/>
<text x="144.02" y="342.37" font-size="8.8" text-anchor="middle" fill="#111" stroke="#111" stroke-width="0.2" textLength="4.4" lengthAdjust="spacingAndGlyphs">7</text>
<circle cx="29.15" cy="333.50" r="1.25" fill="none" stroke="#333" stroke-width="0.6"/>
<circle cx="45.56" cy="323.17" r="1.25" fill="none" stroke="#333" stroke-width="0.6"/>
<circle cx="45.56" cy="333.50" r="1.25" fill="none" stroke="#333" stroke-width="0.6"/>
<circle cx="61.97" cy="314.82" r="1.25" fill="none" stroke="#333" stroke-width="0.6"/>
<circle cx="61.97" cy="333.50" r="1.25" fill="none" stroke="#333" stroke-width="0.6"/>
<circle cx="78.38" cy="309.97" r="1.25" fill="none" stroke="#333" stroke-width="0.6"/>
<circle cx="78.38" cy="333.50" r="1.25" fill="none" stroke="#333" stroke-width="0.6"/>
<circle cx="94.79" cy="297.17" r="1.25" fill="none" stroke="#333" stroke-width="0.6"/>
<circle cx="94.79" cy="333.50" r="1.25" fill="none" stroke="#333" stroke-width="0.6"/>
<circle cx="111.20" cy="292.16" r="1.25" fill="none" stroke="#333" stroke-width="0.6"/>
<circle cx="111.20" cy="332.70" r="1.25" fill="none" stroke="#333" stroke-width="0.6"/>
<circle cx="127.61" cy="281.03" r="1.25" fill="none" stroke="#333" stroke-width="0.6"/>
<circle cx="127.61" cy="332.70" r="1.25" fill="none" stroke="#333" stroke-width="0.6"/>
<circle cx="144.02" cy="279.44" r="1.25" fill="none" stroke="#333" stroke-width="0.6"/>
<circle cx="144.02" cy="330.32" r="1.25" fill="none" stroke="#333" stroke-width="0.6"/>
<circle cx="29.15" cy="333.50" r="1.25" fill="none" stroke="#3020e8" stroke-width="0.8"/>
<circle cx="45.56" cy="316.96" r="1.25" fill="none" stroke="#3020e8" stroke-width="0.8"/>
<circle cx="45.56" cy="333.50" r="1.25" fill="none" stroke="#3020e8" stroke-width="0.8"/>
<circle cx="61.97" cy="303.29" r="1.25" fill="none" stroke="#3020e8" stroke-width="0.8"/>
<circle cx="61.97" cy="333.50" r="1.25" fill="none" stroke="#3020e8" stroke-width="0.8"/>
<circle cx="78.38" cy="290.57" r="1.25" fill="none" stroke="#3020e8" stroke-width="0.8"/>
<circle cx="78.38" cy="333.50" r="1.25" fill="none" stroke="#3020e8" stroke-width="0.8"/>
<circle cx="94.79" cy="276.50" r="1.25" fill="none" stroke="#3020e8" stroke-width="0.8"/>
<circle cx="94.79" cy="333.50" r="1.25" fill="none" stroke="#3020e8" stroke-width="0.8"/>
<circle cx="111.20" cy="266.72" r="1.25" fill="none" stroke="#3020e8" stroke-width="0.8"/>
<circle cx="111.20" cy="331.12" r="1.25" fill="none" stroke="#3020e8" stroke-width="0.8"/>
<circle cx="127.61" cy="266.72" r="1.25" fill="none" stroke="#3020e8" stroke-width="0.8"/>
<circle cx="127.61" cy="331.12" r="1.25" fill="none" stroke="#3020e8" stroke-width="0.8"/>
<circle cx="144.02" cy="266.72" r="1.25" fill="none" stroke="#3020e8" stroke-width="0.8"/>
<circle cx="144.02" cy="329.92" r="1.25" fill="none" stroke="#3020e8" stroke-width="0.8"/>
<text x="25.00" y="245.61" font-size="7.8" text-anchor="start" fill="#111" stroke="#111" stroke-width="0.2" textLength="104.3" lengthAdjust="spacingAndGlyphs">Fate of high protein producers</text>
<text x="90.20" y="353.34" font-size="7.9" text-anchor="middle" fill="#111" stroke="#111" stroke-width="0.2">Generation</text>
<line x1="166.80" y1="250.50" x2="166.80" y2="333.40" stroke="#bbb" stroke-width="0.7"/>
<line x1="166.80" y1="332.90" x2="168.30" y2="332.90" stroke="#999" stroke-width="0.5"/>
<text x="164.30" y="336.07" font-size="8.8" text-anchor="end" fill="#111" stroke="#111" stroke-width="0.2" textLength="4.16" lengthAdjust="spacingAndGlyphs">0</text>
<line x1="166.80" y1="317.02" x2="168.30" y2="317.02" stroke="#999" stroke-width="0.5"/>
<text x="164.30" y="320.19" font-size="8.8" text-anchor="end" fill="#111" stroke="#111" stroke-width="0.2" textLength="8.32" lengthAdjust="spacingAndGlyphs">20</text>
<line x1="166.80" y1="301.14" x2="168.30" y2="301.14" stroke="#999" stroke-width="0.5"/>
<text x="164.30" y="304.31" font-size="8.8" text-anchor="end" fill="#111" stroke="#111" stroke-width="0.2" textLength="8.32" lengthAdjust="spacingAndGlyphs">40</text>
<line x1="166.80" y1="285.26" x2="168.30" y2="285.26" stroke="#999" stroke-width="0.5"/>
<text x="164.30" y="288.43" font-size="8.8" text-anchor="end" fill="#111" stroke="#111" stroke-width="0.2" textLength="8.32" lengthAdjust="spacingAndGlyphs">60</text>
<line x1="166.80" y1="269.38" x2="168.30" y2="269.38" stroke="#999" stroke-width="0.5"/>
<text x="164.30" y="272.55" font-size="8.8" text-anchor="end" fill="#111" stroke="#111" stroke-width="0.2" textLength="8.32" lengthAdjust="spacingAndGlyphs">80</text>
<line x1="166.80" y1="253.50" x2="168.30" y2="253.50" stroke="#999" stroke-width="0.5"/>
<text x="164.30" y="256.67" font-size="8.8" text-anchor="end" fill="#111" stroke="#111" stroke-width="0.2" textLength="12.48" lengthAdjust="spacingAndGlyphs">100</text>
<line x1="166.80" y1="328.93" x2="167.70" y2="328.93" stroke="#bbb" stroke-width="0.4"/>
<line x1="166.80" y1="324.96" x2="167.70" y2="324.96" stroke="#bbb" stroke-width="0.4"/>
<line x1="166.80" y1="320.99" x2="167.70" y2="320.99" stroke="#bbb" stroke-width="0.4"/>
<line x1="166.80" y1="313.05" x2="167.70" y2="313.05" stroke="#bbb" stroke-width="0.4"/>
<line x1="166.80" y1="309.08" x2="167.70" y2="309.08" stroke="#bbb" stroke-width="0.4"/>
<line x1="166.80" y1="305.11" x2="167.70" y2="305.11" stroke="#bbb" stroke-width="0.4"/>
<line x1="166.80" y1="297.17" x2="167.70" y2="297.17" stroke="#bbb" stroke-width="0.4"/>
<line x1="166.80" y1="293.20" x2="167.70" y2="293.20" stroke="#bbb" stroke-width="0.4"/>
<line x1="166.80" y1="289.23" x2="167.70" y2="289.23" stroke="#bbb" stroke-width="0.4"/>
<line x1="166.80" y1="281.29" x2="167.70" y2="281.29" stroke="#bbb" stroke-width="0.4"/>
<line x1="166.80" y1="277.32" x2="167.70" y2="277.32" stroke="#bbb" stroke-width="0.4"/>
<line x1="166.80" y1="273.35" x2="167.70" y2="273.35" stroke="#bbb" stroke-width="0.4"/>
<line x1="166.80" y1="265.41" x2="167.70" y2="265.41" stroke="#bbb" stroke-width="0.4"/>
<line x1="166.80" y1="261.44" x2="167.70" y2="261.44" stroke="#bbb" stroke-width="0.4"/>
<line x1="166.80" y1="257.47" x2="167.70" y2="257.47" stroke="#bbb" stroke-width="0.4"/>
<line x1="166.80" y1="333.20" x2="301.70" y2="333.20" stroke="#bbb" stroke-width="0.6"/>
<rect x="169.47" y="253.50" width="15.10" height="79.40" fill="#a9a9a9" stroke="none" stroke-width="0.5"/>
<rect x="169.47" y="253.50" width="15.10" height="79.40" fill="none" stroke="#8c8c8c" stroke-width="0.55"/>
<line x1="169.37" y1="332.90" x2="169.37" y2="335.10" stroke="#aaa" stroke-width="0.5"/>
<line x1="184.67" y1="332.90" x2="184.67" y2="335.10" stroke="#aaa" stroke-width="0.5"/>
<text x="177.02" y="342.37" font-size="8.8" text-anchor="middle" fill="#111" stroke="#111" stroke-width="0.2" textLength="4.4" lengthAdjust="spacingAndGlyphs">0</text>
<rect x="186.06" y="253.50" width="15.10" height="11.12" fill="#d45858" stroke="none" stroke-width="0.5"/>
<rect x="186.06" y="264.62" width="15.10" height="68.28" fill="#a9a9a9" stroke="none" stroke-width="0.5"/>
<line x1="186.06" y1="264.62" x2="201.16" y2="264.62" stroke="#555" stroke-width="0.5"/>
<rect x="186.06" y="253.50" width="15.10" height="79.40" fill="none" stroke="#8c8c8c" stroke-width="0.55"/>
<line x1="185.96" y1="332.90" x2="185.96" y2="335.10" stroke="#aaa" stroke-width="0.5"/>
<line x1="201.26" y1="332.90" x2="201.26" y2="335.10" stroke="#aaa" stroke-width="0.5"/>
<text x="193.61" y="342.37" font-size="8.8" text-anchor="middle" fill="#111" stroke="#111" stroke-width="0.2" textLength="4.4" lengthAdjust="spacingAndGlyphs">1</text>
<rect x="202.65" y="253.50" width="15.10" height="19.06" fill="#d45858" stroke="none" stroke-width="0.5"/>
<rect x="202.65" y="272.56" width="15.10" height="60.34" fill="#a9a9a9" stroke="none" stroke-width="0.5"/>
<line x1="202.65" y1="272.56" x2="217.75" y2="272.56" stroke="#555" stroke-width="0.5"/>
<rect x="202.65" y="253.50" width="15.10" height="79.40" fill="none" stroke="#8c8c8c" stroke-width="0.55"/>
<line x1="202.55" y1="332.90" x2="202.55" y2="335.10" stroke="#aaa" stroke-width="0.5"/>
<line x1="217.85" y1="332.90" x2="217.85" y2="335.10" stroke="#aaa" stroke-width="0.5"/>
<text x="210.20" y="342.37" font-size="8.8" text-anchor="middle" fill="#111" stroke="#111" stroke-width="0.2" textLength="4.4" lengthAdjust="spacingAndGlyphs">2</text>
<rect x="219.24" y="253.50" width="15.10" height="27.79" fill="#d45858" stroke="none" stroke-width="0.5"/>
<rect x="219.24" y="281.29" width="15.10" height="51.61" fill="#a9a9a9" stroke="none" stroke-width="0.5"/>
<line x1="219.24" y1="281.29" x2="234.34" y2="281.29" stroke="#555" stroke-width="0.5"/>
<rect x="219.24" y="253.50" width="15.10" height="79.40" fill="none" stroke="#8c8c8c" stroke-width="0.55"/>
<line x1="219.14" y1="332.90" x2="219.14" y2="335.10" stroke="#aaa" stroke-width="0.5"/>
<line x1="234.44" y1="332.90" x2="234.44" y2="335.10" stroke="#aaa" stroke-width="0.5"/>
<text x="226.79" y="342.37" font-size="8.8" text-anchor="middle" fill="#111" stroke="#111" stroke-width="0.2" textLength="4.4" lengthAdjust="spacingAndGlyphs">3</text>
<rect x="235.83" y="253.50" width="15.10" height="38.11" fill="#d45858" stroke="none" stroke-width="0.5"/>
<rect x="235.83" y="291.61" width="15.10" height="41.29" fill="#a9a9a9" stroke="none" stroke-width="0.5"/>
<line x1="235.83" y1="291.61" x2="250.93" y2="291.61" stroke="#555" stroke-width="0.5"/>
<rect x="235.83" y="253.50" width="15.10" height="79.40" fill="none" stroke="#8c8c8c" stroke-width="0.55"/>
<line x1="235.73" y1="332.90" x2="235.73" y2="335.10" stroke="#aaa" stroke-width="0.5"/>
<line x1="251.03" y1="332.90" x2="251.03" y2="335.10" stroke="#aaa" stroke-width="0.5"/>
<text x="243.38" y="342.37" font-size="8.8" text-anchor="middle" fill="#111" stroke="#111" stroke-width="0.2" textLength="4.4" lengthAdjust="spacingAndGlyphs">4</text>
<rect x="252.42" y="253.50" width="15.10" height="42.88" fill="#d45858" stroke="none" stroke-width="0.5"/>
<rect x="252.42" y="296.38" width="15.10" height="36.52" fill="#a9a9a9" stroke="none" stroke-width="0.5"/>
<line x1="252.42" y1="296.38" x2="267.52" y2="296.38" stroke="#555" stroke-width="0.5"/>
<rect x="252.42" y="253.50" width="15.10" height="79.40" fill="none" stroke="#8c8c8c" stroke-width="0.55"/>
<line x1="252.32" y1="332.90" x2="252.32" y2="335.10" stroke="#aaa" stroke-width="0.5"/>
<line x1="267.62" y1="332.90" x2="267.62" y2="335.10" stroke="#aaa" stroke-width="0.5"/>
<text x="259.97" y="342.37" font-size="8.8" text-anchor="middle" fill="#111" stroke="#111" stroke-width="0.2" textLength="4.4" lengthAdjust="spacingAndGlyphs">5</text>
<rect x="269.01" y="253.50" width="15.10" height="43.67" fill="#d45858" stroke="none" stroke-width="0.5"/>
<rect x="269.01" y="297.17" width="15.10" height="35.73" fill="#a9a9a9" stroke="none" stroke-width="0.5"/>
<line x1="269.01" y1="297.17" x2="284.11" y2="297.17" stroke="#555" stroke-width="0.5"/>
<rect x="269.01" y="253.50" width="15.10" height="79.40" fill="none" stroke="#8c8c8c" stroke-width="0.55"/>
<line x1="268.91" y1="332.90" x2="268.91" y2="335.10" stroke="#aaa" stroke-width="0.5"/>
<line x1="284.21" y1="332.90" x2="284.21" y2="335.10" stroke="#aaa" stroke-width="0.5"/>
<text x="276.56" y="342.37" font-size="8.8" text-anchor="middle" fill="#111" stroke="#111" stroke-width="0.2" textLength="4.4" lengthAdjust="spacingAndGlyphs">6</text>
<rect x="285.60" y="253.50" width="15.10" height="0.79" fill="#ff0000" stroke="none" stroke-width="0.5"/>
<rect x="285.60" y="254.29" width="15.10" height="42.88" fill="#d45858" stroke="none" stroke-width="0.5"/>
<rect x="285.60" y="297.17" width="15.10" height="35.73" fill="#a9a9a9" stroke="none" stroke-width="0.5"/>
<line x1="285.60" y1="254.29" x2="300.70" y2="254.29" stroke="#602020" stroke-width="0.5"/>
<line x1="285.60" y1="297.17" x2="300.70" y2="297.17" stroke="#555" stroke-width="0.5"/>
<rect x="285.60" y="253.50" width="15.10" height="79.40" fill="none" stroke="#8c8c8c" stroke-width="0.55"/>
<line x1="285.50" y1="332.90" x2="285.50" y2="335.10" stroke="#aaa" stroke-width="0.5"/>
<line x1="300.80" y1="332.90" x2="300.80" y2="335.10" stroke="#aaa" stroke-width="0.5"/>
<text x="293.15" y="342.37" font-size="8.8" text-anchor="middle" fill="#111" stroke="#111" stroke-width="0.2" textLength="4.4" lengthAdjust="spacingAndGlyphs">7</text>
<circle cx="177.02" cy="253.50" r="1.25" fill="none" stroke="#333" stroke-width="0.6"/>
<circle cx="193.61" cy="269.38" r="1.25" fill="none" stroke="#333" stroke-width="0.6"/>
<circle cx="210.20" cy="274.94" r="1.25" fill="none" stroke="#333" stroke-width="0.6"/>
<circle cx="226.79" cy="282.08" r="1.25" fill="none" stroke="#333" stroke-width="0.6"/>
<circle cx="243.38" cy="292.01" r="1.25" fill="none" stroke="#333" stroke-width="0.6"/>
<circle cx="259.97" cy="296.38" r="1.25" fill="none" stroke="#333" stroke-width="0.6"/>
<circle cx="276.56" cy="297.96" r="1.25" fill="none" stroke="#333" stroke-width="0.6"/>
<circle cx="293.15" cy="297.96" r="1.25" fill="none" stroke="#333" stroke-width="0.6"/>
<circle cx="177.02" cy="253.50" r="1.25" fill="none" stroke="#3020e8" stroke-width="0.8"/>
<circle cx="193.61" cy="260.65" r="1.25" fill="none" stroke="#3020e8" stroke-width="0.8"/>
<circle cx="210.20" cy="270.17" r="1.25" fill="none" stroke="#3020e8" stroke-width="0.8"/>
<circle cx="226.79" cy="279.70" r="1.25" fill="none" stroke="#3020e8" stroke-width="0.8"/>
<circle cx="243.38" cy="291.21" r="1.25" fill="none" stroke="#3020e8" stroke-width="0.8"/>
<circle cx="259.97" cy="295.58" r="1.25" fill="none" stroke="#3020e8" stroke-width="0.8"/>
<circle cx="276.56" cy="296.38" r="1.25" fill="none" stroke="#3020e8" stroke-width="0.8"/>
<circle cx="293.15" cy="296.38" r="1.25" fill="none" stroke="#3020e8" stroke-width="0.8"/>
<text x="174.20" y="244.41" font-size="7.8" text-anchor="start" fill="#111" stroke="#111" stroke-width="0.2" textLength="101.3" lengthAdjust="spacingAndGlyphs">Fate of low protein producers</text>
<text x="237.60" y="353.34" font-size="7.9" text-anchor="middle" fill="#111" stroke="#111" stroke-width="0.2">Generation</text>
<line x1="362.50" y1="251.30" x2="362.50" y2="333.40" stroke="#bbb" stroke-width="0.7"/>
<line x1="362.50" y1="332.90" x2="364.00" y2="332.90" stroke="#999" stroke-width="0.5"/>
<text x="360.00" y="336.07" font-size="8.8" text-anchor="end" fill="#111" stroke="#111" stroke-width="0.2" textLength="4.16" lengthAdjust="spacingAndGlyphs">0</text>
<line x1="362.50" y1="317.18" x2="364.00" y2="317.18" stroke="#999" stroke-width="0.5"/>
<text x="360.00" y="320.35" font-size="8.8" text-anchor="end" fill="#111" stroke="#111" stroke-width="0.2" textLength="8.32" lengthAdjust="spacingAndGlyphs">20</text>
<line x1="362.50" y1="301.46" x2="364.00" y2="301.46" stroke="#999" stroke-width="0.5"/>
<text x="360.00" y="304.63" font-size="8.8" text-anchor="end" fill="#111" stroke="#111" stroke-width="0.2" textLength="8.32" lengthAdjust="spacingAndGlyphs">40</text>
<line x1="362.50" y1="285.74" x2="364.00" y2="285.74" stroke="#999" stroke-width="0.5"/>
<text x="360.00" y="288.91" font-size="8.8" text-anchor="end" fill="#111" stroke="#111" stroke-width="0.2" textLength="8.32" lengthAdjust="spacingAndGlyphs">60</text>
<line x1="362.50" y1="270.02" x2="364.00" y2="270.02" stroke="#999" stroke-width="0.5"/>
<text x="360.00" y="273.19" font-size="8.8" text-anchor="end" fill="#111" stroke="#111" stroke-width="0.2" textLength="8.32" lengthAdjust="spacingAndGlyphs">80</text>
<line x1="362.50" y1="254.30" x2="364.00" y2="254.30" stroke="#999" stroke-width="0.5"/>
<text x="360.00" y="257.47" font-size="8.8" text-anchor="end" fill="#111" stroke="#111" stroke-width="0.2" textLength="12.48" lengthAdjust="spacingAndGlyphs">100</text>
<line x1="362.50" y1="328.97" x2="363.40" y2="328.97" stroke="#bbb" stroke-width="0.4"/>
<line x1="362.50" y1="325.04" x2="363.40" y2="325.04" stroke="#bbb" stroke-width="0.4"/>
<line x1="362.50" y1="321.11" x2="363.40" y2="321.11" stroke="#bbb" stroke-width="0.4"/>
<line x1="362.50" y1="313.25" x2="363.40" y2="313.25" stroke="#bbb" stroke-width="0.4"/>
<line x1="362.50" y1="309.32" x2="363.40" y2="309.32" stroke="#bbb" stroke-width="0.4"/>
<line x1="362.50" y1="305.39" x2="363.40" y2="305.39" stroke="#bbb" stroke-width="0.4"/>
<line x1="362.50" y1="297.53" x2="363.40" y2="297.53" stroke="#bbb" stroke-width="0.4"/>
<line x1="362.50" y1="293.60" x2="363.40" y2="293.60" stroke="#bbb" stroke-width="0.4"/>
<line x1="362.50" y1="289.67" x2="363.40" y2="289.67" stroke="#bbb" stroke-width="0.4"/>
<line x1="362.50" y1="281.81" x2="363.40" y2="281.81" stroke="#bbb" stroke-width="0.4"/>
<line x1="362.50" y1="277.88" x2="363.40" y2="277.88" stroke="#bbb" stroke-width="0.4"/>
<line x1="362.50" y1="273.95" x2="363.40" y2="273.95" stroke="#bbb" stroke-width="0.4"/>
<line x1="362.50" y1="266.09" x2="363.40" y2="266.09" stroke="#bbb" stroke-width="0.4"/>
<line x1="362.50" y1="262.16" x2="363.40" y2="262.16" stroke="#bbb" stroke-width="0.4"/>
<line x1="362.50" y1="258.23" x2="363.40" y2="258.23" stroke="#bbb" stroke-width="0.4"/>
<line x1="362.50" y1="333.20" x2="496.20" y2="333.20" stroke="#bbb" stroke-width="0.6"/>
<rect x="364.87" y="254.30" width="14.90" height="78.60" fill="#ffff00" stroke="none" stroke-width="0.5"/>
<rect x="364.87" y="254.30" width="14.90" height="78.60" fill="none" stroke="#8c8c8c" stroke-width="0.55"/>
<line x1="364.77" y1="332.90" x2="364.77" y2="335.10" stroke="#aaa" stroke-width="0.5"/>
<line x1="379.87" y1="332.90" x2="379.87" y2="335.10" stroke="#aaa" stroke-width="0.5"/>
<text x="372.32" y="342.37" font-size="8.8" text-anchor="middle" fill="#111" stroke="#111" stroke-width="0.2" textLength="4.4" lengthAdjust="spacingAndGlyphs">0</text>
<rect x="381.36" y="254.30" width="14.90" height="47.16" fill="#ffff00" stroke="none" stroke-width="0.5"/>
<rect x="381.36" y="301.46" width="14.90" height="29.08" fill="#d4d15c" stroke="none" stroke-width="0.5"/>
<rect x="381.36" y="330.54" width="14.90" height="2.36" fill="#a9a9a9" stroke="none" stroke-width="0.5"/>
<line x1="381.36" y1="301.46" x2="396.26" y2="301.46" stroke="#606010" stroke-width="0.5"/>
<line x1="381.36" y1="330.54" x2="396.26" y2="330.54" stroke="#555" stroke-width="0.5"/>
<rect x="381.36" y="254.30" width="14.90" height="78.60" fill="none" stroke="#8c8c8c" stroke-width="0.55"/>
<line x1="381.26" y1="332.90" x2="381.26" y2="335.10" stroke="#aaa" stroke-width="0.5"/>
<line x1="396.36" y1="332.90" x2="396.36" y2="335.10" stroke="#aaa" stroke-width="0.5"/>
<text x="388.81" y="342.37" font-size="8.8" text-anchor="middle" fill="#111" stroke="#111" stroke-width="0.2" textLength="4.4" lengthAdjust="spacingAndGlyphs">1</text>
<rect x="397.85" y="254.30" width="14.90" height="35.37" fill="#ffff00" stroke="none" stroke-width="0.5"/>
<rect x="397.85" y="289.67" width="14.90" height="34.58" fill="#d4d15c" stroke="none" stroke-width="0.5"/>
<rect x="397.85" y="324.25" width="14.90" height="8.65" fill="#a9a9a9" stroke="none" stroke-width="0.5"/>
<line x1="397.85" y1="289.67" x2="412.75" y2="289.67" stroke="#606010" stroke-width="0.5"/>
<line x1="397.85" y1="324.25" x2="412.75" y2="324.25" stroke="#555" stroke-width="0.5"/>
<rect x="397.85" y="254.30" width="14.90" height="78.60" fill="none" stroke="#8c8c8c" stroke-width="0.55"/>
<line x1="397.75" y1="332.90" x2="397.75" y2="335.10" stroke="#aaa" stroke-width="0.5"/>
<line x1="412.85" y1="332.90" x2="412.85" y2="335.10" stroke="#aaa" stroke-width="0.5"/>
<text x="405.30" y="342.37" font-size="8.8" text-anchor="middle" fill="#111" stroke="#111" stroke-width="0.2" textLength="4.4" lengthAdjust="spacingAndGlyphs">2</text>
<rect x="414.34" y="254.30" width="14.90" height="26.72" fill="#ffff00" stroke="none" stroke-width="0.5"/>
<rect x="414.34" y="281.02" width="14.90" height="41.66" fill="#d4d15c" stroke="none" stroke-width="0.5"/>
<rect x="414.34" y="322.68" width="14.90" height="10.22" fill="#a9a9a9" stroke="none" stroke-width="0.5"/>
<line x1="414.34" y1="281.02" x2="429.24" y2="281.02" stroke="#606010" stroke-width="0.5"/>
<line x1="414.34" y1="322.68" x2="429.24" y2="322.68" stroke="#555" stroke-width="0.5"/>
<rect x="414.34" y="254.30" width="14.90" height="78.60" fill="none" stroke="#8c8c8c" stroke-width="0.55"/>
<line x1="414.24" y1="332.90" x2="414.24" y2="335.10" stroke="#aaa" stroke-width="0.5"/>
<line x1="429.34" y1="332.90" x2="429.34" y2="335.10" stroke="#aaa" stroke-width="0.5"/>
<text x="421.79" y="342.37" font-size="8.8" text-anchor="middle" fill="#111" stroke="#111" stroke-width="0.2" textLength="4.4" lengthAdjust="spacingAndGlyphs">3</text>
<rect x="430.83" y="254.30" width="14.90" height="17.29" fill="#ffff00" stroke="none" stroke-width="0.5"/>
<rect x="430.83" y="271.59" width="14.90" height="50.30" fill="#d4d15c" stroke="none" stroke-width="0.5"/>
<rect x="430.83" y="321.90" width="14.90" height="11.00" fill="#a9a9a9" stroke="none" stroke-width="0.5"/>
<line x1="430.83" y1="271.59" x2="445.73" y2="271.59" stroke="#606010" stroke-width="0.5"/>
<line x1="430.83" y1="321.90" x2="445.73" y2="321.90" stroke="#555" stroke-width="0.5"/>
<rect x="430.83" y="254.30" width="14.90" height="78.60" fill="none" stroke="#8c8c8c" stroke-width="0.55"/>
<line x1="430.73" y1="332.90" x2="430.73" y2="335.10" stroke="#aaa" stroke-width="0.5"/>
<line x1="445.83" y1="332.90" x2="445.83" y2="335.10" stroke="#aaa" stroke-width="0.5"/>
<text x="438.28" y="342.37" font-size="8.8" text-anchor="middle" fill="#111" stroke="#111" stroke-width="0.2" textLength="4.4" lengthAdjust="spacingAndGlyphs">4</text>
<rect x="447.32" y="254.30" width="14.90" height="6.29" fill="#ffff00" stroke="none" stroke-width="0.5"/>
<rect x="447.32" y="260.59" width="14.90" height="59.74" fill="#d4d15c" stroke="none" stroke-width="0.5"/>
<rect x="447.32" y="320.32" width="14.90" height="12.58" fill="#a9a9a9" stroke="none" stroke-width="0.5"/>
<line x1="447.32" y1="260.59" x2="462.22" y2="260.59" stroke="#606010" stroke-width="0.5"/>
<line x1="447.32" y1="320.32" x2="462.22" y2="320.32" stroke="#555" stroke-width="0.5"/>
<rect x="447.32" y="254.30" width="14.90" height="78.60" fill="none" stroke="#8c8c8c" stroke-width="0.55"/>
<line x1="447.22" y1="332.90" x2="447.22" y2="335.10" stroke="#aaa" stroke-width="0.5"/>
<line x1="462.32" y1="332.90" x2="462.32" y2="335.10" stroke="#aaa" stroke-width="0.5"/>
<text x="454.77" y="342.37" font-size="8.8" text-anchor="middle" fill="#111" stroke="#111" stroke-width="0.2" textLength="4.4" lengthAdjust="spacingAndGlyphs">5</text>
<rect x="463.81" y="254.30" width="14.90" height="2.36" fill="#ffff00" stroke="none" stroke-width="0.5"/>
<rect x="463.81" y="256.66" width="14.90" height="63.67" fill="#d4d15c" stroke="none" stroke-width="0.5"/>
<rect x="463.81" y="320.32" width="14.90" height="12.58" fill="#a9a9a9" stroke="none" stroke-width="0.5"/>
<line x1="463.81" y1="256.66" x2="478.71" y2="256.66" stroke="#606010" stroke-width="0.5"/>
<line x1="463.81" y1="320.32" x2="478.71" y2="320.32" stroke="#555" stroke-width="0.5"/>
<rect x="463.81" y="254.30" width="14.90" height="78.60" fill="none" stroke="#8c8c8c" stroke-width="0.55"/>
<line x1="463.71" y1="332.90" x2="463.71" y2="335.10" stroke="#aaa" stroke-width="0.5"/>
<line x1="478.81" y1="332.90" x2="478.81" y2="335.10" stroke="#aaa" stroke-width="0.5"/>
<text x="471.26" y="342.37" font-size="8.8" text-anchor="middle" fill="#111" stroke="#111" stroke-width="0.2" textLength="4.4" lengthAdjust="spacingAndGlyphs">6</text>
<rect x="480.30" y="254.30" width="14.90" height="1.57" fill="#ffff00" stroke="none" stroke-width="0.5"/>
<rect x="480.30" y="255.87" width="14.90" height="64.45" fill="#d4d15c" stroke="none" stroke-width="0.5"/>
<rect x="480.30" y="320.32" width="14.90" height="12.58" fill="#a9a9a9" stroke="none" stroke-width="0.5"/>
<line x1="480.30" y1="255.87" x2="495.20" y2="255.87" stroke="#606010" stroke-width="0.5"/>
<line x1="480.30" y1="320.32" x2="495.20" y2="320.32" stroke="#555" stroke-width="0.5"/>
<rect x="480.30" y="254.30" width="14.90" height="78.60" fill="none" stroke="#8c8c8c" stroke-width="0.55"/>
<line x1="480.20" y1="332.90" x2="480.20" y2="335.10" stroke="#aaa" stroke-width="0.5"/>
<line x1="495.30" y1="332.90" x2="495.30" y2="335.10" stroke="#aaa" stroke-width="0.5"/>
<text x="487.75" y="342.37" font-size="8.8" text-anchor="middle" fill="#111" stroke="#111" stroke-width="0.2" textLength="4.4" lengthAdjust="spacingAndGlyphs">7</text>
<circle cx="372.32" cy="332.90" r="1.25" fill="none" stroke="#333" stroke-width="0.6"/>
<circle cx="388.81" cy="292.81" r="1.25" fill="none" stroke="#333" stroke-width="0.6"/>
<circle cx="388.81" cy="327.40" r="1.25" fill="none" stroke="#333" stroke-width="0.6"/>
<circle cx="405.30" cy="288.10" r="1.25" fill="none" stroke="#333" stroke-width="0.6"/>
<circle cx="405.30" cy="322.68" r="1.25" fill="none" stroke="#333" stroke-width="0.6"/>
<circle cx="421.79" cy="282.60" r="1.25" fill="none" stroke="#333" stroke-width="0.6"/>
<circle cx="421.79" cy="321.11" r="1.25" fill="none" stroke="#333" stroke-width="0.6"/>
<circle cx="438.28" cy="279.45" r="1.25" fill="none" stroke="#333" stroke-width="0.6"/>
<circle cx="438.28" cy="320.32" r="1.25" fill="none" stroke="#333" stroke-width="0.6"/>
<circle cx="454.77" cy="266.09" r="1.25" fill="none" stroke="#333" stroke-width="0.6"/>
<circle cx="454.77" cy="319.54" r="1.25" fill="none" stroke="#333" stroke-width="0.6"/>
<circle cx="471.26" cy="256.66" r="1.25" fill="none" stroke="#333" stroke-width="0.6"/>
<circle cx="471.26" cy="319.54" r="1.25" fill="none" stroke="#333" stroke-width="0.6"/>
<circle cx="487.75" cy="255.87" r="1.25" fill="none" stroke="#333" stroke-width="0.6"/>
<circle cx="487.75" cy="318.75" r="1.25" fill="none" stroke="#333" stroke-width="0.6"/>
<circle cx="372.32" cy="332.90" r="1.25" fill="none" stroke="#3020e8" stroke-width="0.8"/>
<circle cx="388.81" cy="309.32" r="1.25" fill="none" stroke="#3020e8" stroke-width="0.8"/>
<circle cx="388.81" cy="332.11" r="1.25" fill="none" stroke="#3020e8" stroke-width="0.8"/>
<circle cx="405.30" cy="290.46" r="1.25" fill="none" stroke="#3020e8" stroke-width="0.8"/>
<circle cx="405.30" cy="325.83" r="1.25" fill="none" stroke="#3020e8" stroke-width="0.8"/>
<circle cx="421.79" cy="279.45" r="1.25" fill="none" stroke="#3020e8" stroke-width="0.8"/>
<circle cx="421.79" cy="323.47" r="1.25" fill="none" stroke="#3020e8" stroke-width="0.8"/>
<circle cx="438.28" cy="262.95" r="1.25" fill="none" stroke="#3020e8" stroke-width="0.8"/>
<circle cx="438.28" cy="323.47" r="1.25" fill="none" stroke="#3020e8" stroke-width="0.8"/>
<circle cx="454.77" cy="254.30" r="1.25" fill="none" stroke="#3020e8" stroke-width="0.8"/>
<circle cx="454.77" cy="320.32" r="1.25" fill="none" stroke="#3020e8" stroke-width="0.8"/>
<circle cx="471.26" cy="254.30" r="1.25" fill="none" stroke="#3020e8" stroke-width="0.8"/>
<circle cx="471.26" cy="320.32" r="1.25" fill="none" stroke="#3020e8" stroke-width="0.8"/>
<circle cx="487.75" cy="254.30" r="1.25" fill="none" stroke="#3020e8" stroke-width="0.8"/>
<circle cx="487.75" cy="320.32" r="1.25" fill="none" stroke="#3020e8" stroke-width="0.8"/>
<text x="371.60" y="245.01" font-size="7.8" text-anchor="start" fill="#111" stroke="#111" stroke-width="0.2" textLength="113.9" lengthAdjust="spacingAndGlyphs">Fate of high metabolite producers</text>
<text x="432.70" y="353.34" font-size="7.9" text-anchor="middle" fill="#111" stroke="#111" stroke-width="0.2">Generation</text>
<line x1="513.50" y1="252.40" x2="513.50" y2="334.20" stroke="#bbb" stroke-width="0.7"/>
<line x1="513.50" y1="333.70" x2="515.00" y2="333.70" stroke="#999" stroke-width="0.5"/>
<text x="511.00" y="336.87" font-size="8.8" text-anchor="end" fill="#111" stroke="#111" stroke-width="0.2" textLength="4.16" lengthAdjust="spacingAndGlyphs">0</text>
<line x1="513.50" y1="318.04" x2="515.00" y2="318.04" stroke="#999" stroke-width="0.5"/>
<text x="511.00" y="321.21" font-size="8.8" text-anchor="end" fill="#111" stroke="#111" stroke-width="0.2" textLength="8.32" lengthAdjust="spacingAndGlyphs">20</text>
<line x1="513.50" y1="302.38" x2="515.00" y2="302.38" stroke="#999" stroke-width="0.5"/>
<text x="511.00" y="305.55" font-size="8.8" text-anchor="end" fill="#111" stroke="#111" stroke-width="0.2" textLength="8.32" lengthAdjust="spacingAndGlyphs">40</text>
<line x1="513.50" y1="286.72" x2="515.00" y2="286.72" stroke="#999" stroke-width="0.5"/>
<text x="511.00" y="289.89" font-size="8.8" text-anchor="end" fill="#111" stroke="#111" stroke-width="0.2" textLength="8.32" lengthAdjust="spacingAndGlyphs">60</text>
<line x1="513.50" y1="271.06" x2="515.00" y2="271.06" stroke="#999" stroke-width="0.5"/>
<text x="511.00" y="274.23" font-size="8.8" text-anchor="end" fill="#111" stroke="#111" stroke-width="0.2" textLength="8.32" lengthAdjust="spacingAndGlyphs">80</text>
<line x1="513.50" y1="255.40" x2="515.00" y2="255.40" stroke="#999" stroke-width="0.5"/>
<text x="511.00" y="258.57" font-size="8.8" text-anchor="end" fill="#111" stroke="#111" stroke-width="0.2" textLength="12.48" lengthAdjust="spacingAndGlyphs">100</text>
<line x1="513.50" y1="329.78" x2="514.40" y2="329.78" stroke="#bbb" stroke-width="0.4"/>
<line x1="513.50" y1="325.87" x2="514.40" y2="325.87" stroke="#bbb" stroke-width="0.4"/>
<line x1="513.50" y1="321.95" x2="514.40" y2="321.95" stroke="#bbb" stroke-width="0.4"/>
<line x1="513.50" y1="314.12" x2="514.40" y2="314.12" stroke="#bbb" stroke-width="0.4"/>
<line x1="513.50" y1="310.21" x2="514.40" y2="310.21" stroke="#bbb" stroke-width="0.4"/>
<line x1="513.50" y1="306.30" x2="514.40" y2="306.30" stroke="#bbb" stroke-width="0.4"/>
<line x1="513.50" y1="298.46" x2="514.40" y2="298.46" stroke="#bbb" stroke-width="0.4"/>
<line x1="513.50" y1="294.55" x2="514.40" y2="294.55" stroke="#bbb" stroke-width="0.4"/>
<line x1="513.50" y1="290.63" x2="514.40" y2="290.63" stroke="#bbb" stroke-width="0.4"/>
<line x1="513.50" y1="282.81" x2="514.40" y2="282.81" stroke="#bbb" stroke-width="0.4"/>
<line x1="513.50" y1="278.89" x2="514.40" y2="278.89" stroke="#bbb" stroke-width="0.4"/>
<line x1="513.50" y1="274.98" x2="514.40" y2="274.98" stroke="#bbb" stroke-width="0.4"/>
<line x1="513.50" y1="267.14" x2="514.40" y2="267.14" stroke="#bbb" stroke-width="0.4"/>
<line x1="513.50" y1="263.23" x2="514.40" y2="263.23" stroke="#bbb" stroke-width="0.4"/>
<line x1="513.50" y1="259.31" x2="514.40" y2="259.31" stroke="#bbb" stroke-width="0.4"/>
<line x1="513.50" y1="334.00" x2="646.05" y2="334.00" stroke="#bbb" stroke-width="0.6"/>
<rect x="516.30" y="255.40" width="14.30" height="78.30" fill="#a9a9a9" stroke="none" stroke-width="0.5"/>
<rect x="516.30" y="255.40" width="14.30" height="78.30" fill="none" stroke="#8c8c8c" stroke-width="0.55"/>
<line x1="516.20" y1="333.70" x2="516.20" y2="335.90" stroke="#aaa" stroke-width="0.5"/>
<line x1="530.70" y1="333.70" x2="530.70" y2="335.90" stroke="#aaa" stroke-width="0.5"/>
<text x="523.45" y="342.37" font-size="8.8" text-anchor="middle" fill="#111" stroke="#111" stroke-width="0.2" textLength="4.4" lengthAdjust="spacingAndGlyphs">0</text>
<rect x="532.65" y="255.40" width="14.30" height="2.35" fill="#ffff00" stroke="none" stroke-width="0.5"/>
<rect x="532.65" y="257.75" width="14.30" height="19.57" fill="#d4d15c" stroke="none" stroke-width="0.5"/>
<rect x="532.65" y="277.32" width="14.30" height="56.38" fill="#a9a9a9" stroke="none" stroke-width="0.5"/>
<line x1="532.65" y1="257.75" x2="546.95" y2="257.75" stroke="#606010" stroke-width="0.5"/>
<line x1="532.65" y1="277.32" x2="546.95" y2="277.32" stroke="#555" stroke-width="0.5"/>
<rect x="532.65" y="255.40" width="14.30" height="78.30" fill="none" stroke="#8c8c8c" stroke-width="0.55"/>
<line x1="532.55" y1="333.70" x2="532.55" y2="335.90" stroke="#aaa" stroke-width="0.5"/>
<line x1="547.05" y1="333.70" x2="547.05" y2="335.90" stroke="#aaa" stroke-width="0.5"/>
<text x="539.80" y="342.37" font-size="8.8" text-anchor="middle" fill="#111" stroke="#111" stroke-width="0.2" textLength="4.4" lengthAdjust="spacingAndGlyphs">1</text>
<rect x="549.00" y="255.40" width="14.30" height="3.13" fill="#ffff00" stroke="none" stroke-width="0.5"/>
<rect x="549.00" y="258.53" width="14.30" height="31.32" fill="#d4d15c" stroke="none" stroke-width="0.5"/>
<rect x="549.00" y="289.85" width="14.30" height="43.85" fill="#a9a9a9" stroke="none" stroke-width="0.5"/>
<line x1="549.00" y1="258.53" x2="563.30" y2="258.53" stroke="#606010" stroke-width="0.5"/>
<line x1="549.00" y1="289.85" x2="563.30" y2="289.85" stroke="#555" stroke-width="0.5"/>
<rect x="549.00" y="255.40" width="14.30" height="78.30" fill="none" stroke="#8c8c8c" stroke-width="0.55"/>
<line x1="548.90" y1="333.70" x2="548.90" y2="335.90" stroke="#aaa" stroke-width="0.5"/>
<line x1="563.40" y1="333.70" x2="563.40" y2="335.90" stroke="#aaa" stroke-width="0.5"/>
<text x="556.15" y="342.37" font-size="8.8" text-anchor="middle" fill="#111" stroke="#111" stroke-width="0.2" textLength="4.4" lengthAdjust="spacingAndGlyphs">2</text>
<rect x="565.35" y="255.40" width="14.30" height="3.91" fill="#ffff00" stroke="none" stroke-width="0.5"/>
<rect x="565.35" y="259.31" width="14.30" height="49.33" fill="#d4d15c" stroke="none" stroke-width="0.5"/>
<rect x="565.35" y="308.64" width="14.30" height="25.06" fill="#a9a9a9" stroke="none" stroke-width="0.5"/>
<line x1="565.35" y1="259.31" x2="579.65" y2="259.31" stroke="#606010" stroke-width="0.5"/>
<line x1="565.35" y1="308.64" x2="579.65" y2="308.64" stroke="#555" stroke-width="0.5"/>
<rect x="565.35" y="255.40" width="14.30" height="78.30" fill="none" stroke="#8c8c8c" stroke-width="0.55"/>
<line x1="565.25" y1="333.70" x2="565.25" y2="335.90" stroke="#aaa" stroke-width="0.5"/>
<line x1="579.75" y1="333.70" x2="579.75" y2="335.90" stroke="#aaa" stroke-width="0.5"/>
<text x="572.50" y="342.37" font-size="8.8" text-anchor="middle" fill="#111" stroke="#111" stroke-width="0.2" textLength="4.4" lengthAdjust="spacingAndGlyphs">3</text>
<rect x="581.70" y="255.40" width="14.30" height="8.61" fill="#ffff00" stroke="none" stroke-width="0.5"/>
<rect x="581.70" y="264.01" width="14.30" height="53.24" fill="#d4d15c" stroke="none" stroke-width="0.5"/>
<rect x="581.70" y="317.26" width="14.30" height="16.44" fill="#a9a9a9" stroke="none" stroke-width="0.5"/>
<line x1="581.70" y1="264.01" x2="596.00" y2="264.01" stroke="#606010" stroke-width="0.5"/>
<line x1="581.70" y1="317.26" x2="596.00" y2="317.26" stroke="#555" stroke-width="0.5"/>
<rect x="581.70" y="255.40" width="14.30" height="78.30" fill="none" stroke="#8c8c8c" stroke-width="0.55"/>
<line x1="581.60" y1="333.70" x2="581.60" y2="335.90" stroke="#aaa" stroke-width="0.5"/>
<line x1="596.10" y1="333.70" x2="596.10" y2="335.90" stroke="#aaa" stroke-width="0.5"/>
<text x="588.85" y="342.37" font-size="8.8" text-anchor="middle" fill="#111" stroke="#111" stroke-width="0.2" textLength="4.4" lengthAdjust="spacingAndGlyphs">4</text>
<rect x="598.05" y="255.40" width="14.30" height="10.73" fill="#ffff00" stroke="none" stroke-width="0.5"/>
<rect x="598.05" y="266.13" width="14.30" height="61.31" fill="#d4d15c" stroke="none" stroke-width="0.5"/>
<rect x="598.05" y="327.44" width="14.30" height="6.26" fill="#a9a9a9" stroke="none" stroke-width="0.5"/>
<line x1="598.05" y1="266.13" x2="612.35" y2="266.13" stroke="#606010" stroke-width="0.5"/>
<line x1="598.05" y1="327.44" x2="612.35" y2="327.44" stroke="#555" stroke-width="0.5"/>
<rect x="598.05" y="255.40" width="14.30" height="78.30" fill="none" stroke="#8c8c8c" stroke-width="0.55"/>
<line x1="597.95" y1="333.70" x2="597.95" y2="335.90" stroke="#aaa" stroke-width="0.5"/>
<line x1="612.45" y1="333.70" x2="612.45" y2="335.90" stroke="#aaa" stroke-width="0.5"/>
<text x="605.20" y="342.37" font-size="8.8" text-anchor="middle" fill="#111" stroke="#111" stroke-width="0.2" textLength="4.4" lengthAdjust="spacingAndGlyphs">5</text>
<rect x="614.40" y="255.40" width="14.30" height="11.74" fill="#ffff00" stroke="none" stroke-width="0.5"/>
<rect x="614.40" y="267.14" width="14.30" height="63.74" fill="#d4d15c" stroke="none" stroke-width="0.5"/>
<rect x="614.40" y="330.88" width="14.30" height="2.82" fill="#a9a9a9" stroke="none" stroke-width="0.5"/>
<line x1="614.40" y1="267.14" x2="628.70" y2="267.14" stroke="#606010" stroke-width="0.5"/>
<line x1="614.40" y1="330.88" x2="628.70" y2="330.88" stroke="#555" stroke-width="0.5"/>
<rect x="614.40" y="255.40" width="14.30" height="78.30" fill="none" stroke="#8c8c8c" stroke-width="0.55"/>
<line x1="614.30" y1="333.70" x2="614.30" y2="335.90" stroke="#aaa" stroke-width="0.5"/>
<line x1="628.80" y1="333.70" x2="628.80" y2="335.90" stroke="#aaa" stroke-width="0.5"/>
<text x="621.55" y="342.37" font-size="8.8" text-anchor="middle" fill="#111" stroke="#111" stroke-width="0.2" textLength="4.4" lengthAdjust="spacingAndGlyphs">6</text>
<rect x="630.75" y="255.40" width="14.30" height="11.74" fill="#ffff00" stroke="none" stroke-width="0.5"/>
<rect x="630.75" y="267.14" width="14.30" height="63.74" fill="#d4d15c" stroke="none" stroke-width="0.5"/>
<rect x="630.75" y="330.88" width="14.30" height="2.82" fill="#a9a9a9" stroke="none" stroke-width="0.5"/>
<line x1="630.75" y1="267.14" x2="645.05" y2="267.14" stroke="#606010" stroke-width="0.5"/>
<line x1="630.75" y1="330.88" x2="645.05" y2="330.88" stroke="#555" stroke-width="0.5"/>
<rect x="630.75" y="255.40" width="14.30" height="78.30" fill="none" stroke="#8c8c8c" stroke-width="0.55"/>
<line x1="630.65" y1="333.70" x2="630.65" y2="335.90" stroke="#aaa" stroke-width="0.5"/>
<line x1="645.15" y1="333.70" x2="645.15" y2="335.90" stroke="#aaa" stroke-width="0.5"/>
<text x="637.90" y="342.37" font-size="8.8" text-anchor="middle" fill="#111" stroke="#111" stroke-width="0.2" textLength="4.4" lengthAdjust="spacingAndGlyphs">7</text>
<circle cx="523.45" cy="255.40" r="1.25" fill="none" stroke="#333" stroke-width="0.6"/>
<circle cx="539.80" cy="256.97" r="1.25" fill="none" stroke="#333" stroke-width="0.6"/>
<circle cx="539.80" cy="283.59" r="1.25" fill="none" stroke="#333" stroke-width="0.6"/>
<circle cx="556.15" cy="257.75" r="1.25" fill="none" stroke="#333" stroke-width="0.6"/>
<circle cx="556.15" cy="293.77" r="1.25" fill="none" stroke="#333" stroke-width="0.6"/>
<circle cx="572.50" cy="258.53" r="1.25" fill="none" stroke="#333" stroke-width="0.6"/>
<circle cx="572.50" cy="306.30" r="1.25" fill="none" stroke="#333" stroke-width="0.6"/>
<circle cx="588.85" cy="260.88" r="1.25" fill="none" stroke="#333" stroke-width="0.6"/>
<circle cx="588.85" cy="311.78" r="1.25" fill="none" stroke="#333" stroke-width="0.6"/>
<circle cx="605.20" cy="263.23" r="1.25" fill="none" stroke="#333" stroke-width="0.6"/>
<circle cx="605.20" cy="322.74" r="1.25" fill="none" stroke="#333" stroke-width="0.6"/>
<circle cx="621.55" cy="265.58" r="1.25" fill="none" stroke="#333" stroke-width="0.6"/>
<circle cx="621.55" cy="329.00" r="1.25" fill="none" stroke="#333" stroke-width="0.6"/>
<circle cx="637.90" cy="265.58" r="1.25" fill="none" stroke="#333" stroke-width="0.6"/>
<circle cx="637.90" cy="329.00" r="1.25" fill="none" stroke="#333" stroke-width="0.6"/>
<circle cx="523.45" cy="255.40" r="1.25" fill="none" stroke="#3020e8" stroke-width="0.8"/>
<circle cx="539.80" cy="258.53" r="1.25" fill="none" stroke="#3020e8" stroke-width="0.8"/>
<circle cx="539.80" cy="270.28" r="1.25" fill="none" stroke="#3020e8" stroke-width="0.8"/>
<circle cx="556.15" cy="285.15" r="1.25" fill="none" stroke="#3020e8" stroke-width="0.8"/>
<circle cx="572.50" cy="258.53" r="1.25" fill="none" stroke="#3020e8" stroke-width="0.8"/>
<circle cx="572.50" cy="310.21" r="1.25" fill="none" stroke="#3020e8" stroke-width="0.8"/>
<circle cx="588.85" cy="267.14" r="1.25" fill="none" stroke="#3020e8" stroke-width="0.8"/>
<circle cx="588.85" cy="322.74" r="1.25" fill="none" stroke="#3020e8" stroke-width="0.8"/>
<circle cx="605.20" cy="267.14" r="1.25" fill="none" stroke="#3020e8" stroke-width="0.8"/>
<circle cx="605.20" cy="330.57" r="1.25" fill="none" stroke="#3020e8" stroke-width="0.8"/>
<circle cx="621.55" cy="267.14" r="1.25" fill="none" stroke="#3020e8" stroke-width="0.8"/>
<circle cx="621.55" cy="332.13" r="1.25" fill="none" stroke="#3020e8" stroke-width="0.8"/>
<circle cx="637.90" cy="266.36" r="1.25" fill="none" stroke="#3020e8" stroke-width="0.8"/>
<circle cx="637.90" cy="332.13" r="1.25" fill="none" stroke="#3020e8" stroke-width="0.8"/>
<text x="519.70" y="244.71" font-size="7.8" text-anchor="start" fill="#111" stroke="#111" stroke-width="0.2" textLength="110.1" lengthAdjust="spacingAndGlyphs">Fate of low metabolite producers</text>
<text x="580.90" y="353.34" font-size="7.9" text-anchor="middle" fill="#111" stroke="#111" stroke-width="0.2">Generation</text>
<text x="7.02" y="295.40" font-size="8.1" text-anchor="middle" fill="#111" stroke="#111" stroke-width="0.2" transform="rotate(-90 7.016 295.4)">% Producer</text>
<text x="348.72" y="291.70" font-size="8.1" text-anchor="middle" fill="#111" stroke="#111" stroke-width="0.2" transform="rotate(-90 348.716 291.7)">% Producer</text>
<text x="309.50" y="264.24" font-size="7.6" text-anchor="start" fill="#111" stroke="#111" stroke-width="0.2">Producer</text>
<text x="309.50" y="273.54" font-size="7.6" text-anchor="start" fill="#111" stroke="#111" stroke-width="0.2">Level</text>
<rect x="310.90" y="281.80" width="3.6" height="3.6" fill="#ff0000" stroke="#666" stroke-width="0.35"/>
<text x="317.60" y="286.84" font-size="8.45" text-anchor="start" fill="#111" stroke="#111" stroke-width="0.2">High</text>
<rect x="310.90" y="293.45" width="3.6" height="3.6" fill="#d45858" stroke="#666" stroke-width="0.35"/>
<text x="317.60" y="298.49" font-size="8.45" text-anchor="start" fill="#111" stroke="#111" stroke-width="0.2">Mid</text>
<rect x="310.90" y="305.10" width="3.6" height="3.6" fill="#a9a9a9" stroke="#666" stroke-width="0.35"/>
<text x="317.60" y="310.14" font-size="8.45" text-anchor="start" fill="#111" stroke="#111" stroke-width="0.2">Low</text>
<text x="654.10" y="264.71" font-size="7.25" text-anchor="start" fill="#111" stroke="#111" stroke-width="0.2">Producer</text>
<text x="654.10" y="274.01" font-size="7.25" text-anchor="start" fill="#111" stroke="#111" stroke-width="0.2">Level</text>
<rect x="655.50" y="282.80" width="3.6" height="3.6" fill="#ffff00" stroke="#666" stroke-width="0.35"/>
<text x="661.90" y="287.75" font-size="8.2" text-anchor="start" fill="#111" stroke="#111" stroke-width="0.2">High</text>
<rect x="655.50" y="295.00" width="3.6" height="3.6" fill="#d4d15c" stroke="#666" stroke-width="0.35"/>
<text x="661.90" y="299.95" font-size="8.2" text-anchor="start" fill="#111" stroke="#111" stroke-width="0.2">Mid</text>
<rect x="655.50" y="307.20" width="3.6" height="3.6" fill="#a9a9a9" stroke="#666" stroke-width="0.35"/>
<text x="661.90" y="312.15" font-size="8.2" text-anchor="start" fill="#111" stroke="#111" stroke-width="0.2">Low</text>
</svg></body></html>
